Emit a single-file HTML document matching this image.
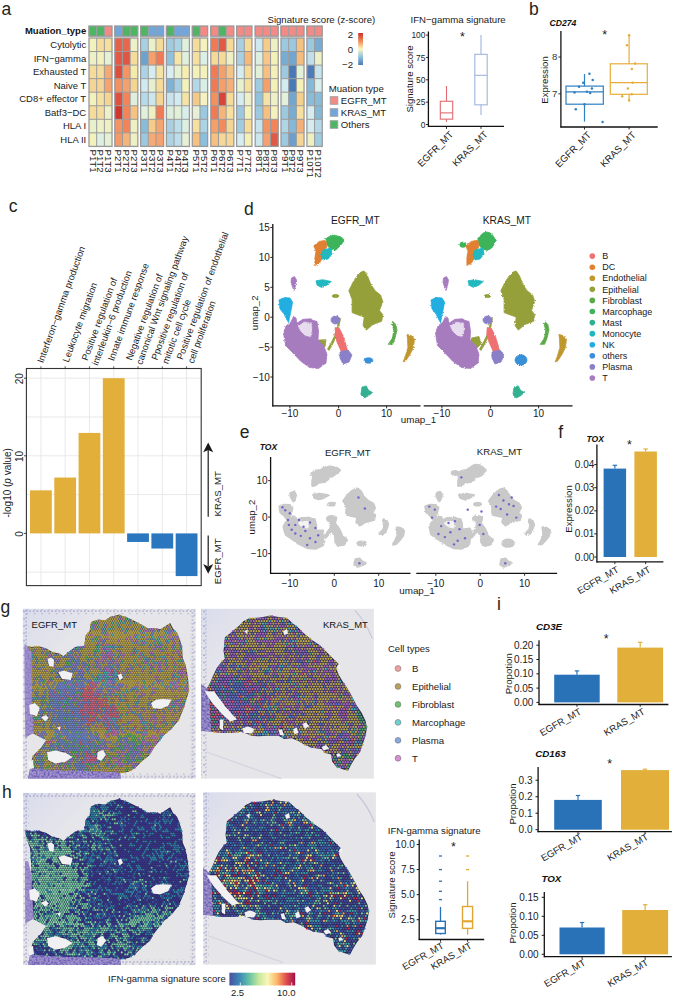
<!DOCTYPE html><html><head><meta charset="utf-8"><style>html,body{margin:0;padding:0;background:#fff;}svg{display:block;}</style></head><body>
<svg width="685" height="999" viewBox="0 0 685 999" font-family='"Liberation Sans", sans-serif'>
<rect width="685" height="999" fill="#fff"/>
<text x="1.50" y="14.50" font-size="17.5" text-anchor="start" fill="#231f20">a</text>
<rect x="89.00" y="26.00" width="7.68" height="10.20" fill="#4db564"/>
<rect x="96.68" y="26.00" width="7.68" height="10.20" fill="#4db564"/>
<rect x="104.36" y="26.00" width="7.68" height="10.20" fill="#f28a86"/>
<line x1="89.00" y1="26.00" x2="89.00" y2="36.20" stroke="#9a9a9a" stroke-width="1.0"/>
<line x1="96.68" y1="26.00" x2="96.68" y2="36.20" stroke="#9a9a9a" stroke-width="1.0"/>
<line x1="104.36" y1="26.00" x2="104.36" y2="36.20" stroke="#9a9a9a" stroke-width="1.0"/>
<rect x="89.00" y="26.00" width="23.04" height="10.20" fill="none" stroke="#9a9a9a" stroke-width="1.3"/>
<rect x="89.00" y="38.00" width="7.68" height="13.55" fill="#f3f2bd"/>
<rect x="96.68" y="38.00" width="7.68" height="13.55" fill="#f5dc9a"/>
<rect x="104.36" y="38.00" width="7.68" height="13.55" fill="#f5de9e"/>
<rect x="89.00" y="51.55" width="7.68" height="13.55" fill="#eef0c8"/>
<rect x="96.68" y="51.55" width="7.68" height="13.55" fill="#f3f2bd"/>
<rect x="104.36" y="51.55" width="7.68" height="13.55" fill="#e5f0d5"/>
<rect x="89.00" y="65.10" width="7.68" height="13.55" fill="#f5dc9a"/>
<rect x="96.68" y="65.10" width="7.68" height="13.55" fill="#f5dc9a"/>
<rect x="104.36" y="65.10" width="7.68" height="13.55" fill="#f5a872"/>
<rect x="89.00" y="78.65" width="7.68" height="13.55" fill="#f5d596"/>
<rect x="96.68" y="78.65" width="7.68" height="13.55" fill="#f5d596"/>
<rect x="104.36" y="78.65" width="7.68" height="13.55" fill="#f5a470"/>
<rect x="89.00" y="92.20" width="7.68" height="13.55" fill="#f3f2bd"/>
<rect x="96.68" y="92.20" width="7.68" height="13.55" fill="#f5e0a0"/>
<rect x="104.36" y="92.20" width="7.68" height="13.55" fill="#f5d592"/>
<rect x="89.00" y="105.75" width="7.68" height="13.55" fill="#f5dc9a"/>
<rect x="96.68" y="105.75" width="7.68" height="13.55" fill="#f5dc9a"/>
<rect x="104.36" y="105.75" width="7.68" height="13.55" fill="#eef0c8"/>
<rect x="89.00" y="119.30" width="7.68" height="13.55" fill="#e8f0cc"/>
<rect x="96.68" y="119.30" width="7.68" height="13.55" fill="#eef0c8"/>
<rect x="104.36" y="119.30" width="7.68" height="13.55" fill="#eef0c4"/>
<rect x="89.00" y="132.85" width="7.68" height="13.55" fill="#f3f2bd"/>
<rect x="96.68" y="132.85" width="7.68" height="13.55" fill="#dcefe0"/>
<rect x="104.36" y="132.85" width="7.68" height="13.55" fill="#e5f0d5"/>
<line x1="89.00" y1="51.55" x2="112.04" y2="51.55" stroke="#9a9a9a" stroke-width="1.0"/>
<line x1="89.00" y1="65.10" x2="112.04" y2="65.10" stroke="#9a9a9a" stroke-width="1.0"/>
<line x1="89.00" y1="78.65" x2="112.04" y2="78.65" stroke="#9a9a9a" stroke-width="1.0"/>
<line x1="89.00" y1="92.20" x2="112.04" y2="92.20" stroke="#9a9a9a" stroke-width="1.0"/>
<line x1="89.00" y1="105.75" x2="112.04" y2="105.75" stroke="#9a9a9a" stroke-width="1.0"/>
<line x1="89.00" y1="119.30" x2="112.04" y2="119.30" stroke="#9a9a9a" stroke-width="1.0"/>
<line x1="89.00" y1="132.85" x2="112.04" y2="132.85" stroke="#9a9a9a" stroke-width="1.0"/>
<line x1="96.68" y1="38.00" x2="96.68" y2="146.40" stroke="#9a9a9a" stroke-width="1.0"/>
<line x1="104.36" y1="38.00" x2="104.36" y2="146.40" stroke="#9a9a9a" stroke-width="1.0"/>
<rect x="89.00" y="38.00" width="23.04" height="108.40" fill="none" stroke="#9a9a9a" stroke-width="1.3"/>
<rect x="114.80" y="26.00" width="7.68" height="10.20" fill="#72a6db"/>
<rect x="122.48" y="26.00" width="7.68" height="10.20" fill="#4db564"/>
<rect x="130.16" y="26.00" width="7.68" height="10.20" fill="#4db564"/>
<line x1="114.80" y1="26.00" x2="114.80" y2="36.20" stroke="#9a9a9a" stroke-width="1.0"/>
<line x1="122.48" y1="26.00" x2="122.48" y2="36.20" stroke="#9a9a9a" stroke-width="1.0"/>
<line x1="130.16" y1="26.00" x2="130.16" y2="36.20" stroke="#9a9a9a" stroke-width="1.0"/>
<rect x="114.80" y="26.00" width="23.04" height="10.20" fill="none" stroke="#9a9a9a" stroke-width="1.3"/>
<rect x="114.80" y="38.00" width="7.68" height="13.55" fill="#e5624a"/>
<rect x="122.48" y="38.00" width="7.68" height="13.55" fill="#e8674c"/>
<rect x="130.16" y="38.00" width="7.68" height="13.55" fill="#eef0c8"/>
<rect x="114.80" y="51.55" width="7.68" height="13.55" fill="#e25a45"/>
<rect x="122.48" y="51.55" width="7.68" height="13.55" fill="#e05545"/>
<rect x="130.16" y="51.55" width="7.68" height="13.55" fill="#f5dc9a"/>
<rect x="114.80" y="65.10" width="7.68" height="13.55" fill="#dc4f3d"/>
<rect x="122.48" y="65.10" width="7.68" height="13.55" fill="#f59363"/>
<rect x="130.16" y="65.10" width="7.68" height="13.55" fill="#f5eba8"/>
<rect x="114.80" y="78.65" width="7.68" height="13.55" fill="#f59060"/>
<rect x="122.48" y="78.65" width="7.68" height="13.55" fill="#f5a070"/>
<rect x="130.16" y="78.65" width="7.68" height="13.55" fill="#f5d592"/>
<rect x="114.80" y="92.20" width="7.68" height="13.55" fill="#df5040"/>
<rect x="122.48" y="92.20" width="7.68" height="13.55" fill="#f3845a"/>
<rect x="130.16" y="92.20" width="7.68" height="13.55" fill="#deefdd"/>
<rect x="114.80" y="105.75" width="7.68" height="13.55" fill="#d0352e"/>
<rect x="122.48" y="105.75" width="7.68" height="13.55" fill="#f3845a"/>
<rect x="130.16" y="105.75" width="7.68" height="13.55" fill="#f5c282"/>
<rect x="114.80" y="119.30" width="7.68" height="13.55" fill="#f39464"/>
<rect x="122.48" y="119.30" width="7.68" height="13.55" fill="#f3845a"/>
<rect x="130.16" y="119.30" width="7.68" height="13.55" fill="#eef0c4"/>
<rect x="114.80" y="132.85" width="7.68" height="13.55" fill="#f39a68"/>
<rect x="122.48" y="132.85" width="7.68" height="13.55" fill="#f5b57a"/>
<rect x="130.16" y="132.85" width="7.68" height="13.55" fill="#eef0c4"/>
<line x1="114.80" y1="51.55" x2="137.84" y2="51.55" stroke="#9a9a9a" stroke-width="1.0"/>
<line x1="114.80" y1="65.10" x2="137.84" y2="65.10" stroke="#9a9a9a" stroke-width="1.0"/>
<line x1="114.80" y1="78.65" x2="137.84" y2="78.65" stroke="#9a9a9a" stroke-width="1.0"/>
<line x1="114.80" y1="92.20" x2="137.84" y2="92.20" stroke="#9a9a9a" stroke-width="1.0"/>
<line x1="114.80" y1="105.75" x2="137.84" y2="105.75" stroke="#9a9a9a" stroke-width="1.0"/>
<line x1="114.80" y1="119.30" x2="137.84" y2="119.30" stroke="#9a9a9a" stroke-width="1.0"/>
<line x1="114.80" y1="132.85" x2="137.84" y2="132.85" stroke="#9a9a9a" stroke-width="1.0"/>
<line x1="122.48" y1="38.00" x2="122.48" y2="146.40" stroke="#9a9a9a" stroke-width="1.0"/>
<line x1="130.16" y1="38.00" x2="130.16" y2="146.40" stroke="#9a9a9a" stroke-width="1.0"/>
<rect x="114.80" y="38.00" width="23.04" height="108.40" fill="none" stroke="#9a9a9a" stroke-width="1.3"/>
<rect x="140.60" y="26.00" width="7.68" height="10.20" fill="#4db564"/>
<rect x="148.28" y="26.00" width="7.68" height="10.20" fill="#72a6db"/>
<rect x="155.96" y="26.00" width="7.68" height="10.20" fill="#72a6db"/>
<line x1="140.60" y1="26.00" x2="140.60" y2="36.20" stroke="#9a9a9a" stroke-width="1.0"/>
<line x1="148.28" y1="26.00" x2="148.28" y2="36.20" stroke="#9a9a9a" stroke-width="1.0"/>
<line x1="155.96" y1="26.00" x2="155.96" y2="36.20" stroke="#9a9a9a" stroke-width="1.0"/>
<rect x="140.60" y="26.00" width="23.04" height="10.20" fill="none" stroke="#9a9a9a" stroke-width="1.3"/>
<rect x="140.60" y="38.00" width="7.68" height="13.55" fill="#a8d0e2"/>
<rect x="148.28" y="38.00" width="7.68" height="13.55" fill="#e8f0cc"/>
<rect x="155.96" y="38.00" width="7.68" height="13.55" fill="#f5da98"/>
<rect x="140.60" y="51.55" width="7.68" height="13.55" fill="#6ea2cc"/>
<rect x="148.28" y="51.55" width="7.68" height="13.55" fill="#f5a06a"/>
<rect x="155.96" y="51.55" width="7.68" height="13.55" fill="#f07a55"/>
<rect x="140.60" y="65.10" width="7.68" height="13.55" fill="#acd3e4"/>
<rect x="148.28" y="65.10" width="7.68" height="13.55" fill="#d5edf0"/>
<rect x="155.96" y="65.10" width="7.68" height="13.55" fill="#f5e3a5"/>
<rect x="140.60" y="78.65" width="7.68" height="13.55" fill="#d0eaf0"/>
<rect x="148.28" y="78.65" width="7.68" height="13.55" fill="#e6f0d0"/>
<rect x="155.96" y="78.65" width="7.68" height="13.55" fill="#f5dc9a"/>
<rect x="140.60" y="92.20" width="7.68" height="13.55" fill="#b5daea"/>
<rect x="148.28" y="92.20" width="7.68" height="13.55" fill="#cce6ee"/>
<rect x="155.96" y="92.20" width="7.68" height="13.55" fill="#f5d594"/>
<rect x="140.60" y="105.75" width="7.68" height="13.55" fill="#dff0dc"/>
<rect x="148.28" y="105.75" width="7.68" height="13.55" fill="#eef0c0"/>
<rect x="155.96" y="105.75" width="7.68" height="13.55" fill="#f07c55"/>
<rect x="140.60" y="119.30" width="7.68" height="13.55" fill="#88bcd9"/>
<rect x="148.28" y="119.30" width="7.68" height="13.55" fill="#f5cc8a"/>
<rect x="155.96" y="119.30" width="7.68" height="13.55" fill="#f5a570"/>
<rect x="140.60" y="132.85" width="7.68" height="13.55" fill="#9cc7de"/>
<rect x="148.28" y="132.85" width="7.68" height="13.55" fill="#f5aa75"/>
<rect x="155.96" y="132.85" width="7.68" height="13.55" fill="#f5a070"/>
<line x1="140.60" y1="51.55" x2="163.64" y2="51.55" stroke="#9a9a9a" stroke-width="1.0"/>
<line x1="140.60" y1="65.10" x2="163.64" y2="65.10" stroke="#9a9a9a" stroke-width="1.0"/>
<line x1="140.60" y1="78.65" x2="163.64" y2="78.65" stroke="#9a9a9a" stroke-width="1.0"/>
<line x1="140.60" y1="92.20" x2="163.64" y2="92.20" stroke="#9a9a9a" stroke-width="1.0"/>
<line x1="140.60" y1="105.75" x2="163.64" y2="105.75" stroke="#9a9a9a" stroke-width="1.0"/>
<line x1="140.60" y1="119.30" x2="163.64" y2="119.30" stroke="#9a9a9a" stroke-width="1.0"/>
<line x1="140.60" y1="132.85" x2="163.64" y2="132.85" stroke="#9a9a9a" stroke-width="1.0"/>
<line x1="148.28" y1="38.00" x2="148.28" y2="146.40" stroke="#9a9a9a" stroke-width="1.0"/>
<line x1="155.96" y1="38.00" x2="155.96" y2="146.40" stroke="#9a9a9a" stroke-width="1.0"/>
<rect x="140.60" y="38.00" width="23.04" height="108.40" fill="none" stroke="#9a9a9a" stroke-width="1.3"/>
<rect x="166.40" y="26.00" width="7.68" height="10.20" fill="#4db564"/>
<rect x="174.08" y="26.00" width="7.68" height="10.20" fill="#72a6db"/>
<rect x="181.76" y="26.00" width="7.68" height="10.20" fill="#72a6db"/>
<line x1="166.40" y1="26.00" x2="166.40" y2="36.20" stroke="#9a9a9a" stroke-width="1.0"/>
<line x1="174.08" y1="26.00" x2="174.08" y2="36.20" stroke="#9a9a9a" stroke-width="1.0"/>
<line x1="181.76" y1="26.00" x2="181.76" y2="36.20" stroke="#9a9a9a" stroke-width="1.0"/>
<rect x="166.40" y="26.00" width="23.04" height="10.20" fill="none" stroke="#9a9a9a" stroke-width="1.3"/>
<rect x="166.40" y="38.00" width="7.68" height="13.55" fill="#a0cce0"/>
<rect x="174.08" y="38.00" width="7.68" height="13.55" fill="#acd3e4"/>
<rect x="181.76" y="38.00" width="7.68" height="13.55" fill="#dff0dc"/>
<rect x="166.40" y="51.55" width="7.68" height="13.55" fill="#90c2dc"/>
<rect x="174.08" y="51.55" width="7.68" height="13.55" fill="#f5e6a8"/>
<rect x="181.76" y="51.55" width="7.68" height="13.55" fill="#e0f0dc"/>
<rect x="166.40" y="65.10" width="7.68" height="13.55" fill="#d8eef0"/>
<rect x="174.08" y="65.10" width="7.68" height="13.55" fill="#e6f0d2"/>
<rect x="181.76" y="65.10" width="7.68" height="13.55" fill="#f5eeb0"/>
<rect x="166.40" y="78.65" width="7.68" height="13.55" fill="#80b4d6"/>
<rect x="174.08" y="78.65" width="7.68" height="13.55" fill="#a8d0e2"/>
<rect x="181.76" y="78.65" width="7.68" height="13.55" fill="#f3f2bd"/>
<rect x="166.40" y="92.20" width="7.68" height="13.55" fill="#c6e3ee"/>
<rect x="174.08" y="92.20" width="7.68" height="13.55" fill="#d2ebf0"/>
<rect x="181.76" y="92.20" width="7.68" height="13.55" fill="#f5e3a5"/>
<rect x="166.40" y="105.75" width="7.68" height="13.55" fill="#dcefdc"/>
<rect x="174.08" y="105.75" width="7.68" height="13.55" fill="#e2f0d8"/>
<rect x="181.76" y="105.75" width="7.68" height="13.55" fill="#d8eeeb"/>
<rect x="166.40" y="119.30" width="7.68" height="13.55" fill="#a8d0e2"/>
<rect x="174.08" y="119.30" width="7.68" height="13.55" fill="#bcdde9"/>
<rect x="181.76" y="119.30" width="7.68" height="13.55" fill="#dcefe3"/>
<rect x="166.40" y="132.85" width="7.68" height="13.55" fill="#acd3e4"/>
<rect x="174.08" y="132.85" width="7.68" height="13.55" fill="#bcdde9"/>
<rect x="181.76" y="132.85" width="7.68" height="13.55" fill="#e6f0d6"/>
<line x1="166.40" y1="51.55" x2="189.44" y2="51.55" stroke="#9a9a9a" stroke-width="1.0"/>
<line x1="166.40" y1="65.10" x2="189.44" y2="65.10" stroke="#9a9a9a" stroke-width="1.0"/>
<line x1="166.40" y1="78.65" x2="189.44" y2="78.65" stroke="#9a9a9a" stroke-width="1.0"/>
<line x1="166.40" y1="92.20" x2="189.44" y2="92.20" stroke="#9a9a9a" stroke-width="1.0"/>
<line x1="166.40" y1="105.75" x2="189.44" y2="105.75" stroke="#9a9a9a" stroke-width="1.0"/>
<line x1="166.40" y1="119.30" x2="189.44" y2="119.30" stroke="#9a9a9a" stroke-width="1.0"/>
<line x1="166.40" y1="132.85" x2="189.44" y2="132.85" stroke="#9a9a9a" stroke-width="1.0"/>
<line x1="174.08" y1="38.00" x2="174.08" y2="146.40" stroke="#9a9a9a" stroke-width="1.0"/>
<line x1="181.76" y1="38.00" x2="181.76" y2="146.40" stroke="#9a9a9a" stroke-width="1.0"/>
<rect x="166.40" y="38.00" width="23.04" height="108.40" fill="none" stroke="#9a9a9a" stroke-width="1.3"/>
<rect x="192.30" y="26.00" width="7.68" height="10.20" fill="#4db564"/>
<rect x="199.98" y="26.00" width="7.68" height="10.20" fill="#f28a86"/>
<line x1="192.30" y1="26.00" x2="192.30" y2="36.20" stroke="#9a9a9a" stroke-width="1.0"/>
<line x1="199.98" y1="26.00" x2="199.98" y2="36.20" stroke="#9a9a9a" stroke-width="1.0"/>
<rect x="192.30" y="26.00" width="15.36" height="10.20" fill="none" stroke="#9a9a9a" stroke-width="1.3"/>
<rect x="192.30" y="38.00" width="7.68" height="13.55" fill="#f5dc9a"/>
<rect x="199.98" y="38.00" width="7.68" height="13.55" fill="#f3f2bd"/>
<rect x="192.30" y="51.55" width="7.68" height="13.55" fill="#f5e0a0"/>
<rect x="199.98" y="51.55" width="7.68" height="13.55" fill="#dcefe6"/>
<rect x="192.30" y="65.10" width="7.68" height="13.55" fill="#f3f0b8"/>
<rect x="199.98" y="65.10" width="7.68" height="13.55" fill="#f3f2bd"/>
<rect x="192.30" y="78.65" width="7.68" height="13.55" fill="#b5d8e8"/>
<rect x="199.98" y="78.65" width="7.68" height="13.55" fill="#d8eee6"/>
<rect x="192.30" y="92.20" width="7.68" height="13.55" fill="#f5ca88"/>
<rect x="199.98" y="92.20" width="7.68" height="13.55" fill="#f3f2c0"/>
<rect x="192.30" y="105.75" width="7.68" height="13.55" fill="#e6f0d6"/>
<rect x="199.98" y="105.75" width="7.68" height="13.55" fill="#9cc9df"/>
<rect x="192.30" y="119.30" width="7.68" height="13.55" fill="#f5e0a0"/>
<rect x="199.98" y="119.30" width="7.68" height="13.55" fill="#acd3e4"/>
<rect x="192.30" y="132.85" width="7.68" height="13.55" fill="#f5c080"/>
<rect x="199.98" y="132.85" width="7.68" height="13.55" fill="#8cbfdc"/>
<line x1="192.30" y1="51.55" x2="207.66" y2="51.55" stroke="#9a9a9a" stroke-width="1.0"/>
<line x1="192.30" y1="65.10" x2="207.66" y2="65.10" stroke="#9a9a9a" stroke-width="1.0"/>
<line x1="192.30" y1="78.65" x2="207.66" y2="78.65" stroke="#9a9a9a" stroke-width="1.0"/>
<line x1="192.30" y1="92.20" x2="207.66" y2="92.20" stroke="#9a9a9a" stroke-width="1.0"/>
<line x1="192.30" y1="105.75" x2="207.66" y2="105.75" stroke="#9a9a9a" stroke-width="1.0"/>
<line x1="192.30" y1="119.30" x2="207.66" y2="119.30" stroke="#9a9a9a" stroke-width="1.0"/>
<line x1="192.30" y1="132.85" x2="207.66" y2="132.85" stroke="#9a9a9a" stroke-width="1.0"/>
<line x1="199.98" y1="38.00" x2="199.98" y2="146.40" stroke="#9a9a9a" stroke-width="1.0"/>
<rect x="192.30" y="38.00" width="15.36" height="108.40" fill="none" stroke="#9a9a9a" stroke-width="1.3"/>
<rect x="210.80" y="26.00" width="7.68" height="10.20" fill="#f28a86"/>
<rect x="218.48" y="26.00" width="7.68" height="10.20" fill="#4db564"/>
<rect x="226.16" y="26.00" width="7.68" height="10.20" fill="#f28a86"/>
<line x1="210.80" y1="26.00" x2="210.80" y2="36.20" stroke="#9a9a9a" stroke-width="1.0"/>
<line x1="218.48" y1="26.00" x2="218.48" y2="36.20" stroke="#9a9a9a" stroke-width="1.0"/>
<line x1="226.16" y1="26.00" x2="226.16" y2="36.20" stroke="#9a9a9a" stroke-width="1.0"/>
<rect x="210.80" y="26.00" width="23.04" height="10.20" fill="none" stroke="#9a9a9a" stroke-width="1.3"/>
<rect x="210.80" y="38.00" width="7.68" height="13.55" fill="#f07a55"/>
<rect x="218.48" y="38.00" width="7.68" height="13.55" fill="#e05a45"/>
<rect x="226.16" y="38.00" width="7.68" height="13.55" fill="#f5da98"/>
<rect x="210.80" y="51.55" width="7.68" height="13.55" fill="#f5da98"/>
<rect x="218.48" y="51.55" width="7.68" height="13.55" fill="#f5da98"/>
<rect x="226.16" y="51.55" width="7.68" height="13.55" fill="#eef0c4"/>
<rect x="210.80" y="65.10" width="7.68" height="13.55" fill="#f07a55"/>
<rect x="218.48" y="65.10" width="7.68" height="13.55" fill="#f5a06a"/>
<rect x="226.16" y="65.10" width="7.68" height="13.55" fill="#f5c588"/>
<rect x="210.80" y="78.65" width="7.68" height="13.55" fill="#f07a55"/>
<rect x="218.48" y="78.65" width="7.68" height="13.55" fill="#f5a06a"/>
<rect x="226.16" y="78.65" width="7.68" height="13.55" fill="#f5b07a"/>
<rect x="210.80" y="92.20" width="7.68" height="13.55" fill="#f39060"/>
<rect x="218.48" y="92.20" width="7.68" height="13.55" fill="#d8443a"/>
<rect x="226.16" y="92.20" width="7.68" height="13.55" fill="#f5da98"/>
<rect x="210.80" y="105.75" width="7.68" height="13.55" fill="#f07a55"/>
<rect x="218.48" y="105.75" width="7.68" height="13.55" fill="#f5b57a"/>
<rect x="226.16" y="105.75" width="7.68" height="13.55" fill="#f5e0a0"/>
<rect x="210.80" y="119.30" width="7.68" height="13.55" fill="#f5a06a"/>
<rect x="218.48" y="119.30" width="7.68" height="13.55" fill="#f38a5c"/>
<rect x="226.16" y="119.30" width="7.68" height="13.55" fill="#f5d594"/>
<rect x="210.80" y="132.85" width="7.68" height="13.55" fill="#f5c080"/>
<rect x="218.48" y="132.85" width="7.68" height="13.55" fill="#f5d898"/>
<rect x="226.16" y="132.85" width="7.68" height="13.55" fill="#f5d898"/>
<line x1="210.80" y1="51.55" x2="233.84" y2="51.55" stroke="#9a9a9a" stroke-width="1.0"/>
<line x1="210.80" y1="65.10" x2="233.84" y2="65.10" stroke="#9a9a9a" stroke-width="1.0"/>
<line x1="210.80" y1="78.65" x2="233.84" y2="78.65" stroke="#9a9a9a" stroke-width="1.0"/>
<line x1="210.80" y1="92.20" x2="233.84" y2="92.20" stroke="#9a9a9a" stroke-width="1.0"/>
<line x1="210.80" y1="105.75" x2="233.84" y2="105.75" stroke="#9a9a9a" stroke-width="1.0"/>
<line x1="210.80" y1="119.30" x2="233.84" y2="119.30" stroke="#9a9a9a" stroke-width="1.0"/>
<line x1="210.80" y1="132.85" x2="233.84" y2="132.85" stroke="#9a9a9a" stroke-width="1.0"/>
<line x1="218.48" y1="38.00" x2="218.48" y2="146.40" stroke="#9a9a9a" stroke-width="1.0"/>
<line x1="226.16" y1="38.00" x2="226.16" y2="146.40" stroke="#9a9a9a" stroke-width="1.0"/>
<rect x="210.80" y="38.00" width="23.04" height="108.40" fill="none" stroke="#9a9a9a" stroke-width="1.3"/>
<rect x="236.60" y="26.00" width="7.68" height="10.20" fill="#f28a86"/>
<rect x="244.28" y="26.00" width="7.68" height="10.20" fill="#f28a86"/>
<line x1="236.60" y1="26.00" x2="236.60" y2="36.20" stroke="#9a9a9a" stroke-width="1.0"/>
<line x1="244.28" y1="26.00" x2="244.28" y2="36.20" stroke="#9a9a9a" stroke-width="1.0"/>
<rect x="236.60" y="26.00" width="15.36" height="10.20" fill="none" stroke="#9a9a9a" stroke-width="1.3"/>
<rect x="236.60" y="38.00" width="7.68" height="13.55" fill="#a8d0e2"/>
<rect x="244.28" y="38.00" width="7.68" height="13.55" fill="#f5da98"/>
<rect x="236.60" y="51.55" width="7.68" height="13.55" fill="#a8d0e2"/>
<rect x="244.28" y="51.55" width="7.68" height="13.55" fill="#f5ba7a"/>
<rect x="236.60" y="65.10" width="7.68" height="13.55" fill="#d5edf0"/>
<rect x="244.28" y="65.10" width="7.68" height="13.55" fill="#f5da98"/>
<rect x="236.60" y="78.65" width="7.68" height="13.55" fill="#e8f0cc"/>
<rect x="244.28" y="78.65" width="7.68" height="13.55" fill="#f5e0a0"/>
<rect x="236.60" y="92.20" width="7.68" height="13.55" fill="#d5edf0"/>
<rect x="244.28" y="92.20" width="7.68" height="13.55" fill="#eef0c8"/>
<rect x="236.60" y="105.75" width="7.68" height="13.55" fill="#9cc9df"/>
<rect x="244.28" y="105.75" width="7.68" height="13.55" fill="#f3f2bd"/>
<rect x="236.60" y="119.30" width="7.68" height="13.55" fill="#a0cce0"/>
<rect x="244.28" y="119.30" width="7.68" height="13.55" fill="#f5dc9a"/>
<rect x="236.60" y="132.85" width="7.68" height="13.55" fill="#d5edf0"/>
<rect x="244.28" y="132.85" width="7.68" height="13.55" fill="#f3f0b8"/>
<line x1="236.60" y1="51.55" x2="251.96" y2="51.55" stroke="#9a9a9a" stroke-width="1.0"/>
<line x1="236.60" y1="65.10" x2="251.96" y2="65.10" stroke="#9a9a9a" stroke-width="1.0"/>
<line x1="236.60" y1="78.65" x2="251.96" y2="78.65" stroke="#9a9a9a" stroke-width="1.0"/>
<line x1="236.60" y1="92.20" x2="251.96" y2="92.20" stroke="#9a9a9a" stroke-width="1.0"/>
<line x1="236.60" y1="105.75" x2="251.96" y2="105.75" stroke="#9a9a9a" stroke-width="1.0"/>
<line x1="236.60" y1="119.30" x2="251.96" y2="119.30" stroke="#9a9a9a" stroke-width="1.0"/>
<line x1="236.60" y1="132.85" x2="251.96" y2="132.85" stroke="#9a9a9a" stroke-width="1.0"/>
<line x1="244.28" y1="38.00" x2="244.28" y2="146.40" stroke="#9a9a9a" stroke-width="1.0"/>
<rect x="236.60" y="38.00" width="15.36" height="108.40" fill="none" stroke="#9a9a9a" stroke-width="1.3"/>
<rect x="255.20" y="26.00" width="7.68" height="10.20" fill="#f28a86"/>
<rect x="262.88" y="26.00" width="7.68" height="10.20" fill="#f28a86"/>
<rect x="270.56" y="26.00" width="7.68" height="10.20" fill="#f28a86"/>
<line x1="255.20" y1="26.00" x2="255.20" y2="36.20" stroke="#9a9a9a" stroke-width="1.0"/>
<line x1="262.88" y1="26.00" x2="262.88" y2="36.20" stroke="#9a9a9a" stroke-width="1.0"/>
<line x1="270.56" y1="26.00" x2="270.56" y2="36.20" stroke="#9a9a9a" stroke-width="1.0"/>
<rect x="255.20" y="26.00" width="23.04" height="10.20" fill="none" stroke="#9a9a9a" stroke-width="1.3"/>
<rect x="255.20" y="38.00" width="7.68" height="13.55" fill="#cde8ef"/>
<rect x="262.88" y="38.00" width="7.68" height="13.55" fill="#f5cc8a"/>
<rect x="270.56" y="38.00" width="7.68" height="13.55" fill="#eef0c4"/>
<rect x="255.20" y="51.55" width="7.68" height="13.55" fill="#dcefe3"/>
<rect x="262.88" y="51.55" width="7.68" height="13.55" fill="#f5c888"/>
<rect x="270.56" y="51.55" width="7.68" height="13.55" fill="#f3f0b8"/>
<rect x="255.20" y="65.10" width="7.68" height="13.55" fill="#e2f0d8"/>
<rect x="262.88" y="65.10" width="7.68" height="13.55" fill="#f5c080"/>
<rect x="270.56" y="65.10" width="7.68" height="13.55" fill="#f3f0b8"/>
<rect x="255.20" y="78.65" width="7.68" height="13.55" fill="#a0cce0"/>
<rect x="262.88" y="78.65" width="7.68" height="13.55" fill="#f5a06a"/>
<rect x="270.56" y="78.65" width="7.68" height="13.55" fill="#f3f0b8"/>
<rect x="255.20" y="92.20" width="7.68" height="13.55" fill="#90c2dc"/>
<rect x="262.88" y="92.20" width="7.68" height="13.55" fill="#f5e3a5"/>
<rect x="270.56" y="92.20" width="7.68" height="13.55" fill="#eef0c8"/>
<rect x="255.20" y="105.75" width="7.68" height="13.55" fill="#9cc9df"/>
<rect x="262.88" y="105.75" width="7.68" height="13.55" fill="#f5c080"/>
<rect x="270.56" y="105.75" width="7.68" height="13.55" fill="#f3f2bd"/>
<rect x="255.20" y="119.30" width="7.68" height="13.55" fill="#c6e3ee"/>
<rect x="262.88" y="119.30" width="7.68" height="13.55" fill="#f39464"/>
<rect x="270.56" y="119.30" width="7.68" height="13.55" fill="#f38358"/>
<rect x="255.20" y="132.85" width="7.68" height="13.55" fill="#cce6ee"/>
<rect x="262.88" y="132.85" width="7.68" height="13.55" fill="#f5a070"/>
<rect x="270.56" y="132.85" width="7.68" height="13.55" fill="#de5a45"/>
<line x1="255.20" y1="51.55" x2="278.24" y2="51.55" stroke="#9a9a9a" stroke-width="1.0"/>
<line x1="255.20" y1="65.10" x2="278.24" y2="65.10" stroke="#9a9a9a" stroke-width="1.0"/>
<line x1="255.20" y1="78.65" x2="278.24" y2="78.65" stroke="#9a9a9a" stroke-width="1.0"/>
<line x1="255.20" y1="92.20" x2="278.24" y2="92.20" stroke="#9a9a9a" stroke-width="1.0"/>
<line x1="255.20" y1="105.75" x2="278.24" y2="105.75" stroke="#9a9a9a" stroke-width="1.0"/>
<line x1="255.20" y1="119.30" x2="278.24" y2="119.30" stroke="#9a9a9a" stroke-width="1.0"/>
<line x1="255.20" y1="132.85" x2="278.24" y2="132.85" stroke="#9a9a9a" stroke-width="1.0"/>
<line x1="262.88" y1="38.00" x2="262.88" y2="146.40" stroke="#9a9a9a" stroke-width="1.0"/>
<line x1="270.56" y1="38.00" x2="270.56" y2="146.40" stroke="#9a9a9a" stroke-width="1.0"/>
<rect x="255.20" y="38.00" width="23.04" height="108.40" fill="none" stroke="#9a9a9a" stroke-width="1.3"/>
<rect x="281.00" y="26.00" width="7.68" height="10.20" fill="#f28a86"/>
<rect x="288.68" y="26.00" width="7.68" height="10.20" fill="#f28a86"/>
<rect x="296.36" y="26.00" width="7.68" height="10.20" fill="#f28a86"/>
<line x1="281.00" y1="26.00" x2="281.00" y2="36.20" stroke="#9a9a9a" stroke-width="1.0"/>
<line x1="288.68" y1="26.00" x2="288.68" y2="36.20" stroke="#9a9a9a" stroke-width="1.0"/>
<line x1="296.36" y1="26.00" x2="296.36" y2="36.20" stroke="#9a9a9a" stroke-width="1.0"/>
<rect x="281.00" y="26.00" width="23.04" height="10.20" fill="none" stroke="#9a9a9a" stroke-width="1.3"/>
<rect x="281.00" y="38.00" width="7.68" height="13.55" fill="#9cc9df"/>
<rect x="288.68" y="38.00" width="7.68" height="13.55" fill="#9cc9df"/>
<rect x="296.36" y="38.00" width="7.68" height="13.55" fill="#f5c282"/>
<rect x="281.00" y="51.55" width="7.68" height="13.55" fill="#78acd2"/>
<rect x="288.68" y="51.55" width="7.68" height="13.55" fill="#72a6cf"/>
<rect x="296.36" y="51.55" width="7.68" height="13.55" fill="#f5bc7c"/>
<rect x="281.00" y="65.10" width="7.68" height="13.55" fill="#9cc9df"/>
<rect x="288.68" y="65.10" width="7.68" height="13.55" fill="#4a7ab5"/>
<rect x="296.36" y="65.10" width="7.68" height="13.55" fill="#e2f0d8"/>
<rect x="281.00" y="78.65" width="7.68" height="13.55" fill="#d2ebf0"/>
<rect x="288.68" y="78.65" width="7.68" height="13.55" fill="#4a7ab5"/>
<rect x="296.36" y="78.65" width="7.68" height="13.55" fill="#f3f0b8"/>
<rect x="281.00" y="92.20" width="7.68" height="13.55" fill="#e2f0dc"/>
<rect x="288.68" y="92.20" width="7.68" height="13.55" fill="#72a6cf"/>
<rect x="296.36" y="92.20" width="7.68" height="13.55" fill="#f5d08c"/>
<rect x="281.00" y="105.75" width="7.68" height="13.55" fill="#9cc9df"/>
<rect x="288.68" y="105.75" width="7.68" height="13.55" fill="#78acd2"/>
<rect x="296.36" y="105.75" width="7.68" height="13.55" fill="#f5e0a0"/>
<rect x="281.00" y="119.30" width="7.68" height="13.55" fill="#b0d5e5"/>
<rect x="288.68" y="119.30" width="7.68" height="13.55" fill="#86b9d8"/>
<rect x="296.36" y="119.30" width="7.68" height="13.55" fill="#f5b07a"/>
<rect x="281.00" y="132.85" width="7.68" height="13.55" fill="#9cc9df"/>
<rect x="288.68" y="132.85" width="7.68" height="13.55" fill="#6e9fcc"/>
<rect x="296.36" y="132.85" width="7.68" height="13.55" fill="#f5d594"/>
<line x1="281.00" y1="51.55" x2="304.04" y2="51.55" stroke="#9a9a9a" stroke-width="1.0"/>
<line x1="281.00" y1="65.10" x2="304.04" y2="65.10" stroke="#9a9a9a" stroke-width="1.0"/>
<line x1="281.00" y1="78.65" x2="304.04" y2="78.65" stroke="#9a9a9a" stroke-width="1.0"/>
<line x1="281.00" y1="92.20" x2="304.04" y2="92.20" stroke="#9a9a9a" stroke-width="1.0"/>
<line x1="281.00" y1="105.75" x2="304.04" y2="105.75" stroke="#9a9a9a" stroke-width="1.0"/>
<line x1="281.00" y1="119.30" x2="304.04" y2="119.30" stroke="#9a9a9a" stroke-width="1.0"/>
<line x1="281.00" y1="132.85" x2="304.04" y2="132.85" stroke="#9a9a9a" stroke-width="1.0"/>
<line x1="288.68" y1="38.00" x2="288.68" y2="146.40" stroke="#9a9a9a" stroke-width="1.0"/>
<line x1="296.36" y1="38.00" x2="296.36" y2="146.40" stroke="#9a9a9a" stroke-width="1.0"/>
<rect x="281.00" y="38.00" width="23.04" height="108.40" fill="none" stroke="#9a9a9a" stroke-width="1.3"/>
<rect x="306.90" y="26.00" width="7.68" height="10.20" fill="#f28a86"/>
<rect x="314.58" y="26.00" width="7.68" height="10.20" fill="#f28a86"/>
<line x1="306.90" y1="26.00" x2="306.90" y2="36.20" stroke="#9a9a9a" stroke-width="1.0"/>
<line x1="314.58" y1="26.00" x2="314.58" y2="36.20" stroke="#9a9a9a" stroke-width="1.0"/>
<rect x="306.90" y="26.00" width="15.36" height="10.20" fill="none" stroke="#9a9a9a" stroke-width="1.3"/>
<rect x="306.90" y="38.00" width="7.68" height="13.55" fill="#9cc9df"/>
<rect x="314.58" y="38.00" width="7.68" height="13.55" fill="#78acd2"/>
<rect x="306.90" y="51.55" width="7.68" height="13.55" fill="#c0dfea"/>
<rect x="314.58" y="51.55" width="7.68" height="13.55" fill="#eef0c8"/>
<rect x="306.90" y="65.10" width="7.68" height="13.55" fill="#4d7db8"/>
<rect x="314.58" y="65.10" width="7.68" height="13.55" fill="#c6e3ee"/>
<rect x="306.90" y="78.65" width="7.68" height="13.55" fill="#86b9d8"/>
<rect x="314.58" y="78.65" width="7.68" height="13.55" fill="#d8eeeb"/>
<rect x="306.90" y="92.20" width="7.68" height="13.55" fill="#88bcd9"/>
<rect x="314.58" y="92.20" width="7.68" height="13.55" fill="#88bcd9"/>
<rect x="306.90" y="105.75" width="7.68" height="13.55" fill="#d5edf0"/>
<rect x="314.58" y="105.75" width="7.68" height="13.55" fill="#86b9d8"/>
<rect x="306.90" y="119.30" width="7.68" height="13.55" fill="#d5edf0"/>
<rect x="314.58" y="119.30" width="7.68" height="13.55" fill="#b5d8e8"/>
<rect x="306.90" y="132.85" width="7.68" height="13.55" fill="#eef0c4"/>
<rect x="314.58" y="132.85" width="7.68" height="13.55" fill="#a0cce0"/>
<line x1="306.90" y1="51.55" x2="322.26" y2="51.55" stroke="#9a9a9a" stroke-width="1.0"/>
<line x1="306.90" y1="65.10" x2="322.26" y2="65.10" stroke="#9a9a9a" stroke-width="1.0"/>
<line x1="306.90" y1="78.65" x2="322.26" y2="78.65" stroke="#9a9a9a" stroke-width="1.0"/>
<line x1="306.90" y1="92.20" x2="322.26" y2="92.20" stroke="#9a9a9a" stroke-width="1.0"/>
<line x1="306.90" y1="105.75" x2="322.26" y2="105.75" stroke="#9a9a9a" stroke-width="1.0"/>
<line x1="306.90" y1="119.30" x2="322.26" y2="119.30" stroke="#9a9a9a" stroke-width="1.0"/>
<line x1="306.90" y1="132.85" x2="322.26" y2="132.85" stroke="#9a9a9a" stroke-width="1.0"/>
<line x1="314.58" y1="38.00" x2="314.58" y2="146.40" stroke="#9a9a9a" stroke-width="1.0"/>
<rect x="306.90" y="38.00" width="15.36" height="108.40" fill="none" stroke="#9a9a9a" stroke-width="1.3"/>
<text x="86.20" y="34.20" font-size="9.5" text-anchor="end" font-weight="bold" fill="#111">Muation_type</text>
<text x="86.20" y="48.17" font-size="9.5" text-anchor="end" fill="#1a1a1a">Cytolytic</text>
<text x="86.20" y="61.72" font-size="9.5" text-anchor="end" fill="#1a1a1a">IFN−gamma</text>
<text x="86.20" y="75.28" font-size="9.5" text-anchor="end" fill="#1a1a1a">Exhausted T</text>
<text x="86.20" y="88.83" font-size="9.5" text-anchor="end" fill="#1a1a1a">Naive T</text>
<text x="86.20" y="102.38" font-size="9.5" text-anchor="end" fill="#1a1a1a">CD8+ effector T</text>
<text x="86.20" y="115.93" font-size="9.5" text-anchor="end" fill="#1a1a1a">Batf3−DC</text>
<text x="86.20" y="129.48" font-size="9.5" text-anchor="end" fill="#1a1a1a">HLA I</text>
<text x="86.20" y="143.03" font-size="9.5" text-anchor="end" fill="#1a1a1a">HLA II</text>
<text transform="translate(89.54,149.6) rotate(90)" font-size="9.6" fill="#1a1a1a">P1T1</text>
<text transform="translate(97.22,149.6) rotate(90)" font-size="9.6" fill="#1a1a1a">P1T2</text>
<text transform="translate(104.90,149.6) rotate(90)" font-size="9.6" fill="#1a1a1a">P1T3</text>
<text transform="translate(115.34,149.6) rotate(90)" font-size="9.6" fill="#1a1a1a">P2T1</text>
<text transform="translate(123.02,149.6) rotate(90)" font-size="9.6" fill="#1a1a1a">P2T2</text>
<text transform="translate(130.70,149.6) rotate(90)" font-size="9.6" fill="#1a1a1a">P2T3</text>
<text transform="translate(141.14,149.6) rotate(90)" font-size="9.6" fill="#1a1a1a">P3T1</text>
<text transform="translate(148.82,149.6) rotate(90)" font-size="9.6" fill="#1a1a1a">P3T2</text>
<text transform="translate(156.50,149.6) rotate(90)" font-size="9.6" fill="#1a1a1a">P3T3</text>
<text transform="translate(166.94,149.6) rotate(90)" font-size="9.6" fill="#1a1a1a">P4T1</text>
<text transform="translate(174.62,149.6) rotate(90)" font-size="9.6" fill="#1a1a1a">P4T2</text>
<text transform="translate(182.30,149.6) rotate(90)" font-size="9.6" fill="#1a1a1a">P4T3</text>
<text transform="translate(192.84,149.6) rotate(90)" font-size="9.6" fill="#1a1a1a">P5T1</text>
<text transform="translate(200.52,149.6) rotate(90)" font-size="9.6" fill="#1a1a1a">P5T2</text>
<text transform="translate(211.34,149.6) rotate(90)" font-size="9.6" fill="#1a1a1a">P6T1</text>
<text transform="translate(219.02,149.6) rotate(90)" font-size="9.6" fill="#1a1a1a">P6T2</text>
<text transform="translate(226.70,149.6) rotate(90)" font-size="9.6" fill="#1a1a1a">P6T3</text>
<text transform="translate(237.14,149.6) rotate(90)" font-size="9.6" fill="#1a1a1a">P7T1</text>
<text transform="translate(244.82,149.6) rotate(90)" font-size="9.6" fill="#1a1a1a">P7T2</text>
<text transform="translate(255.74,149.6) rotate(90)" font-size="9.6" fill="#1a1a1a">P8T1</text>
<text transform="translate(263.42,149.6) rotate(90)" font-size="9.6" fill="#1a1a1a">P8T2</text>
<text transform="translate(271.10,149.6) rotate(90)" font-size="9.6" fill="#1a1a1a">P8T3</text>
<text transform="translate(281.54,149.6) rotate(90)" font-size="9.6" fill="#1a1a1a">P9T1</text>
<text transform="translate(289.22,149.6) rotate(90)" font-size="9.6" fill="#1a1a1a">P9T2</text>
<text transform="translate(296.90,149.6) rotate(90)" font-size="9.6" fill="#1a1a1a">P9T3</text>
<text transform="translate(307.44,149.6) rotate(90)" font-size="9.6" fill="#1a1a1a">P10T1</text>
<text transform="translate(315.12,149.6) rotate(90)" font-size="9.6" fill="#1a1a1a">P10T2</text>
<text x="267.50" y="22.50" font-size="9.6" text-anchor="start" fill="#1a1a1a">Signature score (z-score)</text>
<defs><linearGradient id="zs" x1="0" y1="0" x2="0" y2="1"><stop offset="0" stop-color="#c9322c"/><stop offset="0.25" stop-color="#f08a52"/><stop offset="0.5" stop-color="#fbf7c4"/><stop offset="0.75" stop-color="#8ec0dd"/><stop offset="1" stop-color="#4b78b4"/></linearGradient></defs>
<rect x="358.20" y="33.00" width="4.80" height="32.00" fill="url(#zs)"/>
<text x="353.00" y="38.40" font-size="9.6" text-anchor="end" fill="#1a1a1a">2</text>
<text x="353.00" y="53.40" font-size="9.6" text-anchor="end" fill="#1a1a1a">0</text>
<text x="353.00" y="68.20" font-size="9.6" text-anchor="end" fill="#1a1a1a">−2</text>
<text x="328.80" y="92.20" font-size="9.6" text-anchor="start" fill="#1a1a1a">Muation type</text>
<rect x="330.20" y="96.70" width="7.60" height="7.60" fill="#f28a86" stroke="#a0a0a0" stroke-width="0.9"/>
<text x="340.80" y="103.90" font-size="9.6" text-anchor="start" fill="#1a1a1a">EGFR_MT</text>
<rect x="330.20" y="108.70" width="7.60" height="7.60" fill="#72a6db" stroke="#a0a0a0" stroke-width="0.9"/>
<text x="340.80" y="115.90" font-size="9.6" text-anchor="start" fill="#1a1a1a">KRAS_MT</text>
<rect x="330.20" y="120.70" width="7.60" height="7.60" fill="#4db564" stroke="#a0a0a0" stroke-width="0.9"/>
<text x="340.80" y="127.90" font-size="9.6" text-anchor="start" fill="#1a1a1a">Others</text>
<text x="410.50" y="23.00" font-size="9.6" text-anchor="start" fill="#1a1a1a">IFN−gamma signature</text>
<line x1="428.40" y1="31.50" x2="428.40" y2="126.90" stroke="#111" stroke-width="1.3"/>
<line x1="427.90" y1="126.40" x2="504.00" y2="126.40" stroke="#111" stroke-width="1.3"/>
<line x1="425.90" y1="124.50" x2="428.40" y2="124.50" stroke="#1a1a1a" stroke-width="0.9"/>
<text x="425.40" y="127.60" font-size="8.4" text-anchor="end" fill="#222">0</text>
<line x1="425.90" y1="102.15" x2="428.40" y2="102.15" stroke="#1a1a1a" stroke-width="0.9"/>
<text x="425.40" y="105.25" font-size="8.4" text-anchor="end" fill="#222">25</text>
<line x1="425.90" y1="79.80" x2="428.40" y2="79.80" stroke="#1a1a1a" stroke-width="0.9"/>
<text x="425.40" y="82.90" font-size="8.4" text-anchor="end" fill="#222">50</text>
<line x1="425.90" y1="57.45" x2="428.40" y2="57.45" stroke="#1a1a1a" stroke-width="0.9"/>
<text x="425.40" y="60.55" font-size="8.4" text-anchor="end" fill="#222">75</text>
<line x1="425.90" y1="35.10" x2="428.40" y2="35.10" stroke="#1a1a1a" stroke-width="0.9"/>
<text x="425.40" y="38.20" font-size="8.4" text-anchor="end" fill="#222">100</text>
<text transform="translate(413.2,79) rotate(-90)" font-size="9.6" text-anchor="middle" fill="#1a1a1a">Signature score</text>
<line x1="446.50" y1="86.06" x2="446.50" y2="101.26" stroke="#e06a70" stroke-width="1.1"/>
<line x1="446.50" y1="119.14" x2="446.50" y2="121.82" stroke="#e06a70" stroke-width="1.1"/>
<rect x="440.30" y="101.26" width="12.40" height="17.88" fill="none" stroke="#e06a70" stroke-width="1.1"/>
<line x1="440.30" y1="112.88" x2="452.70" y2="112.88" stroke="#e06a70" stroke-width="1.1"/>
<line x1="481.00" y1="35.10" x2="481.00" y2="54.32" stroke="#9fb4dd" stroke-width="1.1"/>
<line x1="481.00" y1="104.83" x2="481.00" y2="115.11" stroke="#9fb4dd" stroke-width="1.1"/>
<rect x="474.80" y="54.32" width="12.40" height="50.51" fill="none" stroke="#9fb4dd" stroke-width="1.1"/>
<line x1="474.80" y1="75.33" x2="487.20" y2="75.33" stroke="#9fb4dd" stroke-width="1.1"/>
<line x1="446.50" y1="126.40" x2="446.50" y2="128.90" stroke="#1a1a1a" stroke-width="0.9"/>
<line x1="481.00" y1="126.40" x2="481.00" y2="128.90" stroke="#1a1a1a" stroke-width="0.9"/>
<text x="462.50" y="40.70" font-size="12.5" text-anchor="middle" fill="#1a1a1a">*</text>
<text transform="translate(453.90,135.00) rotate(-45)" font-size="9.6" text-anchor="end" fill="#1a1a1a">EGFR_MT</text>
<text transform="translate(488.40,135.00) rotate(-45)" font-size="9.6" text-anchor="end" fill="#1a1a1a">KRAS_MT</text>
<text x="529.00" y="15.00" font-size="17.5" text-anchor="start" fill="#231f20">b</text>
<text x="549.60" y="26.30" font-size="8.6" text-anchor="start" font-weight="bold" font-style="italic" fill="#111">CD274</text>
<line x1="560.90" y1="31.00" x2="560.90" y2="127.50" stroke="#111" stroke-width="1.3"/>
<line x1="560.40" y1="127.00" x2="657.70" y2="127.00" stroke="#111" stroke-width="1.3"/>
<line x1="558.40" y1="93.80" x2="560.90" y2="93.80" stroke="#1a1a1a" stroke-width="0.9"/>
<text x="557.40" y="97.10" font-size="9.6" text-anchor="end" fill="#333">7</text>
<line x1="558.40" y1="57.00" x2="560.90" y2="57.00" stroke="#1a1a1a" stroke-width="0.9"/>
<text x="557.40" y="60.30" font-size="9.6" text-anchor="end" fill="#333">8</text>
<text transform="translate(547.6,80) rotate(-90)" font-size="9.6" text-anchor="middle" fill="#1a1a1a">Expression</text>
<line x1="584.50" y1="74.00" x2="584.50" y2="86.10" stroke="#2f7fc1" stroke-width="1.2"/>
<line x1="584.50" y1="104.20" x2="584.50" y2="121.60" stroke="#2f7fc1" stroke-width="1.2"/>
<rect x="566.00" y="86.10" width="37.30" height="18.10" fill="none" stroke="#2f7fc1" stroke-width="1.2"/>
<line x1="566.00" y1="91.80" x2="603.30" y2="91.80" stroke="#2f7fc1" stroke-width="1.2"/>
<line x1="629.10" y1="35.20" x2="629.10" y2="63.80" stroke="#e6ad3a" stroke-width="1.2"/>
<line x1="629.10" y1="94.30" x2="629.10" y2="100.50" stroke="#e6ad3a" stroke-width="1.2"/>
<rect x="610.30" y="63.80" width="37.00" height="30.50" fill="none" stroke="#e6ad3a" stroke-width="1.2"/>
<line x1="610.30" y1="82.60" x2="647.30" y2="82.60" stroke="#e6ad3a" stroke-width="1.2"/>
<circle cx="589.44" cy="73.70" r="1.25" fill="#2f7fc1"/>
<circle cx="592.67" cy="79.90" r="1.25" fill="#2f7fc1"/>
<circle cx="583.24" cy="82.63" r="1.25" fill="#2f7fc1"/>
<circle cx="579.02" cy="86.85" r="1.25" fill="#2f7fc1"/>
<circle cx="591.92" cy="88.59" r="1.25" fill="#2f7fc1"/>
<circle cx="574.55" cy="92.56" r="1.25" fill="#2f7fc1"/>
<circle cx="586.96" cy="91.81" r="1.25" fill="#2f7fc1"/>
<circle cx="590.19" cy="93.05" r="1.25" fill="#2f7fc1"/>
<circle cx="584.48" cy="104.22" r="1.25" fill="#2f7fc1"/>
<circle cx="575.79" cy="109.18" r="1.25" fill="#2f7fc1"/>
<circle cx="602.59" cy="122.08" r="1.25" fill="#2f7fc1"/>
<circle cx="629.14" cy="35.24" r="1.25" fill="#e6ad3a"/>
<circle cx="626.91" cy="45.16" r="1.25" fill="#e6ad3a"/>
<circle cx="635.10" cy="63.52" r="1.25" fill="#e6ad3a"/>
<circle cx="631.87" cy="68.98" r="1.25" fill="#e6ad3a"/>
<circle cx="632.62" cy="82.63" r="1.25" fill="#e6ad3a"/>
<circle cx="627.90" cy="88.59" r="1.25" fill="#e6ad3a"/>
<circle cx="631.63" cy="94.29" r="1.25" fill="#e6ad3a"/>
<circle cx="622.20" cy="96.28" r="1.25" fill="#e6ad3a"/>
<circle cx="629.14" cy="100.50" r="1.25" fill="#e6ad3a"/>
<line x1="584.50" y1="127.00" x2="584.50" y2="129.50" stroke="#1a1a1a" stroke-width="0.9"/>
<line x1="629.10" y1="127.00" x2="629.10" y2="129.50" stroke="#1a1a1a" stroke-width="0.9"/>
<text x="604.80" y="39.20" font-size="12.5" text-anchor="middle" fill="#1a1a1a">*</text>
<text transform="translate(591.70,135.60) rotate(-45)" font-size="9.6" text-anchor="end" fill="#1a1a1a">EGFR_MT</text>
<text transform="translate(636.30,135.60) rotate(-45)" font-size="9.6" text-anchor="end" fill="#1a1a1a">KRAS_MT</text>
<text x="8.80" y="211.90" font-size="17.5" text-anchor="start" fill="#231f20">c</text>
<line x1="26.40" y1="572.20" x2="201.20" y2="572.20" stroke="#e6e6e6" stroke-width="0.9"/>
<line x1="26.40" y1="494.60" x2="201.20" y2="494.60" stroke="#e6e6e6" stroke-width="0.9"/>
<line x1="26.40" y1="455.80" x2="201.20" y2="455.80" stroke="#e6e6e6" stroke-width="0.9"/>
<line x1="26.40" y1="417.00" x2="201.20" y2="417.00" stroke="#e6e6e6" stroke-width="0.9"/>
<line x1="26.40" y1="378.20" x2="201.20" y2="378.20" stroke="#e6e6e6" stroke-width="0.9"/>
<line x1="40.90" y1="368.50" x2="40.90" y2="585.60" stroke="#e6e6e6" stroke-width="0.9"/>
<line x1="65.18" y1="368.50" x2="65.18" y2="585.60" stroke="#e6e6e6" stroke-width="0.9"/>
<line x1="89.46" y1="368.50" x2="89.46" y2="585.60" stroke="#e6e6e6" stroke-width="0.9"/>
<line x1="113.74" y1="368.50" x2="113.74" y2="585.60" stroke="#e6e6e6" stroke-width="0.9"/>
<line x1="138.02" y1="368.50" x2="138.02" y2="585.60" stroke="#e6e6e6" stroke-width="0.9"/>
<line x1="162.30" y1="368.50" x2="162.30" y2="585.60" stroke="#e6e6e6" stroke-width="0.9"/>
<line x1="186.58" y1="368.50" x2="186.58" y2="585.60" stroke="#e6e6e6" stroke-width="0.9"/>
<rect x="30.00" y="490.33" width="21.80" height="43.07" fill="#e2b03a"/>
<rect x="54.28" y="477.53" width="21.80" height="55.87" fill="#e2b03a"/>
<rect x="78.56" y="432.91" width="21.80" height="100.49" fill="#e2b03a"/>
<rect x="102.84" y="378.20" width="21.80" height="155.20" fill="#e2b03a"/>
<rect x="127.12" y="533.40" width="21.80" height="8.54" fill="#2a76bf"/>
<rect x="151.40" y="533.40" width="21.80" height="15.13" fill="#2a76bf"/>
<rect x="175.68" y="533.40" width="21.80" height="42.68" fill="#2a76bf"/>
<rect x="26.40" y="368.50" width="174.80" height="217.10" fill="none" stroke="#333" stroke-width="1.1"/>
<line x1="24.00" y1="533.40" x2="26.40" y2="533.40" stroke="#333" stroke-width="0.9"/>
<text transform="translate(23.1,534.00) rotate(-90)" font-size="10" text-anchor="middle" fill="#222">0</text>
<line x1="24.00" y1="455.80" x2="26.40" y2="455.80" stroke="#333" stroke-width="0.9"/>
<text transform="translate(23.1,456.40) rotate(-90)" font-size="10" text-anchor="middle" fill="#222">10</text>
<line x1="24.00" y1="378.20" x2="26.40" y2="378.20" stroke="#333" stroke-width="0.9"/>
<text transform="translate(23.1,378.80) rotate(-90)" font-size="10" text-anchor="middle" fill="#222">20</text>
<line x1="40.90" y1="366.30" x2="40.90" y2="368.50" stroke="#333" stroke-width="0.8"/>
<line x1="65.18" y1="366.30" x2="65.18" y2="368.50" stroke="#333" stroke-width="0.8"/>
<line x1="89.46" y1="366.30" x2="89.46" y2="368.50" stroke="#333" stroke-width="0.8"/>
<line x1="113.74" y1="366.30" x2="113.74" y2="368.50" stroke="#333" stroke-width="0.8"/>
<line x1="138.02" y1="366.30" x2="138.02" y2="368.50" stroke="#333" stroke-width="0.8"/>
<line x1="162.30" y1="366.30" x2="162.30" y2="368.50" stroke="#333" stroke-width="0.8"/>
<line x1="186.58" y1="366.30" x2="186.58" y2="368.50" stroke="#333" stroke-width="0.8"/>
<text transform="translate(10.8,482.8) rotate(-90)" font-size="10" text-anchor="middle" fill="#1a1a1a">-log10 (<tspan font-style="italic">p</tspan> value)</text>
<text transform="translate(43.10,363.60) rotate(-70)" font-size="9.4" fill="#1a1a1a">Interferon−gamma production</text>
<text transform="translate(68.50,362.90) rotate(-70)" font-size="9.4" fill="#1a1a1a">Leukocyte migration</text>
<text transform="translate(87.60,361.20) rotate(-70)" font-size="9.4" fill="#1a1a1a">Positive regulation of</text>
<text transform="translate(97.80,366.00) rotate(-70)" font-size="9.4" fill="#1a1a1a">interleukin−6 production</text>
<text transform="translate(113.80,361.60) rotate(-70)" font-size="9.4" fill="#1a1a1a">Innate immune response</text>
<text transform="translate(131.80,361.00) rotate(-70)" font-size="9.4" fill="#1a1a1a">Negative regulation of</text>
<text transform="translate(141.90,365.20) rotate(-70)" font-size="9.4" fill="#1a1a1a">canonical Wnt signaling pathway</text>
<text transform="translate(157.20,360.70) rotate(-70)" font-size="9.4" fill="#1a1a1a">Ppositive regulation of</text>
<text transform="translate(167.90,364.40) rotate(-70)" font-size="9.4" fill="#1a1a1a">mitotic cell cycle</text>
<text transform="translate(182.60,360.30) rotate(-70)" font-size="9.4" fill="#1a1a1a">Positive regulation of endothelial</text>
<text transform="translate(193.40,364.00) rotate(-70)" font-size="9.4" fill="#1a1a1a">cell proliferation</text>
<path d="M208.2,516.7 L208.2,450" stroke="#1a1a1a" stroke-width="1.2"/>
<path d="M208.2,442.6 L203.2,452.3 L208.2,450 L213.2,452.3 Z" fill="#1a1a1a"/>
<path d="M208.2,535.4 L208.2,566" stroke="#1a1a1a" stroke-width="1.2"/>
<path d="M208.2,573.8 L203.2,564.1 L208.2,566.4 L213.2,564.1 Z" fill="#1a1a1a"/>
<text transform="translate(220.6,493.8) rotate(-90)" font-size="9.6" text-anchor="middle" fill="#1a1a1a">KRAS_MT</text>
<text transform="translate(220.6,561.3) rotate(-90)" font-size="9.6" text-anchor="middle" fill="#1a1a1a">EGFR_MT</text>
<text x="244.00" y="214.80" font-size="17.5" text-anchor="start" fill="#231f20">d</text>
<text x="355.40" y="223.70" font-size="10.2" text-anchor="middle" fill="#1a1a1a">EGFR_MT</text>
<text x="506.80" y="223.70" font-size="10.2" text-anchor="middle" fill="#1a1a1a">KRAS_MT</text>
<defs><filter id="rough" x="-10%" y="-10%" width="120%" height="120%"><feTurbulence type="fractalNoise" baseFrequency="0.9" numOctaves="1" seed="5" result="n"/><feDisplacementMap in="SourceGraphic" in2="n" scale="2.6" xChannelSelector="R" yChannelSelector="G"/></filter></defs>
<g filter="url(#rough)">
<path d="M297.5,326.0 L300.0,322.5 L312.0,322.0 L312.5,330.0 L311.0,337.5 L305.0,336.0 L300.0,331.0 Z" fill="#e6dcee" stroke="#e6dcee" stroke-width="0.8" stroke-linejoin="round"/>
<path d="M364.2,271.0 L367.4,275.4 L370.7,284.1 L375.1,290.7 L380.6,295.1 L382.8,301.6 L379.5,310.4 L382.8,314.8 L381.7,321.3 L372.9,324.6 L366.3,330.1 L363.1,325.7 L364.2,317.0 L357.6,314.8 L352.1,312.6 L352.1,299.4 L348.8,290.7 L353.2,281.9 L357.6,275.4 L360.9,272.1 Z" fill="#95a03a" stroke="#95a03a" stroke-width="0.8" stroke-linejoin="round"/>
<path d="M318.6,340.0 L326.0,339.7 L325.0,347.0 L320.5,345.0 Z" fill="#95a03a" stroke="#95a03a" stroke-width="0.8" stroke-linejoin="round"/>
<path d="M327.5,349.0 L331.0,343.0 L336.0,333.0 L339.2,318.0 L340.4,318.5 L337.6,334.0 L332.2,345.0 L329.0,350.5 Z" fill="#95a03a" stroke="#95a03a" stroke-width="0.8" stroke-linejoin="round"/>
<path d="M332.2,296 a3.3,1.6 0 1,0 6.6,0 a3.3,1.6 0 1,0 -6.6,0 Z" fill="#95a03a" stroke="#95a03a" stroke-width="0.8" stroke-linejoin="round"/>
<path d="M283.5,333.0 L286.0,326.0 L291.0,322.0 L293.5,316.5 L296.0,318.0 L297.5,326.0 L300.0,331.0 L305.0,336.0 L311.0,337.5 L312.5,330.0 L312.0,322.0 L313.5,320.5 L317.0,321.5 L318.5,331.0 L318.0,340.0 L323.5,345.5 L327.0,354.0 L326.0,363.0 L318.5,368.5 L309.5,367.5 L300.5,361.0 L292.0,352.0 L285.5,345.5 Z" fill="#a77bbf" stroke="#a77bbf" stroke-width="0.8" stroke-linejoin="round"/>
<path d="M296.5,323.5 L303.0,319.3 L311.0,318.8 L313.5,321.0 L311.0,322.3 L304.0,321.6 L299.0,325.0 Z" fill="#a77bbf" stroke="#a77bbf" stroke-width="0.8" stroke-linejoin="round"/>
<path d="M291.5,278.0 L294.5,276.5 L296.5,280.0 L295.5,286.0 L294.0,290.5 L292.5,287.0 L291.0,282.0 Z" fill="#a77bbf" stroke="#a77bbf" stroke-width="0.8" stroke-linejoin="round"/>
<path d="M279.0,300.0 L284.0,297.5 L290.0,298.0 L292.5,302.0 L291.5,308.0 L290.0,315.0 L288.6,322.5 L287.0,320.0 L284.0,314.0 L280.0,309.0 Z" fill="#20aee0" stroke="#20aee0" stroke-width="0.8" stroke-linejoin="round"/>
<path d="M335.2,327.5 L339.5,328.5 L343.3,336.2 L346.0,344.8 L348.0,353.5 L345.0,357.0 L341.0,351.0 L337.0,342.0 L334.8,334.5 Z" fill="#ee7070" stroke="#ee7070" stroke-width="0.8" stroke-linejoin="round"/>
<path d="M331,320 a4.5,4 0 1,0 9,0 a4.5,4 0 1,0 -9,0 Z" fill="#8a80c8" stroke="#8a80c8" stroke-width="0.8" stroke-linejoin="round"/>
<path d="M340.0,352.0 L348.0,350.0 L352.0,355.0 L349.0,362.0 L343.0,364.0 L340.0,358.0 Z" fill="#8a80c8" stroke="#8a80c8" stroke-width="0.8" stroke-linejoin="round"/>
<path d="M406.9,334.5 L411.2,335.6 L414.5,338.9 L413.4,347.6 L410.1,354.2 L405.8,360.8 L403.1,361.9 L405.3,356.4 L407.9,347.6 L407.5,338.9 Z" fill="#c0962e" stroke="#c0962e" stroke-width="0.8" stroke-linejoin="round"/>
<path d="M392.6,321.3 L395.9,324.6 L397.0,330.1 L394.8,338.9 L392.6,344.3 L388.2,344.3 L392.6,337.8 L393.7,330.1 L392.2,324.6 Z" fill="#5aaa48" stroke="#5aaa48" stroke-width="0.8" stroke-linejoin="round"/>
<path d="M362.0,387.0 L366.3,385.9 L368.5,390.3 L372.5,392.5 L368.5,395.8 L364.2,398.0 L360.9,394.7 L361.5,390.3 Z" fill="#30b090" stroke="#30b090" stroke-width="0.8" stroke-linejoin="round"/>
<path d="M364.2,360.5 a4.3,2.7 0 1,0 8.6,0 a4.3,2.7 0 1,0 -8.6,0 Z" fill="#3890d8" stroke="#3890d8" stroke-width="0.8" stroke-linejoin="round"/>
<path d="M325.8,238.1 L333.5,234.9 L341.2,237.0 L344.4,240.3 L341.2,244.7 L335.7,250.2 L330.2,249.1 L326.9,244.7 Z" fill="#3db35a" stroke="#3db35a" stroke-width="0.8" stroke-linejoin="round"/>
<path d="M313.8,245.8 L319.3,241.4 L325.8,240.3 L326.9,246.9 L323.6,251.3 L322.6,257.8 L319.3,263.3 L314.9,265.5 L314.9,257.8 L316.0,251.3 Z" fill="#e08030" stroke="#e08030" stroke-width="0.8" stroke-linejoin="round"/>
<path d="M323.0,250.0 L331.0,248.0 L332.0,254.0 L328.0,259.0 L323.0,260.0 L321.0,255.0 Z" fill="#20b8c0" stroke="#20b8c0" stroke-width="0.8" stroke-linejoin="round"/>
<path d="M316.0,280.8 L322.6,279.7 L331.3,281.5 L326.9,285.2 L321.5,287.4 L317.1,285.2 Z" fill="#20b8c0" stroke="#20b8c0" stroke-width="0.8" stroke-linejoin="round"/>
</g>
<g filter="url(#rough)"><g transform="translate(152,0)">
<path d="M297.5,326.0 L300.0,322.5 L312.0,322.0 L312.5,330.0 L311.0,337.5 L305.0,336.0 L300.0,331.0 Z" fill="#e6dcee" stroke="#e6dcee" stroke-width="0.8" stroke-linejoin="round"/>
<path d="M364.2,271.0 L367.4,275.4 L370.7,284.1 L375.1,290.7 L380.6,295.1 L382.8,301.6 L379.5,310.4 L382.8,314.8 L381.7,321.3 L372.9,324.6 L366.3,330.1 L363.1,325.7 L364.2,317.0 L357.6,314.8 L352.1,312.6 L352.1,299.4 L348.8,290.7 L353.2,281.9 L357.6,275.4 L360.9,272.1 Z" fill="#95a03a" stroke="#95a03a" stroke-width="0.8" stroke-linejoin="round"/>
<path d="M318.6,340.0 L326.0,339.7 L325.0,347.0 L320.5,345.0 Z" fill="#95a03a" stroke="#95a03a" stroke-width="0.8" stroke-linejoin="round"/>
<path d="M327.5,349.0 L331.0,343.0 L336.0,333.0 L339.2,318.0 L340.4,318.5 L337.6,334.0 L332.2,345.0 L329.0,350.5 Z" fill="#95a03a" stroke="#95a03a" stroke-width="0.8" stroke-linejoin="round"/>
<path d="M332.2,296 a3.3,1.6 0 1,0 6.6,0 a3.3,1.6 0 1,0 -6.6,0 Z" fill="#95a03a" stroke="#95a03a" stroke-width="0.8" stroke-linejoin="round"/>
<path d="M319.5,338.0 L327.0,336.5 L329.0,344.0 L324.0,349.0 L320.0,346.0 Z" fill="#95a03a" stroke="#95a03a" stroke-width="0.8" stroke-linejoin="round"/>
<path d="M283.5,333.0 L286.0,326.0 L291.0,322.0 L293.5,316.5 L296.0,318.0 L297.5,326.0 L300.0,331.0 L305.0,336.0 L311.0,337.5 L312.5,330.0 L312.0,322.0 L313.5,320.5 L317.0,321.5 L318.5,331.0 L318.0,340.0 L323.5,345.5 L327.0,354.0 L326.0,363.0 L318.5,368.5 L309.5,367.5 L300.5,361.0 L292.0,352.0 L285.5,345.5 Z" fill="#a77bbf" stroke="#a77bbf" stroke-width="0.8" stroke-linejoin="round"/>
<path d="M296.5,323.5 L303.0,319.3 L311.0,318.8 L313.5,321.0 L311.0,322.3 L304.0,321.6 L299.0,325.0 Z" fill="#a77bbf" stroke="#a77bbf" stroke-width="0.8" stroke-linejoin="round"/>
<path d="M291.5,278.0 L294.5,276.5 L296.5,280.0 L295.5,286.0 L294.0,290.5 L292.5,287.0 L291.0,282.0 Z" fill="#a77bbf" stroke="#a77bbf" stroke-width="0.8" stroke-linejoin="round"/>
<path d="M279.0,300.0 L284.0,297.5 L290.0,298.0 L292.5,302.0 L291.5,308.0 L290.0,315.0 L288.6,322.5 L287.0,320.0 L284.0,314.0 L280.0,309.0 Z" fill="#20aee0" stroke="#20aee0" stroke-width="0.8" stroke-linejoin="round"/>
<path d="M335.2,327.5 L339.5,328.5 L343.3,336.2 L346.0,344.8 L348.0,353.5 L345.0,357.0 L341.0,351.0 L337.0,342.0 L334.8,334.5 Z" fill="#ee7070" stroke="#ee7070" stroke-width="0.8" stroke-linejoin="round"/>
<path d="M331,320 a4.5,4 0 1,0 9,0 a4.5,4 0 1,0 -9,0 Z" fill="#8a80c8" stroke="#8a80c8" stroke-width="0.8" stroke-linejoin="round"/>
<path d="M340.0,352.0 L348.0,350.0 L352.0,355.0 L349.0,362.0 L343.0,364.0 L340.0,358.0 Z" fill="#8a80c8" stroke="#8a80c8" stroke-width="0.8" stroke-linejoin="round"/>
<path d="M406.9,334.5 L411.2,335.6 L414.5,338.9 L413.4,347.6 L410.1,354.2 L405.8,360.8 L403.1,361.9 L405.3,356.4 L407.9,347.6 L407.5,338.9 Z" fill="#c0962e" stroke="#c0962e" stroke-width="0.8" stroke-linejoin="round"/>
<path d="M392.6,321.3 L395.9,324.6 L397.0,330.1 L394.8,338.9 L392.6,344.3 L388.2,344.3 L392.6,337.8 L393.7,330.1 L392.2,324.6 Z" fill="#5aaa48" stroke="#5aaa48" stroke-width="0.8" stroke-linejoin="round"/>
<path d="M362.0,387.0 L366.3,385.9 L368.5,390.3 L372.5,392.5 L368.5,395.8 L364.2,398.0 L360.9,394.7 L361.5,390.3 Z" fill="#30b090" stroke="#30b090" stroke-width="0.8" stroke-linejoin="round"/>
<path d="M364.2,360.5 a4.3,2.7 0 1,0 8.6,0 a4.3,2.7 0 1,0 -8.6,0 Z" fill="#3890d8" stroke="#3890d8" stroke-width="0.8" stroke-linejoin="round"/>
<path d="M363.0,360.0 a6,5.2 0 1,0 12,0 a6,5.2 0 1,0 -12,0 Z" fill="#3890d8" stroke="#3890d8" stroke-width="0.8" stroke-linejoin="round"/>
<path d="M325.8,238.1 L333.5,234.9 L341.2,237.0 L344.4,240.3 L341.2,244.7 L335.7,250.2 L330.2,249.1 L326.9,244.7 Z" fill="#3db35a" stroke="#3db35a" stroke-width="0.8" stroke-linejoin="round"/>
<path d="M307.8,244.7 a3.2,2.6 0 1,0 6.4,0 a3.2,2.6 0 1,0 -6.4,0 Z" fill="#3db35a" stroke="#3db35a" stroke-width="0.8" stroke-linejoin="round"/>
<path d="M327.0,241.0 a7.8,9.0 0 1,0 15.6,0 a7.8,9.0 0 1,0 -15.6,0 Z" fill="#3db35a" stroke="#3db35a" stroke-width="0.8" stroke-linejoin="round"/>
<path d="M313.8,245.8 L319.3,241.4 L325.8,240.3 L326.9,246.9 L323.6,251.3 L322.6,257.8 L319.3,263.3 L314.9,265.5 L314.9,257.8 L316.0,251.3 Z" fill="#e08030" stroke="#e08030" stroke-width="0.8" stroke-linejoin="round"/>
<path d="M323.0,250.0 L331.0,248.0 L332.0,254.0 L328.0,259.0 L323.0,260.0 L321.0,255.0 Z" fill="#20b8c0" stroke="#20b8c0" stroke-width="0.8" stroke-linejoin="round"/>
<path d="M316.0,280.8 L322.6,279.7 L331.3,281.5 L326.9,285.2 L321.5,287.4 L317.1,285.2 Z" fill="#20b8c0" stroke="#20b8c0" stroke-width="0.8" stroke-linejoin="round"/>
</g></g>
<line x1="272.80" y1="224.00" x2="272.80" y2="406.40" stroke="#111" stroke-width="1.3"/>
<line x1="272.30" y1="405.90" x2="420.50" y2="405.90" stroke="#111" stroke-width="1.3"/>
<line x1="423.70" y1="405.90" x2="572.50" y2="405.90" stroke="#111" stroke-width="1.3"/>
<line x1="270.30" y1="227.50" x2="272.80" y2="227.50" stroke="#1a1a1a" stroke-width="0.9"/>
<text x="269.80" y="231.00" font-size="10.0" text-anchor="end" fill="#1a1a1a">15</text>
<line x1="270.30" y1="257.40" x2="272.80" y2="257.40" stroke="#1a1a1a" stroke-width="0.9"/>
<text x="269.80" y="260.90" font-size="10.0" text-anchor="end" fill="#1a1a1a">10</text>
<line x1="270.30" y1="287.30" x2="272.80" y2="287.30" stroke="#1a1a1a" stroke-width="0.9"/>
<text x="269.80" y="290.80" font-size="10.0" text-anchor="end" fill="#1a1a1a">5</text>
<line x1="270.30" y1="317.20" x2="272.80" y2="317.20" stroke="#1a1a1a" stroke-width="0.9"/>
<text x="269.80" y="320.70" font-size="10.0" text-anchor="end" fill="#1a1a1a">0</text>
<line x1="270.30" y1="347.10" x2="272.80" y2="347.10" stroke="#1a1a1a" stroke-width="0.9"/>
<text x="269.80" y="350.60" font-size="10.0" text-anchor="end" fill="#1a1a1a">−5</text>
<line x1="270.30" y1="377.00" x2="272.80" y2="377.00" stroke="#1a1a1a" stroke-width="0.9"/>
<text x="269.80" y="380.50" font-size="10.0" text-anchor="end" fill="#1a1a1a">−10</text>
<text transform="translate(258.0,312.8) rotate(-90)" font-size="9.6" text-anchor="middle" fill="#1a1a1a">umap_2</text>
<line x1="289.90" y1="405.90" x2="289.90" y2="408.40" stroke="#1a1a1a" stroke-width="0.9"/>
<text x="289.90" y="416.50" font-size="10.0" text-anchor="middle" fill="#1a1a1a">−10</text>
<line x1="338.60" y1="405.90" x2="338.60" y2="408.40" stroke="#1a1a1a" stroke-width="0.9"/>
<text x="338.60" y="416.50" font-size="10.0" text-anchor="middle" fill="#1a1a1a">0</text>
<line x1="386.60" y1="405.90" x2="386.60" y2="408.40" stroke="#1a1a1a" stroke-width="0.9"/>
<text x="386.60" y="416.50" font-size="10.0" text-anchor="middle" fill="#1a1a1a">10</text>
<line x1="441.90" y1="405.90" x2="441.90" y2="408.40" stroke="#1a1a1a" stroke-width="0.9"/>
<text x="441.90" y="416.50" font-size="10.0" text-anchor="middle" fill="#1a1a1a">−10</text>
<line x1="490.60" y1="405.90" x2="490.60" y2="408.40" stroke="#1a1a1a" stroke-width="0.9"/>
<text x="490.60" y="416.50" font-size="10.0" text-anchor="middle" fill="#1a1a1a">0</text>
<line x1="538.60" y1="405.90" x2="538.60" y2="408.40" stroke="#1a1a1a" stroke-width="0.9"/>
<text x="538.60" y="416.50" font-size="10.0" text-anchor="middle" fill="#1a1a1a">10</text>
<text x="418.50" y="422.80" font-size="9.8" text-anchor="middle" fill="#1a1a1a">umap_1</text>
<circle cx="592.3" cy="256.10" r="2.8" fill="#ee7070"/>
<text x="602.20" y="259.30" font-size="9.0" text-anchor="start" fill="#1a1a1a">B</text>
<circle cx="592.3" cy="267.18" r="2.8" fill="#e08030"/>
<text x="602.20" y="270.38" font-size="9.0" text-anchor="start" fill="#1a1a1a">DC</text>
<circle cx="592.3" cy="278.26" r="2.8" fill="#c0962e"/>
<text x="602.20" y="281.46" font-size="9.0" text-anchor="start" fill="#1a1a1a">Endothelial</text>
<circle cx="592.3" cy="289.34" r="2.8" fill="#95a03a"/>
<text x="602.20" y="292.54" font-size="9.0" text-anchor="start" fill="#1a1a1a">Epithelial</text>
<circle cx="592.3" cy="300.42" r="2.8" fill="#5aaa48"/>
<text x="602.20" y="303.62" font-size="9.0" text-anchor="start" fill="#1a1a1a">Fibroblast</text>
<circle cx="592.3" cy="311.50" r="2.8" fill="#3db35a"/>
<text x="602.20" y="314.70" font-size="9.0" text-anchor="start" fill="#1a1a1a">Marcophage</text>
<circle cx="592.3" cy="322.58" r="2.8" fill="#30b090"/>
<text x="602.20" y="325.78" font-size="9.0" text-anchor="start" fill="#1a1a1a">Mast</text>
<circle cx="592.3" cy="333.66" r="2.8" fill="#20b8c0"/>
<text x="602.20" y="336.86" font-size="9.0" text-anchor="start" fill="#1a1a1a">Monocyte</text>
<circle cx="592.3" cy="344.74" r="2.8" fill="#20aee0"/>
<text x="602.20" y="347.94" font-size="9.0" text-anchor="start" fill="#1a1a1a">NK</text>
<circle cx="592.3" cy="355.82" r="2.8" fill="#3890d8"/>
<text x="602.20" y="359.02" font-size="9.0" text-anchor="start" fill="#1a1a1a">others</text>
<circle cx="592.3" cy="366.90" r="2.8" fill="#8a80c8"/>
<text x="602.20" y="370.10" font-size="9.0" text-anchor="start" fill="#1a1a1a">Plasma</text>
<circle cx="592.3" cy="377.98" r="2.8" fill="#a77bbf"/>
<text x="602.20" y="381.18" font-size="9.0" text-anchor="start" fill="#1a1a1a">T</text>
<text x="239.80" y="437.70" font-size="17.5" text-anchor="start" fill="#231f20">e</text>
<text x="259.70" y="449.80" font-size="8.6" text-anchor="start" font-weight="bold" font-style="italic" fill="#111">TOX</text>
<text x="347.80" y="456.20" font-size="9.6" text-anchor="middle" fill="#1a1a1a">EGFR_MT</text>
<text x="499.50" y="454.60" font-size="9.6" text-anchor="middle" fill="#1a1a1a">KRAS_MT</text>
<g filter="url(#rough)"><g transform="matrix(0.9155 0 0 0.6095 24.32 323.76)">
<path d="M364.2,271.0 L367.4,275.4 L370.7,284.1 L375.1,290.7 L380.6,295.1 L382.8,301.6 L379.5,310.4 L382.8,314.8 L381.7,321.3 L372.9,324.6 L366.3,330.1 L363.1,325.7 L364.2,317.0 L357.6,314.8 L352.1,312.6 L352.1,299.4 L348.8,290.7 L353.2,281.9 L357.6,275.4 L360.9,272.1 Z" fill="#c9c9c9" stroke="#c9c9c9" stroke-width="2.8" stroke-linejoin="round" vector-effect="non-scaling-stroke"/>
<path d="M318.6,340.0 L326.0,339.7 L325.0,347.0 L320.5,345.0 Z" fill="#c9c9c9" stroke="#c9c9c9" stroke-width="2.8" stroke-linejoin="round" vector-effect="non-scaling-stroke"/>
<path d="M327.5,349.0 L331.0,343.0 L336.0,333.0 L339.2,318.0 L340.4,318.5 L337.6,334.0 L332.2,345.0 L329.0,350.5 Z" fill="#c9c9c9" stroke="#c9c9c9" stroke-width="2.8" stroke-linejoin="round" vector-effect="non-scaling-stroke"/>
<path d="M332.2,296 a3.3,1.6 0 1,0 6.6,0 a3.3,1.6 0 1,0 -6.6,0 Z" fill="#c9c9c9" stroke="#c9c9c9" stroke-width="2.8" stroke-linejoin="round" vector-effect="non-scaling-stroke"/>
<path d="M283.5,333.0 L286.0,326.0 L291.0,322.0 L293.5,316.5 L296.0,318.0 L297.5,326.0 L300.0,331.0 L305.0,336.0 L311.0,337.5 L312.5,330.0 L312.0,322.0 L313.5,320.5 L317.0,321.5 L318.5,331.0 L318.0,340.0 L323.5,345.5 L327.0,354.0 L326.0,363.0 L318.5,368.5 L309.5,367.5 L300.5,361.0 L292.0,352.0 L285.5,345.5 Z" fill="#c9c9c9" stroke="#c9c9c9" stroke-width="2.8" stroke-linejoin="round" vector-effect="non-scaling-stroke"/>
<path d="M296.5,323.5 L303.0,319.3 L311.0,318.8 L313.5,321.0 L311.0,322.3 L304.0,321.6 L299.0,325.0 Z" fill="#c9c9c9" stroke="#c9c9c9" stroke-width="2.8" stroke-linejoin="round" vector-effect="non-scaling-stroke"/>
<path d="M291.5,278.0 L294.5,276.5 L296.5,280.0 L295.5,286.0 L294.0,290.5 L292.5,287.0 L291.0,282.0 Z" fill="#c9c9c9" stroke="#c9c9c9" stroke-width="2.8" stroke-linejoin="round" vector-effect="non-scaling-stroke"/>
<path d="M279.0,300.0 L284.0,297.5 L290.0,298.0 L292.5,302.0 L291.5,308.0 L290.0,315.0 L288.6,322.5 L287.0,320.0 L284.0,314.0 L280.0,309.0 Z" fill="#c9c9c9" stroke="#c9c9c9" stroke-width="2.8" stroke-linejoin="round" vector-effect="non-scaling-stroke"/>
<path d="M335.2,327.5 L339.5,328.5 L343.3,336.2 L346.0,344.8 L348.0,353.5 L345.0,357.0 L341.0,351.0 L337.0,342.0 L334.8,334.5 Z" fill="#c9c9c9" stroke="#c9c9c9" stroke-width="2.8" stroke-linejoin="round" vector-effect="non-scaling-stroke"/>
<path d="M331,320 a4.5,4 0 1,0 9,0 a4.5,4 0 1,0 -9,0 Z" fill="#c9c9c9" stroke="#c9c9c9" stroke-width="2.8" stroke-linejoin="round" vector-effect="non-scaling-stroke"/>
<path d="M340.0,352.0 L348.0,350.0 L352.0,355.0 L349.0,362.0 L343.0,364.0 L340.0,358.0 Z" fill="#c9c9c9" stroke="#c9c9c9" stroke-width="2.8" stroke-linejoin="round" vector-effect="non-scaling-stroke"/>
<path d="M406.9,334.5 L411.2,335.6 L414.5,338.9 L413.4,347.6 L410.1,354.2 L405.8,360.8 L403.1,361.9 L405.3,356.4 L407.9,347.6 L407.5,338.9 Z" fill="#c9c9c9" stroke="#c9c9c9" stroke-width="2.8" stroke-linejoin="round" vector-effect="non-scaling-stroke"/>
<path d="M392.6,321.3 L395.9,324.6 L397.0,330.1 L394.8,338.9 L392.6,344.3 L388.2,344.3 L392.6,337.8 L393.7,330.1 L392.2,324.6 Z" fill="#c9c9c9" stroke="#c9c9c9" stroke-width="2.8" stroke-linejoin="round" vector-effect="non-scaling-stroke"/>
<path d="M362.0,387.0 L366.3,385.9 L368.5,390.3 L372.5,392.5 L368.5,395.8 L364.2,398.0 L360.9,394.7 L361.5,390.3 Z" fill="#c9c9c9" stroke="#c9c9c9" stroke-width="2.8" stroke-linejoin="round" vector-effect="non-scaling-stroke"/>
<path d="M364.2,360.5 a4.3,2.7 0 1,0 8.6,0 a4.3,2.7 0 1,0 -8.6,0 Z" fill="#c9c9c9" stroke="#c9c9c9" stroke-width="2.8" stroke-linejoin="round" vector-effect="non-scaling-stroke"/>
<path d="M325.8,238.1 L333.5,234.9 L341.2,237.0 L344.4,240.3 L341.2,244.7 L335.7,250.2 L330.2,249.1 L326.9,244.7 Z" fill="#c9c9c9" stroke="#c9c9c9" stroke-width="2.8" stroke-linejoin="round" vector-effect="non-scaling-stroke"/>
<path d="M313.8,245.8 L319.3,241.4 L325.8,240.3 L326.9,246.9 L323.6,251.3 L322.6,257.8 L319.3,263.3 L314.9,265.5 L314.9,257.8 L316.0,251.3 Z" fill="#c9c9c9" stroke="#c9c9c9" stroke-width="2.8" stroke-linejoin="round" vector-effect="non-scaling-stroke"/>
<path d="M323.0,250.0 L331.0,248.0 L332.0,254.0 L328.0,259.0 L323.0,260.0 L321.0,255.0 Z" fill="#c9c9c9" stroke="#c9c9c9" stroke-width="2.8" stroke-linejoin="round" vector-effect="non-scaling-stroke"/>
<path d="M316.0,280.8 L322.6,279.7 L331.3,281.5 L326.9,285.2 L321.5,287.4 L317.1,285.2 Z" fill="#c9c9c9" stroke="#c9c9c9" stroke-width="2.8" stroke-linejoin="round" vector-effect="non-scaling-stroke"/>
<path d="M297.5,326.0 L300.0,322.5 L312.0,322.0 L312.5,330.0 L311.0,337.5 L305.0,336.0 L300.0,331.0 Z" fill="#f4f4f4" transform="translate(305,330) scale(0.8) translate(-305,-330)"/>
</g></g>
<circle cx="282.48" cy="507.23" r="1.2" fill="#7066cc"/>
<circle cx="285.23" cy="510.27" r="1.2" fill="#7066cc"/>
<circle cx="289.81" cy="513.32" r="1.2" fill="#7066cc"/>
<circle cx="287.98" cy="520.03" r="1.2" fill="#7066cc"/>
<circle cx="295.30" cy="524.90" r="1.2" fill="#7066cc"/>
<circle cx="298.96" cy="520.03" r="1.2" fill="#7066cc"/>
<circle cx="303.54" cy="526.73" r="1.2" fill="#7066cc"/>
<circle cx="309.95" cy="522.46" r="1.2" fill="#7066cc"/>
<circle cx="305.37" cy="531.00" r="1.2" fill="#7066cc"/>
<circle cx="315.44" cy="527.95" r="1.2" fill="#7066cc"/>
<circle cx="300.79" cy="535.87" r="1.2" fill="#7066cc"/>
<circle cx="309.95" cy="538.31" r="1.2" fill="#7066cc"/>
<circle cx="315.44" cy="541.97" r="1.2" fill="#7066cc"/>
<circle cx="295.30" cy="533.44" r="1.2" fill="#7066cc"/>
<circle cx="291.64" cy="529.78" r="1.2" fill="#7066cc"/>
<circle cx="307.20" cy="545.02" r="1.2" fill="#7066cc"/>
<circle cx="318.19" cy="535.26" r="1.2" fill="#7066cc"/>
<circle cx="288.89" cy="524.90" r="1.2" fill="#7066cc"/>
<circle cx="358.47" cy="497.47" r="1.2" fill="#7066cc"/>
<circle cx="364.88" cy="508.44" r="1.2" fill="#7066cc"/>
<circle cx="359.38" cy="563.30" r="1.2" fill="#7066cc"/>
<g filter="url(#rough)"><g transform="matrix(0.9155 0 0 0.6095 170.22 323.76)">
<path d="M364.2,271.0 L367.4,275.4 L370.7,284.1 L375.1,290.7 L380.6,295.1 L382.8,301.6 L379.5,310.4 L382.8,314.8 L381.7,321.3 L372.9,324.6 L366.3,330.1 L363.1,325.7 L364.2,317.0 L357.6,314.8 L352.1,312.6 L352.1,299.4 L348.8,290.7 L353.2,281.9 L357.6,275.4 L360.9,272.1 Z" fill="#c9c9c9" stroke="#c9c9c9" stroke-width="2.8" stroke-linejoin="round" vector-effect="non-scaling-stroke"/>
<path d="M318.6,340.0 L326.0,339.7 L325.0,347.0 L320.5,345.0 Z" fill="#c9c9c9" stroke="#c9c9c9" stroke-width="2.8" stroke-linejoin="round" vector-effect="non-scaling-stroke"/>
<path d="M327.5,349.0 L331.0,343.0 L336.0,333.0 L339.2,318.0 L340.4,318.5 L337.6,334.0 L332.2,345.0 L329.0,350.5 Z" fill="#c9c9c9" stroke="#c9c9c9" stroke-width="2.8" stroke-linejoin="round" vector-effect="non-scaling-stroke"/>
<path d="M332.2,296 a3.3,1.6 0 1,0 6.6,0 a3.3,1.6 0 1,0 -6.6,0 Z" fill="#c9c9c9" stroke="#c9c9c9" stroke-width="2.8" stroke-linejoin="round" vector-effect="non-scaling-stroke"/>
<path d="M319.5,338.0 L327.0,336.5 L329.0,344.0 L324.0,349.0 L320.0,346.0 Z" fill="#c9c9c9" stroke="#c9c9c9" stroke-width="2.8" stroke-linejoin="round" vector-effect="non-scaling-stroke"/>
<path d="M283.5,333.0 L286.0,326.0 L291.0,322.0 L293.5,316.5 L296.0,318.0 L297.5,326.0 L300.0,331.0 L305.0,336.0 L311.0,337.5 L312.5,330.0 L312.0,322.0 L313.5,320.5 L317.0,321.5 L318.5,331.0 L318.0,340.0 L323.5,345.5 L327.0,354.0 L326.0,363.0 L318.5,368.5 L309.5,367.5 L300.5,361.0 L292.0,352.0 L285.5,345.5 Z" fill="#c9c9c9" stroke="#c9c9c9" stroke-width="2.8" stroke-linejoin="round" vector-effect="non-scaling-stroke"/>
<path d="M296.5,323.5 L303.0,319.3 L311.0,318.8 L313.5,321.0 L311.0,322.3 L304.0,321.6 L299.0,325.0 Z" fill="#c9c9c9" stroke="#c9c9c9" stroke-width="2.8" stroke-linejoin="round" vector-effect="non-scaling-stroke"/>
<path d="M291.5,278.0 L294.5,276.5 L296.5,280.0 L295.5,286.0 L294.0,290.5 L292.5,287.0 L291.0,282.0 Z" fill="#c9c9c9" stroke="#c9c9c9" stroke-width="2.8" stroke-linejoin="round" vector-effect="non-scaling-stroke"/>
<path d="M279.0,300.0 L284.0,297.5 L290.0,298.0 L292.5,302.0 L291.5,308.0 L290.0,315.0 L288.6,322.5 L287.0,320.0 L284.0,314.0 L280.0,309.0 Z" fill="#c9c9c9" stroke="#c9c9c9" stroke-width="2.8" stroke-linejoin="round" vector-effect="non-scaling-stroke"/>
<path d="M335.2,327.5 L339.5,328.5 L343.3,336.2 L346.0,344.8 L348.0,353.5 L345.0,357.0 L341.0,351.0 L337.0,342.0 L334.8,334.5 Z" fill="#c9c9c9" stroke="#c9c9c9" stroke-width="2.8" stroke-linejoin="round" vector-effect="non-scaling-stroke"/>
<path d="M331,320 a4.5,4 0 1,0 9,0 a4.5,4 0 1,0 -9,0 Z" fill="#c9c9c9" stroke="#c9c9c9" stroke-width="2.8" stroke-linejoin="round" vector-effect="non-scaling-stroke"/>
<path d="M340.0,352.0 L348.0,350.0 L352.0,355.0 L349.0,362.0 L343.0,364.0 L340.0,358.0 Z" fill="#c9c9c9" stroke="#c9c9c9" stroke-width="2.8" stroke-linejoin="round" vector-effect="non-scaling-stroke"/>
<path d="M406.9,334.5 L411.2,335.6 L414.5,338.9 L413.4,347.6 L410.1,354.2 L405.8,360.8 L403.1,361.9 L405.3,356.4 L407.9,347.6 L407.5,338.9 Z" fill="#c9c9c9" stroke="#c9c9c9" stroke-width="2.8" stroke-linejoin="round" vector-effect="non-scaling-stroke"/>
<path d="M392.6,321.3 L395.9,324.6 L397.0,330.1 L394.8,338.9 L392.6,344.3 L388.2,344.3 L392.6,337.8 L393.7,330.1 L392.2,324.6 Z" fill="#c9c9c9" stroke="#c9c9c9" stroke-width="2.8" stroke-linejoin="round" vector-effect="non-scaling-stroke"/>
<path d="M362.0,387.0 L366.3,385.9 L368.5,390.3 L372.5,392.5 L368.5,395.8 L364.2,398.0 L360.9,394.7 L361.5,390.3 Z" fill="#c9c9c9" stroke="#c9c9c9" stroke-width="2.8" stroke-linejoin="round" vector-effect="non-scaling-stroke"/>
<path d="M364.2,360.5 a4.3,2.7 0 1,0 8.6,0 a4.3,2.7 0 1,0 -8.6,0 Z" fill="#c9c9c9" stroke="#c9c9c9" stroke-width="2.8" stroke-linejoin="round" vector-effect="non-scaling-stroke"/>
<path d="M363.0,360.0 a6,5.2 0 1,0 12,0 a6,5.2 0 1,0 -12,0 Z" fill="#c9c9c9" stroke="#c9c9c9" stroke-width="2.8" stroke-linejoin="round" vector-effect="non-scaling-stroke"/>
<path d="M325.8,238.1 L333.5,234.9 L341.2,237.0 L344.4,240.3 L341.2,244.7 L335.7,250.2 L330.2,249.1 L326.9,244.7 Z" fill="#c9c9c9" stroke="#c9c9c9" stroke-width="2.8" stroke-linejoin="round" vector-effect="non-scaling-stroke"/>
<path d="M307.8,244.7 a3.2,2.6 0 1,0 6.4,0 a3.2,2.6 0 1,0 -6.4,0 Z" fill="#c9c9c9" stroke="#c9c9c9" stroke-width="2.8" stroke-linejoin="round" vector-effect="non-scaling-stroke"/>
<path d="M327.0,241.0 a7.8,9.0 0 1,0 15.6,0 a7.8,9.0 0 1,0 -15.6,0 Z" fill="#c9c9c9" stroke="#c9c9c9" stroke-width="2.8" stroke-linejoin="round" vector-effect="non-scaling-stroke"/>
<path d="M313.8,245.8 L319.3,241.4 L325.8,240.3 L326.9,246.9 L323.6,251.3 L322.6,257.8 L319.3,263.3 L314.9,265.5 L314.9,257.8 L316.0,251.3 Z" fill="#c9c9c9" stroke="#c9c9c9" stroke-width="2.8" stroke-linejoin="round" vector-effect="non-scaling-stroke"/>
<path d="M323.0,250.0 L331.0,248.0 L332.0,254.0 L328.0,259.0 L323.0,260.0 L321.0,255.0 Z" fill="#c9c9c9" stroke="#c9c9c9" stroke-width="2.8" stroke-linejoin="round" vector-effect="non-scaling-stroke"/>
<path d="M316.0,280.8 L322.6,279.7 L331.3,281.5 L326.9,285.2 L321.5,287.4 L317.1,285.2 Z" fill="#c9c9c9" stroke="#c9c9c9" stroke-width="2.8" stroke-linejoin="round" vector-effect="non-scaling-stroke"/>
<path d="M297.5,326.0 L300.0,322.5 L312.0,322.0 L312.5,330.0 L311.0,337.5 L305.0,336.0 L300.0,331.0 Z" fill="#f4f4f4" transform="translate(305,330) scale(0.8) translate(-305,-330)"/>
</g></g>
<circle cx="429.30" cy="506.62" r="1.2" fill="#7066cc"/>
<circle cx="434.79" cy="509.66" r="1.2" fill="#7066cc"/>
<circle cx="432.05" cy="517.59" r="1.2" fill="#7066cc"/>
<circle cx="441.20" cy="526.12" r="1.2" fill="#7066cc"/>
<circle cx="448.52" cy="523.07" r="1.2" fill="#7066cc"/>
<circle cx="454.93" cy="521.24" r="1.2" fill="#7066cc"/>
<circle cx="450.36" cy="532.22" r="1.2" fill="#7066cc"/>
<circle cx="459.51" cy="529.17" r="1.2" fill="#7066cc"/>
<circle cx="444.86" cy="537.09" r="1.2" fill="#7066cc"/>
<circle cx="457.68" cy="540.75" r="1.2" fill="#7066cc"/>
<circle cx="465.00" cy="538.31" r="1.2" fill="#7066cc"/>
<circle cx="438.45" cy="534.04" r="1.2" fill="#7066cc"/>
<circle cx="454.02" cy="544.41" r="1.2" fill="#7066cc"/>
<circle cx="467.75" cy="509.66" r="1.2" fill="#7066cc"/>
<circle cx="481.48" cy="511.49" r="1.2" fill="#7066cc"/>
<circle cx="498.88" cy="495.03" r="1.2" fill="#7066cc"/>
<circle cx="503.45" cy="500.52" r="1.2" fill="#7066cc"/>
<circle cx="508.95" cy="504.18" r="1.2" fill="#7066cc"/>
<circle cx="500.71" cy="509.05" r="1.2" fill="#7066cc"/>
<circle cx="513.52" cy="506.01" r="1.2" fill="#7066cc"/>
<circle cx="507.11" cy="514.54" r="1.2" fill="#7066cc"/>
<circle cx="516.27" cy="517.59" r="1.2" fill="#7066cc"/>
<circle cx="496.13" cy="506.62" r="1.2" fill="#7066cc"/>
<circle cx="511.69" cy="497.47" r="1.2" fill="#7066cc"/>
<circle cx="479.65" cy="524.90" r="1.2" fill="#7066cc"/>
<circle cx="483.31" cy="534.04" r="1.2" fill="#7066cc"/>
<circle cx="505.28" cy="563.30" r="1.2" fill="#7066cc"/>
<circle cx="461.34" cy="477.36" r="1.2" fill="#7066cc"/>
<line x1="270.60" y1="457.00" x2="270.60" y2="573.80" stroke="#111" stroke-width="1.3"/>
<line x1="270.10" y1="573.30" x2="410.50" y2="573.30" stroke="#111" stroke-width="1.3"/>
<line x1="416.30" y1="573.30" x2="557.10" y2="573.30" stroke="#111" stroke-width="1.3"/>
<line x1="268.10" y1="480.65" x2="270.60" y2="480.65" stroke="#1a1a1a" stroke-width="0.9"/>
<text x="267.60" y="484.15" font-size="10.0" text-anchor="end" fill="#1a1a1a">10</text>
<line x1="268.10" y1="517.10" x2="270.60" y2="517.10" stroke="#1a1a1a" stroke-width="0.9"/>
<text x="267.60" y="520.60" font-size="10.0" text-anchor="end" fill="#1a1a1a">0</text>
<line x1="268.10" y1="553.55" x2="270.60" y2="553.55" stroke="#1a1a1a" stroke-width="0.9"/>
<text x="267.60" y="557.05" font-size="10.0" text-anchor="end" fill="#1a1a1a">−10</text>
<text transform="translate(255.0,517.1) rotate(-90)" font-size="9.6" text-anchor="middle" fill="#1a1a1a">umap_2</text>
<line x1="289.90" y1="573.30" x2="289.90" y2="575.80" stroke="#1a1a1a" stroke-width="0.9"/>
<text x="289.90" y="586.50" font-size="10.0" text-anchor="middle" fill="#1a1a1a">−10</text>
<line x1="334.30" y1="573.30" x2="334.30" y2="575.80" stroke="#1a1a1a" stroke-width="0.9"/>
<text x="334.30" y="586.50" font-size="10.0" text-anchor="middle" fill="#1a1a1a">0</text>
<line x1="378.70" y1="573.30" x2="378.70" y2="575.80" stroke="#1a1a1a" stroke-width="0.9"/>
<text x="378.70" y="586.50" font-size="10.0" text-anchor="middle" fill="#1a1a1a">10</text>
<line x1="435.80" y1="573.30" x2="435.80" y2="575.80" stroke="#1a1a1a" stroke-width="0.9"/>
<text x="435.80" y="586.50" font-size="10.0" text-anchor="middle" fill="#1a1a1a">−10</text>
<line x1="480.20" y1="573.30" x2="480.20" y2="575.80" stroke="#1a1a1a" stroke-width="0.9"/>
<text x="480.20" y="586.50" font-size="10.0" text-anchor="middle" fill="#1a1a1a">0</text>
<line x1="524.60" y1="573.30" x2="524.60" y2="575.80" stroke="#1a1a1a" stroke-width="0.9"/>
<text x="524.60" y="586.50" font-size="10.0" text-anchor="middle" fill="#1a1a1a">10</text>
<text x="417.00" y="594.00" font-size="9.8" text-anchor="middle" fill="#1a1a1a">umap_1</text>
<text x="558.20" y="438.40" font-size="17.5" text-anchor="start" fill="#231f20">f</text>
<text x="586.40" y="441.60" font-size="8.6" text-anchor="start" font-weight="bold" font-style="italic" fill="#111">TOX</text>
<rect x="603.60" y="468.60" width="22.50" height="88.40" fill="#2a72b8"/>
<line x1="614.85" y1="465.30" x2="614.85" y2="468.60" stroke="#2a72b8" stroke-width="1.2"/>
<line x1="612.65" y1="465.30" x2="617.05" y2="465.30" stroke="#2a72b8" stroke-width="1.2"/>
<rect x="634.40" y="451.50" width="22.50" height="105.50" fill="#e2b03a"/>
<line x1="645.65" y1="449.00" x2="645.65" y2="451.50" stroke="#e2b03a" stroke-width="1.2"/>
<line x1="643.45" y1="449.00" x2="647.85" y2="449.00" stroke="#e2b03a" stroke-width="1.2"/>
<line x1="596.90" y1="444.60" x2="596.90" y2="562.40" stroke="#111" stroke-width="1.3"/>
<line x1="596.40" y1="561.90" x2="663.40" y2="561.90" stroke="#111" stroke-width="1.3"/>
<line x1="594.30" y1="557.00" x2="596.90" y2="557.00" stroke="#1a1a1a" stroke-width="1.0"/>
<text x="594.30" y="560.50" font-size="10.0" text-anchor="end" fill="#222">0.00</text>
<line x1="594.30" y1="533.90" x2="596.90" y2="533.90" stroke="#1a1a1a" stroke-width="1.0"/>
<text x="594.30" y="537.40" font-size="10.0" text-anchor="end" fill="#222">0.01</text>
<line x1="594.30" y1="510.80" x2="596.90" y2="510.80" stroke="#1a1a1a" stroke-width="1.0"/>
<text x="594.30" y="514.30" font-size="10.0" text-anchor="end" fill="#222">0.02</text>
<line x1="594.30" y1="487.70" x2="596.90" y2="487.70" stroke="#1a1a1a" stroke-width="1.0"/>
<text x="594.30" y="491.20" font-size="10.0" text-anchor="end" fill="#222">0.03</text>
<line x1="594.30" y1="464.60" x2="596.90" y2="464.60" stroke="#1a1a1a" stroke-width="1.0"/>
<text x="594.30" y="468.10" font-size="10.0" text-anchor="end" fill="#222">0.04</text>
<line x1="614.85" y1="561.90" x2="614.85" y2="564.20" stroke="#1a1a1a" stroke-width="0.9"/>
<line x1="645.65" y1="561.90" x2="645.65" y2="564.20" stroke="#1a1a1a" stroke-width="0.9"/>
<text x="629.50" y="448.50" font-size="12.5" text-anchor="middle" fill="#1a1a1a">*</text>
<text transform="translate(619.50,571.50) rotate(-30)" font-size="9.6" text-anchor="end" fill="#1a1a1a">EGFR_MT</text>
<text transform="translate(651.30,571.50) rotate(-30)" font-size="9.6" text-anchor="end" fill="#1a1a1a">KRAS_MT</text>
<text transform="translate(572.2,509) rotate(-90)" font-size="9.6" text-anchor="middle" fill="#1a1a1a">Expression</text>
<text x="497.00" y="610.20" font-size="17.5" text-anchor="start" fill="#231f20">i</text>
<text x="536.00" y="629.80" font-size="9.8" text-anchor="start" font-weight="bold" font-style="italic" fill="#111">CD3E</text>
<rect x="554.20" y="674.70" width="45.50" height="27.70" fill="#2a72b8"/>
<line x1="576.95" y1="670.90" x2="576.95" y2="674.70" stroke="#2a72b8" stroke-width="1.2"/>
<line x1="574.75" y1="670.90" x2="579.15" y2="670.90" stroke="#2a72b8" stroke-width="1.2"/>
<rect x="617.30" y="647.60" width="45.80" height="54.80" fill="#e2b03a"/>
<line x1="640.20" y1="642.30" x2="640.20" y2="647.60" stroke="#e2b03a" stroke-width="1.2"/>
<line x1="638.00" y1="642.30" x2="642.40" y2="642.30" stroke="#e2b03a" stroke-width="1.2"/>
<line x1="539.00" y1="640.30" x2="539.00" y2="705.00" stroke="#111" stroke-width="1.3"/>
<line x1="538.50" y1="704.50" x2="668.40" y2="704.50" stroke="#111" stroke-width="1.3"/>
<line x1="536.40" y1="702.40" x2="539.00" y2="702.40" stroke="#1a1a1a" stroke-width="1.0"/>
<text x="533.40" y="705.90" font-size="10.0" text-anchor="end" fill="#222">0.00</text>
<line x1="536.40" y1="688.10" x2="539.00" y2="688.10" stroke="#1a1a1a" stroke-width="1.0"/>
<text x="533.40" y="691.60" font-size="10.0" text-anchor="end" fill="#222">0.05</text>
<line x1="536.40" y1="673.80" x2="539.00" y2="673.80" stroke="#1a1a1a" stroke-width="1.0"/>
<text x="533.40" y="677.30" font-size="10.0" text-anchor="end" fill="#222">0.10</text>
<line x1="536.40" y1="659.50" x2="539.00" y2="659.50" stroke="#1a1a1a" stroke-width="1.0"/>
<text x="533.40" y="663.00" font-size="10.0" text-anchor="end" fill="#222">0.15</text>
<line x1="536.40" y1="645.20" x2="539.00" y2="645.20" stroke="#1a1a1a" stroke-width="1.0"/>
<text x="533.40" y="648.70" font-size="10.0" text-anchor="end" fill="#222">0.20</text>
<line x1="576.95" y1="704.50" x2="576.95" y2="706.80" stroke="#1a1a1a" stroke-width="0.9"/>
<line x1="640.20" y1="704.50" x2="640.20" y2="706.80" stroke="#1a1a1a" stroke-width="0.9"/>
<text x="606.20" y="642.80" font-size="12.5" text-anchor="middle" fill="#1a1a1a">*</text>
<text transform="translate(582.00,713.50) rotate(-30)" font-size="9.6" text-anchor="end" fill="#1a1a1a">EGFR_MT</text>
<text transform="translate(645.50,713.50) rotate(-30)" font-size="9.6" text-anchor="end" fill="#1a1a1a">KRAS_MT</text>
<text transform="translate(511.7,673.8) rotate(-90)" font-size="9.6" text-anchor="middle" fill="#1a1a1a">Propotion</text>
<text x="535.20" y="757.00" font-size="9.8" text-anchor="start" font-weight="bold" font-style="italic" fill="#111">CD163</text>
<rect x="554.20" y="799.90" width="47.60" height="29.80" fill="#2a72b8"/>
<line x1="578.00" y1="795.50" x2="578.00" y2="799.90" stroke="#2a72b8" stroke-width="1.2"/>
<line x1="575.80" y1="795.50" x2="580.20" y2="795.50" stroke="#2a72b8" stroke-width="1.2"/>
<rect x="621.00" y="770.10" width="48.00" height="59.60" fill="#e2b03a"/>
<line x1="645.00" y1="769.20" x2="645.00" y2="770.10" stroke="#e2b03a" stroke-width="1.2"/>
<line x1="642.80" y1="769.20" x2="647.20" y2="769.20" stroke="#e2b03a" stroke-width="1.2"/>
<line x1="538.10" y1="766.90" x2="538.10" y2="832.20" stroke="#111" stroke-width="1.3"/>
<line x1="537.60" y1="831.70" x2="671.90" y2="831.70" stroke="#111" stroke-width="1.3"/>
<line x1="535.50" y1="829.70" x2="538.10" y2="829.70" stroke="#1a1a1a" stroke-width="1.0"/>
<text x="532.50" y="833.20" font-size="10.0" text-anchor="end" fill="#222">0.0</text>
<line x1="535.50" y1="813.20" x2="538.10" y2="813.20" stroke="#1a1a1a" stroke-width="1.0"/>
<text x="532.50" y="816.70" font-size="10.0" text-anchor="end" fill="#222">0.1</text>
<line x1="535.50" y1="796.70" x2="538.10" y2="796.70" stroke="#1a1a1a" stroke-width="1.0"/>
<text x="532.50" y="800.20" font-size="10.0" text-anchor="end" fill="#222">0.2</text>
<line x1="535.50" y1="780.20" x2="538.10" y2="780.20" stroke="#1a1a1a" stroke-width="1.0"/>
<text x="532.50" y="783.70" font-size="10.0" text-anchor="end" fill="#222">0.3</text>
<line x1="578.00" y1="831.70" x2="578.00" y2="834.00" stroke="#1a1a1a" stroke-width="0.9"/>
<line x1="645.00" y1="831.70" x2="645.00" y2="834.00" stroke="#1a1a1a" stroke-width="0.9"/>
<text x="609.70" y="767.90" font-size="12.5" text-anchor="middle" fill="#1a1a1a">*</text>
<text transform="translate(583.20,838.80) rotate(-30)" font-size="9.6" text-anchor="end" fill="#1a1a1a">EGFR_MT</text>
<text transform="translate(649.00,838.80) rotate(-30)" font-size="9.6" text-anchor="end" fill="#1a1a1a">KRAS_MT</text>
<text transform="translate(516.0,804.0) rotate(-90)" font-size="9.6" text-anchor="middle" fill="#1a1a1a">Propotion</text>
<text x="541.40" y="882.00" font-size="9.8" text-anchor="start" font-weight="bold" font-style="italic" fill="#111">TOX</text>
<rect x="559.50" y="927.50" width="45.20" height="26.80" fill="#2a72b8"/>
<line x1="582.10" y1="922.50" x2="582.10" y2="927.50" stroke="#2a72b8" stroke-width="1.2"/>
<line x1="579.90" y1="922.50" x2="584.30" y2="922.50" stroke="#2a72b8" stroke-width="1.2"/>
<rect x="622.20" y="910.00" width="45.90" height="44.30" fill="#e2b03a"/>
<line x1="645.15" y1="904.70" x2="645.15" y2="910.00" stroke="#e2b03a" stroke-width="1.2"/>
<line x1="642.95" y1="904.70" x2="647.35" y2="904.70" stroke="#e2b03a" stroke-width="1.2"/>
<line x1="544.30" y1="891.90" x2="544.30" y2="957.20" stroke="#111" stroke-width="1.3"/>
<line x1="543.80" y1="956.70" x2="671.90" y2="956.70" stroke="#111" stroke-width="1.3"/>
<line x1="541.70" y1="954.30" x2="544.30" y2="954.30" stroke="#1a1a1a" stroke-width="1.0"/>
<text x="538.70" y="957.80" font-size="10.0" text-anchor="end" fill="#222">0.00</text>
<line x1="541.70" y1="935.30" x2="544.30" y2="935.30" stroke="#1a1a1a" stroke-width="1.0"/>
<text x="538.70" y="938.80" font-size="10.0" text-anchor="end" fill="#222">0.05</text>
<line x1="541.70" y1="916.30" x2="544.30" y2="916.30" stroke="#1a1a1a" stroke-width="1.0"/>
<text x="538.70" y="919.80" font-size="10.0" text-anchor="end" fill="#222">0.10</text>
<line x1="541.70" y1="897.30" x2="544.30" y2="897.30" stroke="#1a1a1a" stroke-width="1.0"/>
<text x="538.70" y="900.80" font-size="10.0" text-anchor="end" fill="#222">0.15</text>
<line x1="582.10" y1="956.70" x2="582.10" y2="959.00" stroke="#1a1a1a" stroke-width="0.9"/>
<line x1="645.15" y1="956.70" x2="645.15" y2="959.00" stroke="#1a1a1a" stroke-width="0.9"/>
<text transform="translate(586.30,964.50) rotate(-30)" font-size="9.6" text-anchor="end" fill="#1a1a1a">EGFR_MT</text>
<text transform="translate(649.20,964.50) rotate(-30)" font-size="9.6" text-anchor="end" fill="#1a1a1a">KRAS_MT</text>
<text transform="translate(516.0,923.0) rotate(-90)" font-size="9.6" text-anchor="middle" fill="#1a1a1a">Propotion</text>
<text x="387.80" y="833.60" font-size="9.6" text-anchor="start" fill="#1a1a1a">IFN-gamma signature</text>
<line x1="419.20" y1="839.40" x2="419.20" y2="940.00" stroke="#111" stroke-width="1.3"/>
<line x1="418.70" y1="939.50" x2="484.20" y2="939.50" stroke="#111" stroke-width="1.3"/>
<line x1="416.70" y1="919.72" x2="419.20" y2="919.72" stroke="#1a1a1a" stroke-width="1.0"/>
<text x="414.80" y="923.22" font-size="10.0" text-anchor="end" fill="#222">2.5</text>
<line x1="416.70" y1="894.65" x2="419.20" y2="894.65" stroke="#1a1a1a" stroke-width="1.0"/>
<text x="414.80" y="898.15" font-size="10.0" text-anchor="end" fill="#222">5.0</text>
<line x1="416.70" y1="869.57" x2="419.20" y2="869.57" stroke="#1a1a1a" stroke-width="1.0"/>
<text x="414.80" y="873.07" font-size="10.0" text-anchor="end" fill="#222">7.5</text>
<line x1="416.70" y1="844.50" x2="419.20" y2="844.50" stroke="#1a1a1a" stroke-width="1.0"/>
<text x="414.80" y="848.00" font-size="10.0" text-anchor="end" fill="#222">10.0</text>
<text transform="translate(395.2,884.9) rotate(-90)" font-size="9.6" text-anchor="middle" fill="#1a1a1a">Signature score</text>
<line x1="440.50" y1="906.90" x2="440.50" y2="921.30" stroke="#2a72b8" stroke-width="1.3"/>
<line x1="440.50" y1="933.50" x2="440.50" y2="934.60" stroke="#2a72b8" stroke-width="1.3"/>
<rect x="435.70" y="921.30" width="9.60" height="12.20" fill="none" stroke="#2a72b8" stroke-width="1.4"/>
<line x1="435.70" y1="928.20" x2="445.30" y2="928.20" stroke="#2a72b8" stroke-width="2.2"/>
<line x1="439.00" y1="856.00" x2="442.00" y2="856.00" stroke="#2a72b8" stroke-width="1.3"/>
<line x1="439.00" y1="869.60" x2="442.00" y2="869.60" stroke="#2a72b8" stroke-width="1.3"/>
<line x1="439.00" y1="881.20" x2="442.00" y2="881.20" stroke="#2a72b8" stroke-width="1.3"/>
<line x1="439.00" y1="891.30" x2="442.00" y2="891.30" stroke="#2a72b8" stroke-width="1.3"/>
<line x1="439.00" y1="899.60" x2="442.00" y2="899.60" stroke="#2a72b8" stroke-width="1.3"/>
<line x1="467.60" y1="881.20" x2="467.60" y2="906.50" stroke="#e0a832" stroke-width="1.3"/>
<line x1="467.60" y1="928.40" x2="467.60" y2="934.60" stroke="#e0a832" stroke-width="1.3"/>
<rect x="462.50" y="906.50" width="10.10" height="21.90" fill="none" stroke="#e0a832" stroke-width="1.4"/>
<line x1="462.50" y1="921.30" x2="472.60" y2="921.30" stroke="#e0a832" stroke-width="2.2"/>
<line x1="466.10" y1="856.00" x2="469.10" y2="856.00" stroke="#e0a832" stroke-width="1.3"/>
<line x1="466.10" y1="869.60" x2="469.10" y2="869.60" stroke="#e0a832" stroke-width="1.3"/>
<line x1="440.50" y1="939.50" x2="440.50" y2="941.80" stroke="#1a1a1a" stroke-width="0.9"/>
<line x1="467.60" y1="939.50" x2="467.60" y2="941.80" stroke="#1a1a1a" stroke-width="0.9"/>
<text x="453.40" y="850.50" font-size="12.5" text-anchor="middle" fill="#1a1a1a">*</text>
<text transform="translate(444.50,947.50) rotate(-30)" font-size="9.6" text-anchor="end" fill="#1a1a1a">EGFR_MT</text>
<text transform="translate(472.50,947.50) rotate(-30)" font-size="9.6" text-anchor="end" fill="#1a1a1a">KRAS_MT</text>
<defs>
<filter id="blr" x="-20%" y="-20%" width="140%" height="140%"><feGaussianBlur stdDeviation="4"/></filter>
<filter id="blr2" x="-20%" y="-20%" width="140%" height="140%"><feGaussianBlur stdDeviation="2"/></filter>
<filter id="sb" x="-5%" y="-5%" width="110%" height="110%"><feGaussianBlur stdDeviation="0.35"/></filter>
<pattern id="hexg" width="2.3" height="3.98" patternUnits="userSpaceOnUse"><circle cx="0" cy="0" r="0.95" fill="#fff" fill-opacity="0.16" stroke="#1e1a28" stroke-opacity="0.38" stroke-width="0.55"/><circle cx="2.3" cy="0" r="0.95" fill="#fff" fill-opacity="0.16" stroke="#1e1a28" stroke-opacity="0.38" stroke-width="0.55"/><circle cx="1.15" cy="1.99" r="0.95" fill="#fff" fill-opacity="0.16" stroke="#1e1a28" stroke-opacity="0.38" stroke-width="0.55"/><circle cx="0" cy="3.98" r="0.95" fill="#fff" fill-opacity="0.16" stroke="#1e1a28" stroke-opacity="0.38" stroke-width="0.55"/><circle cx="2.3" cy="3.98" r="0.95" fill="#fff" fill-opacity="0.16" stroke="#1e1a28" stroke-opacity="0.38" stroke-width="0.55"/></pattern>
<pattern id="fidh" width="7.3" height="5" patternUnits="userSpaceOnUse"><circle cx="0.9" cy="1.1" r="0.78" fill="#9494c2"/><circle cx="4.55" cy="1.1" r="0.78" fill="#9494c2"/><circle cx="5.6" cy="4.0" r="0.78" fill="#9494c2"/></pattern>
<pattern id="fidv" width="5" height="7.3" patternUnits="userSpaceOnUse"><circle cy="0.9" cx="1.1" r="0.78" fill="#9494c2"/><circle cy="4.55" cx="1.1" r="0.78" fill="#9494c2"/><circle cy="5.6" cx="4.0" r="0.78" fill="#9494c2"/></pattern>
<filter id="hne" x="0" y="0" width="100%" height="100%"><feTurbulence type="fractalNoise" baseFrequency="0.5" numOctaves="2" seed="3"/><feColorMatrix values="0 0 0 0 0.36  0 0 0 0 0.30  0 0 0 0 0.62  0 0 0 -3.2 2.2"/><feComposite in2="SourceGraphic" operator="in"/></filter>
<linearGradient id="bgL" x1="0" y1="0" x2="1" y2="1"><stop offset="0" stop-color="#d9dcec"/><stop offset="0.25" stop-color="#e6e6ea"/><stop offset="1" stop-color="#e6e6e9"/></linearGradient>
<clipPath id="cGL"><path d="M25.3,645.7 L30.5,647.0 L39.7,646.4 L46.3,648.4 L52.8,652.3 L59.4,653.6 L63.4,656.2 L69.9,651.0 L75.2,647.0 L84.4,645.7 L85.7,635.2 L89.6,631.3 L91.0,622.1 L98.8,619.5 L105.0,620.5 L110.5,616.8 L118.9,614.7 L127.2,617.5 L135.5,621.6 L141.1,624.4 L148.0,628.6 L153.5,627.9 L160.5,629.3 L166.0,625.8 L170.2,623.0 L173.0,628.6 L177.1,632.7 L179.9,639.7 L182.0,646.6 L182.7,657.7 L184.8,663.3 L186.8,670.2 L188.2,679.9 L188.9,691.0 L186.8,698.3 L182.7,710.8 L178.5,720.5 L171.6,728.8 L164.6,734.4 L159.1,741.3 L153.5,748.3 L149.4,755.2 L142.4,760.7 L135.5,767.7 L128.6,771.8 L118.9,773.2 L105.0,773.2 L80.0,773.0 L60.0,773.0 L46.0,772.0 L33.0,771.5 L30.5,763.6 L33.1,755.7 L41.0,747.8 L46.3,740.0 L33.1,733.4 L31.2,703.0 L31.8,690.0 L30.2,663.8 L26.0,652.0 Z"/></clipPath>
<clipPath id="cGR"><path d="M243.7,621.1 L249.0,618.4 L258.4,617.8 L270.5,615.7 L278.6,617.1 L285.3,617.8 L289.0,619.8 L293.1,623.8 L297.1,626.5 L303.8,633.2 L311.9,639.9 L319.9,645.3 L325.3,650.7 L332.0,657.4 L338.7,664.1 L336.0,668.1 L338.7,674.8 L342.7,681.6 L348.1,689.6 L352.2,696.7 L356.2,704.8 L361.6,712.8 L365.6,720.9 L366.9,727.6 L365.6,735.7 L362.9,743.7 L360.2,751.8 L354.8,758.5 L350.8,765.2 L348.1,770.6 L342.7,769.2 L336.0,766.6 L332.0,761.2 L331.3,754.5 L325.3,753.1 L321.3,749.1 L311.9,747.7 L305.1,745.1 L298.4,741.0 L291.7,738.3 L284.0,739.0 L278.6,735.7 L267.8,735.7 L258.4,736.3 L251.7,735.7 L241.0,731.6 L231.6,733.0 L220.8,733.0 L211.4,731.6 L203.0,730.5 L203.4,693.6 L206.1,689.6 L210.1,682.9 L212.8,676.2 L216.8,668.1 L220.8,662.7 L224.9,658.7 L223.5,650.7 L224.2,645.3 L224.9,637.2 L230.2,633.2 L238.3,626.5 Z"/></clipPath>
</defs>
<text x="0.40" y="613.40" font-size="17.5" text-anchor="start" fill="#231f20">g</text>
<text x="2.00" y="797.70" font-size="17.5" text-anchor="start" fill="#231f20">h</text>
<rect x="22.80" y="608.80" width="173.00" height="170.00" fill="url(#bgL)"/>
<rect x="23.20" y="609.20" width="172.20" height="5.00" fill="url(#fidh)"/>
<g transform="translate(218.60,1387.60) rotate(180)">
<rect x="23.20" y="609.20" width="172.20" height="5.00" fill="url(#fidh)"/>
</g>
<rect x="23.20" y="609.20" width="5.00" height="169.20" fill="url(#fidv)"/>
<g transform="translate(218.60,1387.60) rotate(180)">
<rect x="23.20" y="609.20" width="5.00" height="169.20" fill="url(#fidv)"/>
</g>
<path d="M25.3,645.7 L30.5,647.0 L39.7,646.4 L46.3,648.4 L52.8,652.3 L59.4,653.6 L63.4,656.2 L69.9,651.0 L75.2,647.0 L84.4,645.7 L85.7,635.2 L89.6,631.3 L91.0,622.1 L98.8,619.5 L105.0,620.5 L110.5,616.8 L118.9,614.7 L127.2,617.5 L135.5,621.6 L141.1,624.4 L148.0,628.6 L153.5,627.9 L160.5,629.3 L166.0,625.8 L170.2,623.0 L173.0,628.6 L177.1,632.7 L179.9,639.7 L182.0,646.6 L182.7,657.7 L184.8,663.3 L186.8,670.2 L188.2,679.9 L188.9,691.0 L186.8,698.3 L182.7,710.8 L178.5,720.5 L171.6,728.8 L164.6,734.4 L159.1,741.3 L153.5,748.3 L149.4,755.2 L142.4,760.7 L135.5,767.7 L128.6,771.8 L118.9,773.2 L105.0,773.2 L80.0,773.0 L60.0,773.0 L46.0,772.0 L33.0,771.5 L30.5,763.6 L33.1,755.7 L41.0,747.8 L46.3,740.0 L33.1,733.4 L31.2,703.0 L31.8,690.0 L30.2,663.8 L26.0,652.0 Z" fill="#46434c"/>
<g filter="url(#sb)"><g transform="translate(24.00,613.00) scale(1.1500,1.9900)"><path d="M83 1h0m-7 1h0m4 0h0m2 0h0m4 0h0m2 0h0m-15 1h0m2 0h0m2 0h0m2 0h0m2 0h0m6 0h0m-25 1h0m2 0h0m2 0h0m2 0h0m2 0h0m2 0h0m2 0h0m2 0h0m2 0h0m2 0h0m2 0h0m4 0h0m4 0h0m4 0h0m-35 1h0m8 0h0m2 0h0m2 0h0m2 0h0m2 0h0m4 0h0m4 0h0m6 0h0m2 0h0m4 0h0m4 0h0m-41 1h0m6 0h0m2 0h0m2 0h0m6 0h0m2 0h0m2 0h0m2 0h0m4 0h0m2 0h0m2 0h0m2 0h0m4 0h0m2 0h0m2 0h0m2 0h0m2 0h0m24 0h0m-63 1h0m4 0h0m2 0h0m4 0h0m2 0h0m4 0h0m2 0h0m4 0h0m2 0h0m2 0h0m2 0h0m2 0h0m2 0h0m2 0h0m2 0h0m2 0h0m4 0h0m18 0h0m4 0h0m-69 1h0m6 0h0m2 0h0m6 0h0m6 0h0m2 0h0m2 0h0m2 0h0m4 0h0m4 0h0m4 0h0m2 0h0m2 0h0m4 0h0m2 0h0m8 0h0m6 0h0m2 0h0m2 0h0m4 0h0m-69 1h0m2 0h0m2 0h0m2 0h0m2 0h0m6 0h0m2 0h0m2 0h0m2 0h0m2 0h0m2 0h0m4 0h0m4 0h0m2 0h0m2 0h0m2 0h0m2 0h0m4 0h0m12 0h0m4 0h0m2 0h0m-65 1h0m2 0h0m2 0h0m2 0h0m2 0h0m2 0h0m8 0h0m2 0h0m2 0h0m2 0h0m2 0h0m2 0h0m2 0h0m4 0h0m2 0h0m2 0h0m2 0h0m2 0h0m2 0h0m6 0h0m2 0h0m2 0h0m4 0h0m2 0h0m2 0h0m2 0h0m2 0h0m8 0h0m2 0h0m-77 1h0m6 0h0m2 0h0m2 0h0m2 0h0m2 0h0m6 0h0m4 0h0m2 0h0m2 0h0m2 0h0m2 0h0m2 0h0m2 0h0m2 0h0m2 0h0m6 0h0m2 0h0m2 0h0m4 0h0m4 0h0m2 0h0m2 0h0m2 0h0m2 0h0m2 0h0m2 0h0m4 0h0m2 0h0m2 0h0m-79 1h0m2 0h0m2 0h0m2 0h0m8 0h0m2 0h0m2 0h0m2 0h0m2 0h0m2 0h0m2 0h0m2 0h0m2 0h0m2 0h0m2 0h0m2 0h0m4 0h0m6 0h0m6 0h0m2 0h0m2 0h0m4 0h0m2 0h0m8 0h0m4 0h0m-73 1h0m2 0h0m8 0h0m4 0h0m6 0h0m2 0h0m2 0h0m2 0h0m2 0h0m2 0h0m2 0h0m4 0h0m4 0h0m2 0h0m4 0h0m2 0h0m2 0h0m10 0h0m4 0h0m2 0h0m2 0h0m2 0h0m6 0h0m4 0h0m-81 1h0m2 0h0m2 0h0m4 0h0m10 0h0m2 0h0m2 0h0m2 0h0m2 0h0m4 0h0m2 0h0m2 0h0m2 0h0m2 0h0m4 0h0m4 0h0m6 0h0m2 0h0m2 0h0m2 0h0m6 0h0m2 0h0m2 0h0m6 0h0m4 0h0m2 0h0m-81 1h0m2 0h0m2 0h0m2 0h0m2 0h0m2 0h0m4 0h0m4 0h0m2 0h0m2 0h0m2 0h0m2 0h0m2 0h0m2 0h0m2 0h0m2 0h0m2 0h0m2 0h0m2 0h0m8 0h0m8 0h0m2 0h0m4 0h0m6 0h0m2 0h0m4 0h0m2 0h0m4 0h0m-79 1h0m2 0h0m2 0h0m2 0h0m2 0h0m8 0h0m6 0h0m4 0h0m2 0h0m2 0h0m2 0h0m2 0h0m2 0h0m2 0h0m2 0h0m2 0h0m2 0h0m8 0h0m2 0h0m4 0h0m4 0h0m6 0h0m2 0h0m2 0h0m2 0h0m4 0h0m2 0h0m-131 1h0m2 0h0m4 0h0m2 0h0m2 0h0m42 0h0m2 0h0m2 0h0m2 0h0m6 0h0m20 0h0m2 0h0m2 0h0m2 0h0m2 0h0m2 0h0m2 0h0m2 0h0m2 0h0m2 0h0m2 0h0m4 0h0m2 0h0m8 0h0m4 0h0m2 0h0m6 0h0m2 0h0m-133 1h0m2 0h0m2 0h0m2 0h0m2 0h0m2 0h0m2 0h0m38 0h0m2 0h0m2 0h0m2 0h0m2 0h0m2 0h0m4 0h0m10 0h0m4 0h0m2 0h0m2 0h0m2 0h0m2 0h0m2 0h0m2 0h0m2 0h0m4 0h0m2 0h0m2 0h0m2 0h0m2 0h0m2 0h0m2 0h0m6 0h0m6 0h0m4 0h0m2 0h0m4 0h0m2 0h0m-131 1h0m2 0h0m6 0h0m2 0h0m2 0h0m2 0h0m2 0h0m2 0h0m22 0h0m6 0h0m2 0h0m2 0h0m2 0h0m2 0h0m2 0h0m8 0h0m2 0h0m8 0h0m2 0h0m6 0h0m2 0h0m2 0h0m2 0h0m2 0h0m8 0h0m2 0h0m2 0h0m2 0h0m2 0h0m2 0h0m2 0h0m2 0h0m2 0h0m6 0h0m2 0h0m2 0h0m2 0h0m2 0h0m6 0h0m-135 1h0m8 0h0m2 0h0m2 0h0m4 0h0m6 0h0m2 0h0m18 0h0m2 0h0m4 0h0m2 0h0m2 0h0m2 0h0m2 0h0m2 0h0m4 0h0m2 0h0m4 0h0m8 0h0m2 0h0m2 0h0m4 0h0m2 0h0m2 0h0m2 0h0m8 0h0m4 0h0m2 0h0m2 0h0m6 0h0m2 0h0m2 0h0m2 0h0m2 0h0m2 0h0m2 0h0m2 0h0m4 0h0m4 0h0m-133 1h0m6 0h0m2 0h0m2 0h0m2 0h0m2 0h0m8 0h0m6 0h0m6 0h0m6 0h0m4 0h0m4 0h0m2 0h0m2 0h0m4 0h0m4 0h0m2 0h0m16 0h0m8 0h0m2 0h0m6 0h0m2 0h0m6 0h0m2 0h0m2 0h0m6 0h0m2 0h0m2 0h0m2 0h0m2 0h0m4 0h0m2 0h0m2 0h0m2 0h0m4 0h0m-133 1h0m8 0h0m2 0h0m2 0h0m2 0h0m2 0h0m6 0h0m2 0h0m2 0h0m2 0h0m12 0h0m6 0h0m2 0h0m4 0h0m2 0h0m2 0h0m6 0h0m12 0h0m2 0h0m4 0h0m4 0h0m2 0h0m2 0h0m2 0h0m2 0h0m2 0h0m4 0h0m6 0h0m2 0h0m2 0h0m4 0h0m8 0h0m2 0h0m4 0h0m2 0h0m2 0h0m-125 1h0m4 0h0m4 0h0m4 0h0m8 0h0m4 0h0m2 0h0m2 0h0m2 0h0m6 0h0m4 0h0m2 0h0m2 0h0m8 0h0m2 0h0m4 0h0m6 0h0m6 0h0m4 0h0m2 0h0m2 0h0m2 0h0m2 0h0m2 0h0m2 0h0m2 0h0m2 0h0m4 0h0m8 0h0m4 0h0m2 0h0m2 0h0m6 0h0m2 0h0m4 0h0m2 0h0m2 0h0m2 0h0m-131 1h0m2 0h0m2 0h0m4 0h0m2 0h0m2 0h0m14 0h0m2 0h0m2 0h0m14 0h0m2 0h0m2 0h0m4 0h0m2 0h0m10 0h0m12 0h0m6 0h0m2 0h0m2 0h0m2 0h0m4 0h0m2 0h0m2 0h0m2 0h0m6 0h0m4 0h0m2 0h0m2 0h0m4 0h0m4 0h0m2 0h0m2 0h0m2 0h0m-125 1h0m2 0h0m4 0h0m4 0h0m2 0h0m8 0h0m4 0h0m2 0h0m2 0h0m8 0h0m6 0h0m6 0h0m2 0h0m2 0h0m2 0h0m6 0h0m4 0h0m8 0h0m4 0h0m4 0h0m2 0h0m2 0h0m2 0h0m2 0h0m2 0h0m2 0h0m2 0h0m8 0h0m2 0h0m10 0h0m4 0h0m2 0h0m2 0h0m4 0h0m2 0h0m2 0h0m2 0h0m-133 1h0m2 0h0m2 0h0m2 0h0m2 0h0m2 0h0m2 0h0m2 0h0m8 0h0m2 0h0m2 0h0m2 0h0m2 0h0m14 0h0m8 0h0m4 0h0m6 0h0m2 0h0m2 0h0m4 0h0m8 0h0m2 0h0m2 0h0m2 0h0m4 0h0m2 0h0m6 0h0m2 0h0m2 0h0m6 0h0m4 0h0m4 0h0m6 0h0m2 0h0m2 0h0m4 0h0m2 0h0m2 0h0m2 0h0m-129 1h0m2 0h0m2 0h0m4 0h0m2 0h0m2 0h0m2 0h0m4 0h0m2 0h0m2 0h0m14 0h0m2 0h0m6 0h0m4 0h0m10 0h0m10 0h0m6 0h0m2 0h0m2 0h0m2 0h0m6 0h0m2 0h0m4 0h0m4 0h0m2 0h0m6 0h0m6 0h0m2 0h0m4 0h0m2 0h0m4 0h0m4 0h0m2 0h0m-133 1h0m2 0h0m2 0h0m6 0h0m2 0h0m2 0h0m2 0h0m2 0h0m2 0h0m10 0h0m2 0h0m2 0h0m8 0h0m4 0h0m6 0h0m4 0h0m2 0h0m4 0h0m12 0h0m4 0h0m2 0h0m2 0h0m8 0h0m2 0h0m2 0h0m2 0h0m4 0h0m2 0h0m6 0h0m2 0h0m4 0h0m2 0h0m4 0h0m2 0h0m2 0h0m2 0h0m2 0h0m2 0h0m-129 1h0m2 0h0m2 0h0m2 0h0m2 0h0m2 0h0m4 0h0m2 0h0m6 0h0m6 0h0m2 0h0m16 0h0m4 0h0m2 0h0m2 0h0m2 0h0m2 0h0m18 0h0m2 0h0m2 0h0m4 0h0m2 0h0m2 0h0m2 0h0m2 0h0m2 0h0m4 0h0m2 0h0m2 0h0m2 0h0m4 0h0m8 0h0m2 0h0m2 0h0m2 0h0m4 0h0m6 0h0m2 0h0m-135 1h0m2 0h0m2 0h0m2 0h0m2 0h0m2 0h0m2 0h0m2 0h0m2 0h0m4 0h0m18 0h0m2 0h0m8 0h0m4 0h0m2 0h0m2 0h0m2 0h0m2 0h0m2 0h0m16 0h0m10 0h0m2 0h0m2 0h0m2 0h0m2 0h0m2 0h0m2 0h0m2 0h0m4 0h0m2 0h0m2 0h0m2 0h0m2 0h0m2 0h0m2 0h0m2 0h0m2 0h0m2 0h0m2 0h0m-125 1h0m2 0h0m2 0h0m2 0h0m2 0h0m2 0h0m2 0h0m2 0h0m2 0h0m2 0h0m2 0h0m2 0h0m14 0h0m10 0h0m2 0h0m2 0h0m4 0h0m2 0h0m22 0h0m4 0h0m2 0h0m2 0h0m2 0h0m2 0h0m4 0h0m2 0h0m2 0h0m2 0h0m2 0h0m2 0h0m2 0h0m2 0h0m2 0h0m2 0h0m2 0h0m2 0h0m2 0h0m2 0h0m6 0h0m2 0h0m4 0h0m-131 1h0m2 0h0m6 0h0m2 0h0m2 0h0m2 0h0m2 0h0m2 0h0m16 0h0m2 0h0m4 0h0m4 0h0m2 0h0m2 0h0m2 0h0m4 0h0m14 0h0m12 0h0m4 0h0m2 0h0m2 0h0m2 0h0m2 0h0m2 0h0m2 0h0m2 0h0m2 0h0m2 0h0m2 0h0m6 0h0m2 0h0m2 0h0m2 0h0m2 0h0m2 0h0m8 0h0m4 0h0m2 0h0m-135 1h0m6 0h0m4 0h0m2 0h0m2 0h0m6 0h0m2 0h0m2 0h0m24 0h0m2 0h0m2 0h0m22 0h0m6 0h0m2 0h0m2 0h0m2 0h0m2 0h0m2 0h0m2 0h0m2 0h0m2 0h0m2 0h0m2 0h0m2 0h0m2 0h0m2 0h0m4 0h0m2 0h0m2 0h0m2 0h0m4 0h0m4 0h0m2 0h0m4 0h0m2 0h0m2 0h0m-133 1h0m2 0h0m2 0h0m8 0h0m6 0h0m2 0h0m2 0h0m2 0h0m2 0h0m10 0h0m6 0h0m10 0h0m10 0h0m12 0h0m2 0h0m2 0h0m2 0h0m2 0h0m2 0h0m2 0h0m2 0h0m2 0h0m2 0h0m2 0h0m4 0h0m2 0h0m2 0h0m2 0h0m2 0h0m8 0h0m2 0h0m2 0h0m2 0h0m2 0h0m2 0h0m4 0h0m2 0h0m2 0h0m-133 1h0m4 0h0m4 0h0m4 0h0m4 0h0m2 0h0m4 0h0m24 0h0m14 0h0m14 0h0m2 0h0m2 0h0m2 0h0m2 0h0m2 0h0m2 0h0m2 0h0m2 0h0m4 0h0m2 0h0m4 0h0m2 0h0m2 0h0m4 0h0m4 0h0m4 0h0m2 0h0m12 0h0m4 0h0m-131 1h0m2 0h0m4 0h0m2 0h0m4 0h0m2 0h0m4 0h0m26 0h0m2 0h0m8 0h0m2 0h0m10 0h0m4 0h0m8 0h0m2 0h0m2 0h0m2 0h0m2 0h0m2 0h0m2 0h0m2 0h0m2 0h0m2 0h0m2 0h0m2 0h0m4 0h0m2 0h0m2 0h0m4 0h0m2 0h0m2 0h0m8 0h0m2 0h0m2 0h0m2 0h0m-133 1h0m2 0h0m2 0h0m2 0h0m2 0h0m4 0h0m4 0h0m4 0h0m38 0h0m4 0h0m18 0h0m4 0h0m2 0h0m2 0h0m6 0h0m6 0h0m4 0h0m2 0h0m2 0h0m2 0h0m2 0h0m2 0h0m8 0h0m10 0h0m4 0h0m-135 1h0m2 0h0m4 0h0m2 0h0m2 0h0m2 0h0m4 0h0m2 0h0m20 0h0m8 0h0m8 0h0m8 0h0m4 0h0m2 0h0m8 0h0m2 0h0m2 0h0m2 0h0m2 0h0m8 0h0m4 0h0m4 0h0m2 0h0m8 0h0m2 0h0m2 0h0m4 0h0m4 0h0m4 0h0m2 0h0m2 0h0m-129 1h0m2 0h0m2 0h0m2 0h0m2 0h0m4 0h0m40 0h0m8 0h0m2 0h0m8 0h0m6 0h0m2 0h0m4 0h0m6 0h0m4 0h0m2 0h0m2 0h0m2 0h0m2 0h0m2 0h0m2 0h0m2 0h0m2 0h0m2 0h0m2 0h0m2 0h0m2 0h0m2 0h0m4 0h0m2 0h0m4 0h0m6 0h0m-135 1h0m6 0h0m2 0h0m4 0h0m10 0h0m8 0h0m32 0h0m2 0h0m8 0h0m2 0h0m2 0h0m4 0h0m4 0h0m2 0h0m2 0h0m4 0h0m4 0h0m2 0h0m2 0h0m2 0h0m6 0h0m2 0h0m2 0h0m2 0h0m2 0h0m2 0h0m2 0h0m2 0h0m2 0h0m2 0h0m2 0h0m2 0h0m2 0h0m2 0h0m-135 1h0m2 0h0m4 0h0m2 0h0m2 0h0m4 0h0m46 0h0m10 0h0m8 0h0m4 0h0m2 0h0m2 0h0m2 0h0m2 0h0m2 0h0m2 0h0m6 0h0m2 0h0m4 0h0m2 0h0m2 0h0m2 0h0m2 0h0m2 0h0m2 0h0m2 0h0m2 0h0m2 0h0m2 0h0m2 0h0m2 0h0m2 0h0m2 0h0m-133 1h0m2 0h0m4 0h0m6 0h0m50 0h0m4 0h0m4 0h0m4 0h0m4 0h0m4 0h0m2 0h0m2 0h0m4 0h0m6 0h0m2 0h0m2 0h0m2 0h0m2 0h0m2 0h0m2 0h0m2 0h0m2 0h0m2 0h0m2 0h0m2 0h0m2 0h0m2 0h0m4 0h0m2 0h0m2 0h0m2 0h0m-119 1h0m20 0h0m24 0h0m2 0h0m8 0h0m2 0h0m2 0h0m2 0h0m4 0h0m2 0h0m2 0h0m2 0h0m2 0h0m2 0h0m2 0h0m4 0h0m2 0h0m2 0h0m2 0h0m4 0h0m2 0h0m2 0h0m2 0h0m2 0h0m2 0h0m2 0h0m2 0h0m2 0h0m2 0h0m2 0h0m2 0h0m2 0h0m4 0h0m2 0h0m-131 1h0m2 0h0m2 0h0m4 0h0m2 0h0m30 0h0m20 0h0m4 0h0m6 0h0m2 0h0m10 0h0m2 0h0m2 0h0m2 0h0m4 0h0m2 0h0m2 0h0m2 0h0m2 0h0m2 0h0m16 0h0m2 0h0m8 0h0m-131 1h0m2 0h0m2 0h0m2 0h0m8 0h0m52 0h0m2 0h0m2 0h0m2 0h0m2 0h0m2 0h0m2 0h0m2 0h0m2 0h0m2 0h0m2 0h0m2 0h0m6 0h0m2 0h0m2 0h0m2 0h0m20 0h0m8 0h0m2 0h0m-125 1h0m2 0h0m4 0h0m26 0h0m26 0h0m4 0h0m6 0h0m4 0h0m2 0h0m2 0h0m4 0h0m2 0h0m2 0h0m4 0h0m2 0h0m2 0h0m2 0h0m-93 1h0m4 0h0m2 0h0m4 0h0m58 0h0m2 0h0m2 0h0m2 0h0m2 0h0m4 0h0m8 0h0m2 0h0m2 0h0m2 0h0m2 0h0m2 0h0m16 0h0m6 0h0m-117 1h0m2 0h0m6 0h0m42 0h0m16 0h0m2 0h0m4 0h0m2 0h0m4 0h0m2 0h0m2 0h0m2 0h0m6 0h0m4 0h0m2 0h0m2 0h0m6 0h0m2 0h0m2 0h0m6 0h0m2 0h0m2 0h0m4 0h0m-125 1h0m16 0h0m6 0h0m4 0h0m30 0h0m14 0h0m2 0h0m2 0h0m2 0h0m2 0h0m4 0h0m2 0h0m4 0h0m2 0h0m4 0h0m2 0h0m8 0h0m2 0h0m4 0h0m2 0h0m4 0h0m4 0h0m4 0h0m-117 1h0m4 0h0m60 0h0m2 0h0m2 0h0m4 0h0m6 0h0m2 0h0m4 0h0m2 0h0m2 0h0m2 0h0m2 0h0m4 0h0m4 0h0m4 0h0m2 0h0m2 0h0m2 0h0m4 0h0m2 0h0m-123 1h0m4 0h0m2 0h0m4 0h0m42 0h0m4 0h0m14 0h0m4 0h0m4 0h0m2 0h0m2 0h0m8 0h0m2 0h0m4 0h0m6 0h0m2 0h0m2 0h0m2 0h0m2 0h0m2 0h0m2 0h0m4 0h0m2 0h0m2 0h0m-127 1h0m2 0h0m14 0h0m4 0h0m30 0h0m6 0h0m2 0h0m20 0h0m2 0h0m2 0h0m2 0h0m2 0h0m2 0h0m2 0h0m6 0h0m2 0h0m2 0h0m2 0h0m6 0h0m2 0h0m6 0h0m2 0h0m2 0h0m2 0h0m2 0h0m2 0h0m-111 1h0m22 0h0m22 0h0m18 0h0m2 0h0m2 0h0m2 0h0m2 0h0m2 0h0m2 0h0m2 0h0m6 0h0m4 0h0m8 0h0m2 0h0m4 0h0m2 0h0m2 0h0m2 0h0m2 0h0m4 0h0m-127 1h0m4 0h0m2 0h0m2 0h0m6 0h0m26 0h0m34 0h0m4 0h0m2 0h0m2 0h0m2 0h0m4 0h0m2 0h0m2 0h0m6 0h0m2 0h0m4 0h0m4 0h0m2 0h0m2 0h0m4 0h0m2 0h0m2 0h0m2 0h0m2 0h0m2 0h0m-125 1h0m2 0h0m2 0h0m2 0h0m4 0h0m2 0h0m2 0h0m40 0h0m4 0h0m4 0h0m12 0h0m2 0h0m2 0h0m2 0h0m6 0h0m2 0h0m2 0h0m10 0h0m2 0h0m6 0h0m8 0h0m2 0h0m-119 1h0m8 0h0m4 0h0m2 0h0m4 0h0m4 0h0m24 0h0m4 0h0m4 0h0m2 0h0m2 0h0m2 0h0m14 0h0m2 0h0m8 0h0m2 0h0m2 0h0m2 0h0m2 0h0m2 0h0m4 0h0m6 0h0m4 0h0m2 0h0m2 0h0m2 0h0m4 0h0m2 0h0m-119 1h0m2 0h0m2 0h0m2 0h0m4 0h0m2 0h0m4 0h0m2 0h0m4 0h0m4 0h0m16 0h0m8 0h0m2 0h0m4 0h0m4 0h0m8 0h0m8 0h0m2 0h0m2 0h0m2 0h0m2 0h0m2 0h0m4 0h0m2 0h0m2 0h0m6 0h0m6 0h0m2 0h0m2 0h0m4 0h0m2 0h0m2 0h0m2 0h0m-121 1h0m2 0h0m2 0h0m2 0h0m2 0h0m2 0h0m2 0h0m2 0h0m4 0h0m2 0h0m8 0h0m18 0h0m4 0h0m2 0h0m2 0h0m2 0h0m2 0h0m2 0h0m2 0h0m8 0h0m6 0h0m4 0h0m4 0h0m6 0h0m2 0h0m8 0h0m4 0h0m8 0h0m2 0h0m2 0h0m2 0h0m-117 1h0m2 0h0m2 0h0m2 0h0m2 0h0m2 0h0m2 0h0m2 0h0m2 0h0m34 0h0m2 0h0m2 0h0m2 0h0m2 0h0m2 0h0m2 0h0m12 0h0m4 0h0m2 0h0m2 0h0m6 0h0m2 0h0m2 0h0m2 0h0m6 0h0m2 0h0m4 0h0m4 0h0m2 0h0m2 0h0m2 0h0m-117 1h0m2 0h0m4 0h0m6 0h0m2 0h0m2 0h0m2 0h0m6 0h0m8 0h0m16 0h0m4 0h0m4 0h0m2 0h0m2 0h0m2 0h0m14 0h0m6 0h0m2 0h0m2 0h0m2 0h0m12 0h0m2 0h0m2 0h0m2 0h0m4 0h0m2 0h0m2 0h0m2 0h0m-113 1h0m10 0h0m2 0h0m2 0h0m4 0h0m32 0h0m6 0h0m2 0h0m6 0h0m8 0h0m2 0h0m2 0h0m2 0h0m6 0h0m2 0h0m2 0h0m2 0h0m8 0h0m2 0h0m2 0h0m2 0h0m2 0h0m-99 1h0m2 0h0m2 0h0m2 0h0m2 0h0m10 0h0m20 0h0m10 0h0m2 0h0m2 0h0m6 0h0m2 0h0m2 0h0m6 0h0m12 0h0m4 0h0m4 0h0m2 0h0m2 0h0m6 0h0m-97 1h0m2 0h0m2 0h0m10 0h0m2 0h0m22 0h0m10 0h0m2 0h0m2 0h0m2 0h0m2 0h0m2 0h0m2 0h0m2 0h0m10 0h0m2 0h0m8 0h0m4 0h0m12 0h0m-97 1h0m2 0h0m6 0h0m10 0h0m24 0h0m10 0h0m2 0h0m2 0h0m2 0h0m2 0h0m6 0h0m6 0h0m6 0h0m4 0h0m4 0h0m2 0h0m2 0h0m2 0h0m2 0h0m2 0h0m-91 1h0m2 0h0m14 0h0m22 0h0m14 0h0m2 0h0m32 0h0m-91 1h0m2 0h0m42 0h0m8 0h0m2 0h0m2 0h0m6 0h0m18 0h0m-81 1h0m2 0h0m12 0h0m22 0h0m14 0h0m4 0h0m2 0h0m2 0h0m2 0h0m14 0h0m12 0h0m4 0h0m2 0h0m2 0h0m-85 1h0m76 0h0m4 0h0m-95 1h0m2 0h0m2 0h0m2 0h0m2 0h0m38 0h0m10 0h0m2 0h0m2 0h0m8 0h0m2 0h0m6 0h0m16 0h0m2 0h0m-95 1h0m4 0h0m2 0h0m22 0h0m10 0h0m10 0h0m12 0h0m2 0h0m2 0h0m2 0h0m6 0h0m4 0h0m16 0h0m-89 1h0m2 0h0m2 0h0m24 0h0m6 0h0m26 0h0m2 0h0m2 0h0m2 0h0m24 0h0m2 0h0m2 0h0m-101 1h0m2 0h0m8 0h0m68 0h0m12 0h0m4 0h0m2 0h0m-95 1h0m8 0h0m28 0h0m4 0h0m2 0h0m20 0h0m2 0h0m10 0h0m14 0h0m8 0h0m-97 1h0m2 0h0m2 0h0m6 0h0m2 0h0m28 0h0m24 0h0m4 0h0m2 0h0m2 0h0m6 0h0m-67 1h0m2 0h0m2 0h0m12 0h0m8 0h0m2 0h0m22 0h0m2 0h0m2 0h0m6 0h0m8 0h0m4 0h0m6 0h0m2 0h0m2 0h0m2 0h0m-91 1h0m8 0h0m2 0h0m2 0h0m2 0h0m4 0h0m14 0h0m22 0h0m2 0h0m2 0h0m2 0h0m8 0h0m14 0h0m-81 1h0m2 0h0m4 0h0m2 0h0m4 0h0m4 0h0m2 0h0m4 0h0m4 0h0m6 0h0m14 0h0m4 0h0m2 0h0m4 0h0m2 0h0m6 0h0m6 0h0m6 0h0m2 0h0m2 0h0m2 0h0m-85 1h0m4 0h0m6 0h0m4 0h0m2 0h0m2 0h0m4 0h0m4 0h0m4 0h0m4 0h0m2 0h0m14 0h0m4 0h0m2 0h0m4 0h0m2 0h0m2 0h0m2 0h0m4 0h0m2 0h0m2 0h0m2 0h0m2 0h0m2 0h0m4 0h0m-79 1h0m2 0h0m2 0h0m2 0h0m4 0h0m2 0h0m2 0h0m4 0h0m2 0h0m2 0h0m2 0h0m2 0h0m2 0h0m4 0h0m14 0h0m2 0h0m2 0h0m2 0h0m2 0h0m2 0h0m2 0h0m2 0h0m2 0h0m2 0h0m2 0h0m4 0h0m2 0h0m2 0h0m4 0h0m2 0h0m-71 1h0m8 0h0m4 0h0m2 0h0m2 0h0m2 0h0m2 0h0m2 0h0m4 0h0m6 0h0m4 0h0m2 0h0m2 0h0m2 0h0m4 0h0m2 0h0m2 0h0m2 0h0m2 0h0m4 0h0m2 0h0m2 0h0m2 0h0m2 0h0" stroke="#b6a244" stroke-width="2.06" stroke-linecap="round" vector-effect="non-scaling-stroke" fill="none"/></g></g>
<g filter="url(#sb)"><g transform="translate(24.00,613.00) scale(1.1500,1.9900)"><path d="M84 2h0m4 2h0m4 0h0m-32 2h0m23 1h0m-15 1h0m22 0h0m4 0h0m14 0h0m18 0h0m-13 1h0m4 0h0m10 0h0m-59 1h0m20 0h0m24 0h0m14 0h0m-15 1h0m-45 1h0m68 0h0m-23 1h0m18 0h0m-61 1h0m2 0h0m54 0h0m-55 1h0m56 0h0m-61 1h0m50 0h0m4 0h0m2 0h0m16 0h0m-85 1h0m26 0h0m6 0h0m2 0h0m30 0h0m22 0h0m-119 1h0m26 0h0m4 0h0m22 0h0m26 0h0m18 0h0m-73 1h0m4 0h0m2 0h0m36 0h0m38 0h0m-115 1h0m10 0h0m4 0h0m18 0h0m4 0h0m20 0h0m10 0h0m-45 1h0m2 0h0m10 0h0m6 0h0m4 0h0m12 0h0m50 0h0m24 0h0m-129 1h0m2 0h0m16 0h0m10 0h0m2 0h0m2 0h0m2 0h0m2 0h0m30 0h0m10 0h0m32 0h0m-109 1h0m6 0h0m14 0h0m2 0h0m14 0h0m2 0h0m4 0h0m12 0h0m48 0h0m2 0h0m-89 1h0m10 0h0m8 0h0m2 0h0m4 0h0m2 0h0m2 0h0m8 0h0m6 0h0m16 0h0m28 0h0m2 0h0m30 0h0m-127 1h0m10 0h0m8 0h0m12 0h0m4 0h0m2 0h0m4 0h0m2 0h0m10 0h0m6 0h0m6 0h0m38 0h0m-87 1h0m16 0h0m4 0h0m2 0h0m4 0h0m2 0h0m20 0h0m8 0h0m10 0h0m26 0h0m-109 1h0m26 0h0m2 0h0m2 0h0m2 0h0m4 0h0m8 0h0m4 0h0m6 0h0m10 0h0m2 0h0m6 0h0m20 0h0m10 0h0m24 0h0m-123 1h0m2 0h0m14 0h0m2 0h0m2 0h0m2 0h0m8 0h0m2 0h0m2 0h0m10 0h0m10 0h0m4 0h0m6 0h0m14 0h0m4 0h0m-67 1h0m4 0h0m2 0h0m6 0h0m2 0h0m2 0h0m4 0h0m2 0h0m6 0h0m12 0h0m2 0h0m50 0h0m-95 1h0m4 0h0m14 0h0m6 0h0m4 0h0m26 0h0m32 0h0m24 0h0m-87 1h0m2 0h0m2 0h0m26 0h0m-63 1h0m14 0h0m2 0h0m16 0h0m4 0h0m10 0h0m4 0h0m6 0h0m8 0h0m2 0h0m6 0h0m44 0h0m-115 1h0m8 0h0m20 0h0m2 0h0m2 0h0m2 0h0m2 0h0m2 0h0m12 0h0m8 0h0m2 0h0m2 0h0m-63 1h0m2 0h0m8 0h0m12 0h0m4 0h0m2 0h0m4 0h0m6 0h0m2 0h0m2 0h0m2 0h0m20 0h0m38 0h0m2 0h0m16 0h0m-125 1h0m4 0h0m14 0h0m4 0h0m2 0h0m4 0h0m2 0h0m2 0h0m4 0h0m2 0h0m2 0h0m2 0h0m4 0h0m8 0h0m14 0h0m2 0h0m-71 1h0m6 0h0m6 0h0m6 0h0m4 0h0m2 0h0m2 0h0m2 0h0m6 0h0m2 0h0m4 0h0m2 0h0m2 0h0m6 0h0m10 0h0m14 0h0m4 0h0m26 0h0m-95 1h0m4 0h0m4 0h0m4 0h0m2 0h0m2 0h0m2 0h0m2 0h0m4 0h0m2 0h0m2 0h0m2 0h0m2 0h0m2 0h0m2 0h0m6 0h0m8 0h0m6 0h0m2 0h0m2 0h0m6 0h0m2 0h0m24 0h0m32 0h0m-119 1h0m6 0h0m2 0h0m2 0h0m2 0h0m2 0h0m2 0h0m2 0h0m2 0h0m2 0h0m22 0h0m2 0h0m12 0h0m14 0h0m2 0h0m32 0h0m4 0h0m-125 1h0m12 0h0m4 0h0m2 0h0m6 0h0m2 0h0m4 0h0m2 0h0m2 0h0m2 0h0m2 0h0m2 0h0m2 0h0m2 0h0m6 0h0m10 0h0m6 0h0m2 0h0m8 0h0m10 0h0m6 0h0m-89 1h0m2 0h0m6 0h0m4 0h0m2 0h0m4 0h0m6 0h0m2 0h0m4 0h0m2 0h0m2 0h0m6 0h0m14 0h0m2 0h0m46 0h0m-101 1h0m14 0h0m2 0h0m2 0h0m2 0h0m2 0h0m2 0h0m4 0h0m2 0h0m2 0h0m18 0h0m10 0h0m4 0h0m-63 1h0m4 0h0m2 0h0m4 0h0m4 0h0m2 0h0m4 0h0m2 0h0m2 0h0m4 0h0m4 0h0m2 0h0m18 0h0m24 0h0m12 0h0m2 0h0m-95 1h0m6 0h0m2 0h0m2 0h0m6 0h0m2 0h0m2 0h0m2 0h0m2 0h0m4 0h0m2 0h0m6 0h0m6 0h0m2 0h0m58 0h0m-101 1h0m18 0h0m2 0h0m2 0h0m2 0h0m2 0h0m4 0h0m2 0h0m2 0h0m4 0h0m10 0h0m20 0h0m8 0h0m4 0h0m44 0h0m2 0h0m-119 1h0m4 0h0m4 0h0m2 0h0m2 0h0m2 0h0m4 0h0m6 0h0m2 0h0m6 0h0m4 0h0m2 0h0m2 0h0m2 0h0m6 0h0m36 0h0m-83 1h0m4 0h0m2 0h0m4 0h0m2 0h0m2 0h0m2 0h0m4 0h0m4 0h0m2 0h0m4 0h0m2 0h0m2 0h0m6 0h0m52 0h0m2 0h0m-85 1h0m2 0h0m2 0h0m2 0h0m8 0h0m2 0h0m2 0h0m6 0h0m2 0h0m14 0h0m10 0h0m-61 1h0m6 0h0m2 0h0m6 0h0m2 0h0m4 0h0m2 0h0m2 0h0m2 0h0m2 0h0m2 0h0m2 0h0m2 0h0m2 0h0m18 0h0m34 0h0m2 0h0m4 0h0m-93 1h0m2 0h0m2 0h0m2 0h0m2 0h0m2 0h0m2 0h0m4 0h0m2 0h0m4 0h0m4 0h0m2 0h0m2 0h0m2 0h0m10 0h0m4 0h0m4 0h0m6 0h0m6 0h0m44 0h0m10 0h0m4 0h0m-121 1h0m2 0h0m6 0h0m4 0h0m2 0h0m2 0h0m2 0h0m2 0h0m2 0h0m4 0h0m4 0h0m2 0h0m6 0h0m12 0h0m4 0h0m2 0h0m4 0h0m20 0h0m28 0h0m-107 1h0m6 0h0m4 0h0m6 0h0m2 0h0m2 0h0m2 0h0m2 0h0m2 0h0m2 0h0m2 0h0m2 0h0m2 0h0m6 0h0m12 0h0m14 0h0m4 0h0m16 0h0m-87 1h0m12 0h0m4 0h0m2 0h0m2 0h0m2 0h0m2 0h0m2 0h0m2 0h0m2 0h0m2 0h0m2 0h0m2 0h0m2 0h0m2 0h0m2 0h0m4 0h0m54 0h0m-99 1h0m10 0h0m4 0h0m2 0h0m2 0h0m4 0h0m4 0h0m6 0h0m2 0h0m4 0h0m-29 1h0m2 0h0m2 0h0m2 0h0m2 0h0m2 0h0m2 0h0m4 0h0m2 0h0m4 0h0m4 0h0m2 0h0m2 0h0m10 0h0m2 0h0m6 0h0m8 0h0m-55 1h0m2 0h0m4 0h0m2 0h0m2 0h0m2 0h0m2 0h0m2 0h0m2 0h0m2 0h0m2 0h0m2 0h0m2 0h0m2 0h0m6 0h0m2 0h0m4 0h0m4 0h0m22 0h0m30 0h0m-107 1h0m10 0h0m4 0h0m4 0h0m2 0h0m2 0h0m2 0h0m2 0h0m2 0h0m2 0h0m4 0h0m2 0h0m10 0h0m10 0h0m2 0h0m6 0h0m8 0h0m28 0h0m10 0h0m-107 1h0m6 0h0m6 0h0m4 0h0m4 0h0m2 0h0m2 0h0m2 0h0m2 0h0m4 0h0m4 0h0m2 0h0m20 0h0m4 0h0m2 0h0m2 0h0m30 0h0m-89 1h0m10 0h0m4 0h0m2 0h0m2 0h0m2 0h0m2 0h0m2 0h0m2 0h0m2 0h0m24 0h0m4 0h0m2 0h0m8 0h0m20 0h0m4 0h0m14 0h0m-101 1h0m2 0h0m2 0h0m2 0h0m2 0h0m2 0h0m4 0h0m2 0h0m2 0h0m2 0h0m2 0h0m2 0h0m2 0h0m20 0h0m12 0h0m-73 1h0m4 0h0m2 0h0m10 0h0m2 0h0m4 0h0m2 0h0m2 0h0m4 0h0m2 0h0m4 0h0m6 0h0m4 0h0m4 0h0m12 0h0m8 0h0m6 0h0m10 0h0m2 0h0m2 0h0m-87 1h0m4 0h0m12 0h0m4 0h0m2 0h0m2 0h0m2 0h0m2 0h0m2 0h0m2 0h0m2 0h0m2 0h0m2 0h0m2 0h0m2 0h0m2 0h0m-45 1h0m2 0h0m12 0h0m2 0h0m8 0h0m2 0h0m2 0h0m2 0h0m2 0h0m4 0h0m2 0h0m2 0h0m4 0h0m2 0h0m2 0h0m12 0h0m8 0h0m10 0h0m-75 1h0m8 0h0m4 0h0m10 0h0m2 0h0m2 0h0m2 0h0m2 0h0m2 0h0m2 0h0m2 0h0m2 0h0m4 0h0m2 0h0m2 0h0m2 0h0m20 0h0m2 0h0m2 0h0m30 0h0m-89 1h0m2 0h0m2 0h0m6 0h0m2 0h0m4 0h0m2 0h0m2 0h0m2 0h0m2 0h0m2 0h0m2 0h0m6 0h0m20 0h0m4 0h0m2 0h0m10 0h0m4 0h0m-75 1h0m2 0h0m2 0h0m2 0h0m4 0h0m4 0h0m2 0h0m2 0h0m4 0h0m2 0h0m2 0h0m6 0h0m10 0h0m4 0h0m6 0h0m4 0h0m4 0h0m4 0h0m2 0h0m14 0h0m-91 1h0m6 0h0m2 0h0m6 0h0m2 0h0m2 0h0m2 0h0m2 0h0m2 0h0m2 0h0m4 0h0m4 0h0m2 0h0m2 0h0m2 0h0m2 0h0m2 0h0m4 0h0m2 0h0m2 0h0m10 0h0m12 0h0m2 0h0m2 0h0m6 0h0m4 0h0m2 0h0m-85 1h0m2 0h0m4 0h0m2 0h0m4 0h0m2 0h0m4 0h0m8 0h0m4 0h0m4 0h0m2 0h0m4 0h0m2 0h0m6 0h0m12 0h0m4 0h0m4 0h0m4 0h0m4 0h0m2 0h0m2 0h0m4 0h0m-91 1h0m2 0h0m2 0h0m2 0h0m4 0h0m4 0h0m2 0h0m6 0h0m2 0h0m2 0h0m2 0h0m2 0h0m2 0h0m4 0h0m2 0h0m4 0h0m2 0h0m2 0h0m2 0h0m2 0h0m2 0h0m4 0h0m12 0h0m4 0h0m4 0h0m2 0h0m4 0h0m4 0h0m-79 1h0m4 0h0m2 0h0m2 0h0m2 0h0m2 0h0m4 0h0m2 0h0m2 0h0m2 0h0m2 0h0m4 0h0m2 0h0m2 0h0m2 0h0m18 0h0m2 0h0m8 0h0m2 0h0m6 0h0m2 0h0m4 0h0m10 0h0m-95 1h0m6 0h0m18 0h0m10 0h0m4 0h0m4 0h0m2 0h0m12 0h0m24 0h0m4 0h0m2 0h0m8 0h0m-95 1h0m26 0h0m2 0h0m6 0h0m4 0h0m8 0h0m4 0h0m26 0h0m4 0h0m2 0h0m2 0h0m-83 1h0m2 0h0m32 0h0m2 0h0m2 0h0m30 0h0m12 0h0m2 0h0m4 0h0m-89 1h0m2 0h0m2 0h0m26 0h0m2 0h0m4 0h0m6 0h0m16 0h0m16 0h0m10 0h0m4 0h0m2 0h0m-87 1h0m26 0h0m6 0h0m4 0h0m2 0h0m12 0h0m6 0h0m4 0h0m10 0h0m6 0h0m4 0h0m2 0h0m-85 1h0m4 0h0m2 0h0m30 0h0m2 0h0m14 0h0m2 0h0m26 0h0m2 0h0m-81 1h0m2 0h0m2 0h0m10 0h0m6 0h0m4 0h0m2 0h0m2 0h0m4 0h0m2 0h0m2 0h0m2 0h0m2 0h0m6 0h0m4 0h0m10 0h0m2 0h0m16 0h0m8 0h0m-83 1h0m10 0h0m20 0h0m2 0h0m2 0h0m2 0h0m2 0h0m6 0h0m6 0h0m8 0h0m4 0h0m8 0h0m10 0h0m-85 1h0m4 0h0m2 0h0m16 0h0m4 0h0m4 0h0m6 0h0m2 0h0m2 0h0m2 0h0m14 0h0m-55 1h0m32 0h0m4 0h0m2 0h0m6 0h0m-31 1h0m8 0h0m18 0h0" stroke="#6a84c8" stroke-width="2.06" stroke-linecap="round" vector-effect="non-scaling-stroke" fill="none"/></g></g>
<g filter="url(#sb)"><g transform="translate(24.00,613.00) scale(1.1500,1.9900)"><path d="M78 2h0m5 1h0m2 0h0m-20 2h0m-3 1h0m10 0h0m20 0h0m-31 1h0m10 0h0m54 0h0m-63 1h0m40 0h0m8 0h0m2 0h0m4 0h0m-47 1h0m16 0h0m20 0h0m2 0h0m2 0h0m2 0h0m14 0h0m4 0h0m-57 1h0m30 0h0m26 0h0m-71 1h0m2 0h0m12 0h0m2 0h0m24 0h0m30 0h0m-65 1h0m30 0h0m4 0h0m8 0h0m14 0h0m2 0h0m6 0h0m4 0h0m2 0h0m-73 1h0m8 0h0m4 0h0m2 0h0m16 0h0m4 0h0m14 0h0m20 0h0m6 0h0m-51 1h0m12 0h0m4 0h0m16 0h0m16 0h0m-65 1h0m32 0h0m6 0h0m2 0h0m26 0h0m4 0h0m-63 1h0m2 0h0m4 0h0m22 0h0m30 0h0m-81 1h0m4 0h0m56 0h0m8 0h0m2 0h0m10 0h0m-113 1h0m52 0h0m4 0h0m2 0h0m38 0h0m12 0h0m-115 1h0m66 0h0m6 0h0m38 0h0m14 0h0m2 0h0m-127 1h0m40 0h0m20 0h0m6 0h0m2 0h0m8 0h0m10 0h0m8 0h0m8 0h0m2 0h0m18 0h0m4 0h0m-113 1h0m2 0h0m18 0h0m16 0h0m12 0h0m2 0h0m2 0h0m2 0h0m2 0h0m8 0h0m2 0h0m6 0h0m8 0h0m-79 1h0m24 0h0m2 0h0m20 0h0m2 0h0m6 0h0m10 0h0m18 0h0m24 0h0m-109 1h0m12 0h0m34 0h0m4 0h0m2 0h0m10 0h0m20 0h0m12 0h0m8 0h0m2 0h0m6 0h0m-101 1h0m36 0h0m2 0h0m2 0h0m4 0h0m4 0h0m4 0h0m4 0h0m-19 1h0m8 0h0m4 0h0m4 0h0m24 0h0m2 0h0m10 0h0m2 0h0m4 0h0m8 0h0m-87 1h0m16 0h0m4 0h0m16 0h0m30 0h0m4 0h0m8 0h0m10 0h0m-125 1h0m20 0h0m16 0h0m8 0h0m14 0h0m2 0h0m4 0h0m12 0h0m10 0h0m20 0h0m4 0h0m2 0h0m6 0h0m-75 1h0m10 0h0m12 0h0m2 0h0m4 0h0m14 0h0m18 0h0m8 0h0m6 0h0m16 0h0m-121 1h0m26 0h0m6 0h0m20 0h0m2 0h0m2 0h0m14 0h0m14 0h0m14 0h0m14 0h0m4 0h0m2 0h0m-87 1h0m36 0h0m2 0h0m4 0h0m44 0h0m2 0h0m2 0h0m-95 1h0m28 0h0m2 0h0m54 0h0m8 0h0m4 0h0m-73 1h0m22 0h0m24 0h0m2 0h0m22 0h0m-129 1h0m106 0h0m14 0h0m6 0h0m-113 1h0m16 0h0m36 0h0m2 0h0m44 0h0m-59 1h0m4 0h0m8 0h0m2 0h0m24 0h0m18 0h0m10 0h0m2 0h0m4 0h0m2 0h0m-97 1h0m2 0h0m32 0h0m12 0h0m46 0h0m2 0h0m10 0h0m-79 1h0m18 0h0m8 0h0m8 0h0m2 0h0m4 0h0m22 0h0m6 0h0m2 0h0m2 0h0m-87 1h0m24 0h0m6 0h0m4 0h0m20 0h0m10 0h0m2 0h0m10 0h0m16 0h0m2 0h0m-115 1h0m8 0h0m28 0h0m2 0h0m12 0h0m4 0h0m48 0h0m6 0h0m6 0h0m-79 1h0m6 0h0m8 0h0m2 0h0m20 0h0m4 0h0m12 0h0m-91 1h0m14 0h0m8 0h0m2 0h0m10 0h0m6 0h0m6 0h0m4 0h0m14 0h0m16 0h0m2 0h0m6 0h0m-87 1h0m6 0h0m12 0h0m6 0h0m12 0h0m16 0h0m56 0h0m-49 1h0m16 0h0m38 0h0m-93 1h0m16 0h0m76 0h0m-87 1h0m20 0h0m2 0h0m60 0h0m2 0h0m-99 1h0m44 0h0m50 0h0m2 0h0m2 0h0m2 0h0m2 0h0m-99 1h0m24 0h0m18 0h0m16 0h0m2 0h0m2 0h0m26 0h0m12 0h0m-111 1h0m6 0h0m24 0h0m18 0h0m18 0h0m36 0h0m8 0h0m-83 1h0m20 0h0m20 0h0m6 0h0m6 0h0m6 0h0m4 0h0m12 0h0m-79 1h0m6 0h0m24 0h0m12 0h0m12 0h0m30 0h0m-105 1h0m34 0h0m10 0h0m26 0h0m10 0h0m4 0h0m2 0h0m16 0h0m-107 1h0m48 0h0m2 0h0m2 0h0m26 0h0m12 0h0m8 0h0m2 0h0m-57 1h0m4 0h0m6 0h0m6 0h0m22 0h0m4 0h0m4 0h0m2 0h0m2 0h0m6 0h0m12 0h0m-123 1h0m34 0h0m24 0h0m2 0h0m4 0h0m2 0h0m18 0h0m8 0h0m2 0h0m6 0h0m4 0h0m8 0h0m-105 1h0m12 0h0m26 0h0m2 0h0m20 0h0m16 0h0m8 0h0m12 0h0m2 0h0m16 0h0m-121 1h0m42 0h0m24 0h0m12 0h0m20 0h0m-61 1h0m10 0h0m6 0h0m10 0h0m32 0h0m-31 1h0m22 0h0m6 0h0m16 0h0m-63 1h0m22 0h0m2 0h0m2 0h0m12 0h0m2 0h0m10 0h0m8 0h0m4 0h0m-65 1h0m28 0h0m6 0h0m-73 1h0m4 0h0m16 0h0m32 0h0m6 0h0m6 0h0m2 0h0m24 0h0m2 0h0m2 0h0m12 0h0m2 0h0m-57 1h0m8 0h0m40 0h0m2 0h0m-83 1h0m6 0h0m62 0h0m8 0h0m2 0h0m2 0h0m2 0h0m2 0h0m-91 1h0m2 0h0m34 0h0m6 0h0m4 0h0m-47 1h0m46 0h0m4 0h0m10 0h0m4 0h0m16 0h0m2 0h0m2 0h0m6 0h0m2 0h0m-29 1h0m4 0h0m14 0h0m6 0h0m4 0h0m-87 1h0m18 0h0m22 0h0m14 0h0m8 0h0m-55 1h0m36 0h0m4 0h0m16 0h0m10 0h0m6 0h0m4 0h0m2 0h0m-75 1h0m26 0h0m4 0h0m24 0h0m10 0h0m2 0h0m8 0h0m-75 1h0m44 0h0m2 0h0m4 0h0m4 0h0m6 0h0m10 0h0m4 0h0m-65 1h0m40 0h0m2 0h0m12 0h0m2 0h0m-45 1h0m4 0h0m2 0h0m14 0h0m8 0h0m8 0h0m-37 1h0m2 0h0m20 0h0m2 0h0m2 0h0m6 0h0m6 0h0m-55 1h0m4 0h0m14 0h0m26 0h0m-45 1h0m4 0h0m12 0h0m2 0h0m4 0h0m2 0h0m18 0h0m2 0h0m2 0h0m-53 1h0m46 0h0m6 0h0m2 0h0m2 0h0m2 0h0m6 0h0m2 0h0m-61 1h0m48 0h0m14 0h0m-69 1h0m28 0h0m40 0h0m-67 1h0m22 0h0m30 0h0m-55 1h0m2 0h0m28 0h0m10 0h0m12 0h0" stroke="#b272c0" stroke-width="2.06" stroke-linecap="round" vector-effect="non-scaling-stroke" fill="none"/></g></g>
<g filter="url(#sb)"><g transform="translate(24.00,613.00) scale(1.1500,1.9900)"><path d="M91 3h0m-7 1h0m-7 1h0m4 0h0m4 0h0m2 0h0m6 0h0m4 0h0m-27 1h0m12 0h0m-23 1h0m6 0h0m38 0h0m-43 1h0m10 0h0m4 0h0m2 0h0m10 0h0m3 1h0m12 0h0m22 0h0m8 0h0m-27 1h0m20 0h0m-47 1h0m22 0h0m8 0h0m-9 1h0m4 0h0m10 0h0m10 0h0m-23 1h0m10 0h0m4 0h0m4 0h0m-57 1h0m4 0h0m38 0h0m2 0h0m12 0h0m10 0h0m-31 1h0m4 0h0m8 0h0m6 0h0m6 0h0m-53 1h0m38 0h0m6 0h0m-63 1h0m18 0h0m4 0h0m2 0h0m2 0h0m2 0h0m4 0h0m2 0h0m50 0h0m-67 1h0m14 0h0m52 0h0m6 0h0m-71 1h0m6 0h0m2 0h0m24 0h0m2 0h0m-95 1h0m36 0h0m58 0h0m-93 1h0m2 0h0m60 0h0m12 0h0m4 0h0m20 0h0m-41 1h0m2 0h0m36 0h0m18 0h0m2 0h0m2 0h0m-115 1h0m50 0h0m20 0h0m28 0h0m-31 1h0m22 0h0m16 0h0m12 0h0m10 0h0m-119 1h0m70 0h0m30 0h0m-49 1h0m12 0h0m20 0h0m10 0h0m-91 1h0m60 0h0m28 0h0m26 0h0m-77 1h0m28 0h0m22 0h0m-25 1h0m34 0h0m8 0h0m-65 1h0m14 0h0m2 0h0m2 0h0m6 0h0m-21 1h0m6 0h0m2 0h0m2 0h0m2 0h0m8 0h0m2 0h0m6 0h0m12 0h0m32 0h0m-65 1h0m6 0h0m2 0h0m58 0h0m2 0h0m-73 1h0m6 0h0m2 0h0m2 0h0m8 0h0m-17 1h0m2 0h0m2 0h0m6 0h0m8 0h0m24 0h0m38 0h0m-73 1h0m2 0h0m42 0h0m8 0h0m10 0h0m8 0h0m-69 1h0m4 0h0m46 0h0m8 0h0m-57 1h0m8 0h0m26 0h0m18 0h0m4 0h0m10 0h0m-73 1h0m34 0h0m8 0h0m10 0h0m-27 1h0m50 0h0m-107 1h0m42 0h0m12 0h0m4 0h0m-11 1h0m2 0h0m2 0h0m-15 1h0m4 0h0m12 0h0m-75 1h0m64 0h0m-51 1h0m14 0h0m50 0h0m14 0h0m40 0h0m-105 1h0m62 0h0m12 0h0m20 0h0m-105 1h0m52 0h0m6 0h0m8 0h0m8 0h0m28 0h0m12 0h0m-123 1h0m6 0h0m70 0h0m38 0h0m2 0h0m4 0h0m-65 1h0m56 0h0m-45 1h0m32 0h0m-17 1h0m-67 1h0m60 0h0m10 0h0m-15 1h0m18 0h0m-93 1h0m4 0h0m14 0h0m36 0h0m10 0h0m4 0h0m2 0h0m4 0h0m18 0h0m-81 1h0m58 0h0m-3 1h0m4 0h0m24 0h0m2 0h0m2 0h0m16 0h0m6 0h0m-111 1h0m62 0h0m10 0h0m14 0h0m26 0h0m-59 1h0m36 0h0m-51 1h0m30 0h0m8 0h0m12 0h0m10 0h0m-41 1h0m29 1h0m2 0h0m-79 1h0m7 1h0m84 0h0m2 0h0m-17 1h0m-35 1h0m50 0h0m-90 2h0m50 0h0m-54 2h0m47 3h0m-59 1h0m68 4h0m-39 1h0m35 1h0m-67 1h0m37 1h0" stroke="#44b2b4" stroke-width="2.06" stroke-linecap="round" vector-effect="non-scaling-stroke" fill="none"/></g></g>
<g filter="url(#sb)"><g transform="translate(24.00,613.00) scale(1.1500,1.9900)"><path d="M66 14h0m2 2h0m28 4h0m29 1h0m-51 1h0m62 0h0m-61 1h0m25 3h0m38 2h0m-61 1h0m4 0h0m-5 1h0m6 0h0m-14 4h0m-47 1h0m36 0h0m2 0h0m-13 1h0m14 0h0m2 0h0m16 0h0m-23 1h0m2 0h0m4 0h0m-11 1h0m2 0h0m4 0h0m2 0h0m2 0h0m-7 1h0m2 0h0m4 0h0m-33 1h0m26 0h0m2 0h0m2 0h0m2 0h0m2 0h0m-9 1h0m2 0h0m2 0h0m4 0h0m6 0h0m-27 1h0m12 0h0m2 0h0m2 0h0m2 0h0m2 0h0m4 0h0m4 0h0m14 0h0m-47 1h0m12 0h0m8 0h0m2 0h0m2 0h0m2 0h0m2 0h0m2 0h0m6 0h0m2 0h0m-23 1h0m4 0h0m2 0h0m4 0h0m4 0h0m2 0h0m2 0h0m2 0h0m4 0h0m6 0h0m12 0h0m-31 1h0m2 0h0m4 0h0m2 0h0m-15 1h0m2 0h0m4 0h0m2 0h0m2 0h0m2 0h0m2 0h0m2 0h0m4 0h0m-25 1h0m6 0h0m2 0h0m2 0h0m2 0h0m4 0h0m4 0h0m2 0h0m2 0h0m2 0h0m4 0h0m62 0h0m-87 1h0m2 0h0m4 0h0m2 0h0m2 0h0m2 0h0m8 0h0m4 0h0m2 0h0m2 0h0m-31 1h0m2 0h0m4 0h0m4 0h0m4 0h0m4 0h0m8 0h0m4 0h0m-37 1h0m8 0h0m6 0h0m2 0h0m2 0h0m2 0h0m4 0h0m6 0h0m4 0h0m4 0h0m2 0h0m36 0h0m-67 1h0m2 0h0m4 0h0m2 0h0m4 0h0m10 0h0m2 0h0m2 0h0m2 0h0m-17 1h0m6 0h0m8 0h0m2 0h0m2 0h0m2 0h0m-31 1h0m4 0h0m2 0h0m2 0h0m2 0h0m10 0h0m-15 1h0m2 0h0m2 0h0m2 0h0m22 0h0m-11 1h0m8 0h0m38 0h0m-63 1h0m18 0h0m-7 1h0m30 0h0m-65 1h0m40 0h0m35 1h0m-31 1h0m2 0h0m38 0h0m-43 1h0m8 0h0m-62 4h0m2 0h0m28 0h0m8 0h0m-7 1h0m26 2h0m-22 2h0m8 0h0m-51 1h0m44 0h0m2 0h0m-11 1h0m8 0h0m4 0h0m14 0h0m-13 1h0m2 0h0m2 0h0m-9 1h0m4 0h0m2 0h0m2 0h0m-11 1h0m6 0h0m16 0h0m-18 2h0m-3 3h0" stroke="#d6606e" stroke-width="2.06" stroke-linecap="round" vector-effect="non-scaling-stroke" fill="none"/></g></g>
<g filter="url(#sb)"><g transform="translate(24.00,613.00) scale(1.1500,1.9900)"><path d="M89 3h0m-28 2h0m2 0h0m14 2h0m-6 2h0m-1 1h0m-6 2h0m-3 1h0m2 0h0m54 2h0m-15 1h0m-39 1h0m60 0h0m-77 1h0m4 0h0m68 0h0m2 0h0m-113 1h0m54 0h0m2 0h0m32 0h0m-73 1h0m-3 1h0m76 0h0m18 0h0m-103 1h0m44 0h0m52 0h0m-91 1h0m40 0h0m-43 1h0m30 0h0m44 0h0m34 0h0m16 0h0m-99 1h0m2 0h0m64 0h0m-65 1h0m2 0h0m16 0h0m68 0h0m-63 1h0m34 0h0m17 1h0m-87 1h0m65 1h0m-78 2h0m-1 1h0m14 0h0m38 0h0m62 0h0m-107 1h0m30 0h0m-31 1h0m18 0h0m8 0h0m62 0h0m-66 2h0m-27 1h0m17 1h0m66 0h0m-49 1h0m2 0h0m-29 1h0m30 0h0m47 1h0m-85 1h0m8 0h0m20 0h0m8 0h0m-31 1h0m8 0h0m-7 1h0m14 0h0m6 0h0m6 0h0m2 0h0m94 0h0m-101 1h0m-5 1h0m2 0h0m10 0h0m41 1h0m-68 2h0m20 0h0m76 0h0m-102 2h0m-1 1h0m24 0h0m4 0h0m4 0h0m-5 1h0m-26 2h0m34 0h0m64 0h0m1 1h0m10 0h0m-17 1h0m-65 1h0m18 0h0m-11 1h0m4 0h0m22 0h0m-9 1h0m28 0h0m2 0h0m-61 1h0m16 0h0m36 0h0m4 0h0m2 0h0m4 0h0m2 0h0m4 0h0m4 0h0m-77 1h0m56 0h0m12 0h0m2 0h0m-61 1h0m8 0h0m38 0h0m12 0h0m2 0h0m-59 1h0m22 0h0m6 0h0m2 0h0m24 0h0m6 0h0m2 0h0m2 0h0m-71 1h0m16 0h0m38 0h0m4 0h0m10 0h0m14 0h0m-95 1h0m22 0h0m4 0h0m4 0h0m4 0h0m10 0h0m24 0h0m12 0h0m-61 1h0m14 0h0m6 0h0m22 0h0m2 0h0m2 0h0m4 0h0m10 0h0m-71 1h0m24 0h0m12 0h0m4 0h0m14 0h0m18 0h0m-55 1h0m2 0h0m2 0h0m46 0h0m10 0h0m-49 1h0m8 0h0m12 0h0m10 0h0m8 0h0m12 0h0m-83 1h0m22 0h0m2 0h0m30 0h0m4 0h0m2 0h0m8 0h0m2 0h0m16 0h0m-87 1h0m56 0h0m14 0h0m2 0h0m12 0h0m-87 1h0m28 0h0m24 0h0m20 0h0m4 0h0m6 0h0m2 0h0m2 0h0m-93 1h0m4 0h0m26 0h0m36 0h0m12 0h0m-53 1h0m20 0h0m2 0h0m4 0h0m-51 1h0m12 0h0m10 0h0m8 0h0m32 0h0m8 0h0m-59 1h0m34 0h0m6 0h0m30 0h0m4 0h0m-73 1h0m32 0h0m4 0h0m32 0h0" stroke="#52b452" stroke-width="2.06" stroke-linecap="round" vector-effect="non-scaling-stroke" fill="none"/></g></g>
<path d="M24.5,644.0 L27.0,646.0 L31.5,652.0 L32.0,690.0 L31.5,703.0 L33.5,733.0 L28.0,736.0 L25.5,738.0 L24.8,700.0 Z" fill="#8878c0"/>
<path d="M24.5,644.0 L27.0,646.0 L31.5,652.0 L32.0,690.0 L31.5,703.0 L33.5,733.0 L28.0,736.0 L25.5,738.0 L24.8,700.0 Z" fill="#3e2e90" filter="url(#hne)"/>
<path d="M30.0,768.5 L60.0,770.5 L100.0,771.5 L120.0,772.5 L121.0,778.6 L28.0,778.6 Z" fill="#7060b4"/>
<path d="M30.0,768.5 L60.0,770.5 L100.0,771.5 L120.0,772.5 L121.0,778.6 L28.0,778.6 Z" fill="#3a2a8c" filter="url(#hne)"/>
<path d="M47.6,659.0 L51.0,657.6 L54.2,660.0 L53.5,666.8 L49.0,666.0 Z" fill="#f1f1f4"/>
<path d="M58.1,672.0 L64.0,670.7 L72.6,673.0 L71.0,679.9 L62.0,679.0 Z" fill="#f1f1f4"/>
<path d="M29.2,705.0 L35.0,703.0 L39.7,708.0 L37.0,716.3 L30.0,714.0 Z" fill="#f1f1f4"/>
<path d="M41.0,717.0 L46.0,715.0 L48.9,718.0 L45.0,721.5 Z" fill="#f1f1f4"/>
<path d="M56.8,727.5 L60.7,726.8 L59.5,730.7 Z" fill="#f1f1f4"/>
<path d="M151.0,703.0 L156.0,699.5 L163.0,699.0 L171.5,699.5 L168.0,706.0 L160.0,709.0 L153.0,708.0 Z" fill="#f1f1f4"/>
<path d="M117.6,675.0 L121.0,673.5 L123.0,678.0 L119.5,680.5 Z" fill="#f1f1f4"/>
<path d="M47.0,752.0 L56.0,750.4 L66.0,753.0 L72.6,757.0 L65.0,762.0 L55.0,763.6 L48.0,760.0 Z" fill="#f1f1f4"/>
<path d="M97.5,752.0 L103.0,750.0 L106.0,755.0 L101.0,761.0 L97.0,759.0 Z" fill="#f1f1f4"/>
<path d="M28.0,761.0 L33.0,760.0 L34.0,768.0 L29.0,769.0 Z" fill="#f1f1f4"/>
<rect x="201.00" y="608.80" width="172.90" height="169.80" fill="url(#bgL)"/>
<rect x="201.40" y="609.20" width="5.00" height="169.00" fill="url(#fidv)"/>
<path d="M354.8,610.4 Q366,622 372.3,638.6" stroke="#c4c6dc" stroke-width="1.2" fill="none"/>
<path d="M206,751.8 Q240,764 281.3,778.6" stroke="#d2d4e2" stroke-width="1.2" fill="none"/>
<path d="M243.7,621.1 L249.0,618.4 L258.4,617.8 L270.5,615.7 L278.6,617.1 L285.3,617.8 L289.0,619.8 L293.1,623.8 L297.1,626.5 L303.8,633.2 L311.9,639.9 L319.9,645.3 L325.3,650.7 L332.0,657.4 L338.7,664.1 L336.0,668.1 L338.7,674.8 L342.7,681.6 L348.1,689.6 L352.2,696.7 L356.2,704.8 L361.6,712.8 L365.6,720.9 L366.9,727.6 L365.6,735.7 L362.9,743.7 L360.2,751.8 L354.8,758.5 L350.8,765.2 L348.1,770.6 L342.7,769.2 L336.0,766.6 L332.0,761.2 L331.3,754.5 L325.3,753.1 L321.3,749.1 L311.9,747.7 L305.1,745.1 L298.4,741.0 L291.7,738.3 L284.0,739.0 L278.6,735.7 L267.8,735.7 L258.4,736.3 L251.7,735.7 L241.0,731.6 L231.6,733.0 L220.8,733.0 L211.4,731.6 L203.0,730.5 L203.4,693.6 L206.1,689.6 L210.1,682.9 L212.8,676.2 L216.8,668.1 L220.8,662.7 L224.9,658.7 L223.5,650.7 L224.2,645.3 L224.9,637.2 L230.2,633.2 L238.3,626.5 Z" fill="#2c2a50"/>
<g filter="url(#sb)"><g transform="translate(204.00,616.00) scale(1.3100,2.5200)"><path d="M50 0h0m-15 1h0m2 0h0m2 0h0m10 0h0m2 0h0m6 0h0m4 0h0m2 0h0m-31 1h0m8 0h0m2 0h0m2 0h0m2 0h0m2 0h0m4 0h0m2 0h0m4 0h0m4 0h0m-33 1h0m2 0h0m2 0h0m2 0h0m4 0h0m4 0h0m10 0h0m4 0h0m6 0h0m-35 1h0m2 0h0m2 0h0m2 0h0m4 0h0m2 0h0m2 0h0m6 0h0m2 0h0m2 0h0m4 0h0m8 0h0m2 0h0m2 0h0m-43 1h0m2 0h0m2 0h0m2 0h0m2 0h0m6 0h0m10 0h0m6 0h0m4 0h0m2 0h0m2 0h0m4 0h0m2 0h0m-45 1h0m4 0h0m2 0h0m4 0h0m2 0h0m2 0h0m2 0h0m2 0h0m8 0h0m2 0h0m4 0h0m4 0h0m4 0h0m-39 1h0m2 0h0m2 0h0m4 0h0m2 0h0m4 0h0m10 0h0m2 0h0m6 0h0m2 0h0m6 0h0m2 0h0m4 0h0m-53 1h0m4 0h0m4 0h0m2 0h0m2 0h0m2 0h0m4 0h0m2 0h0m10 0h0m2 0h0m2 0h0m4 0h0m4 0h0m4 0h0m2 0h0m2 0h0m2 0h0m4 0h0m2 0h0m2 0h0m-59 1h0m10 0h0m4 0h0m2 0h0m2 0h0m6 0h0m2 0h0m4 0h0m2 0h0m2 0h0m10 0h0m4 0h0m4 0h0m2 0h0m2 0h0m2 0h0m2 0h0m2 0h0m-57 1h0m10 0h0m2 0h0m2 0h0m20 0h0m4 0h0m10 0h0m2 0h0m2 0h0m2 0h0m2 0h0m-63 1h0m2 0h0m8 0h0m6 0h0m2 0h0m2 0h0m2 0h0m2 0h0m4 0h0m2 0h0m4 0h0m4 0h0m2 0h0m2 0h0m2 0h0m4 0h0m2 0h0m4 0h0m2 0h0m2 0h0m2 0h0m2 0h0m4 0h0m-63 1h0m2 0h0m2 0h0m2 0h0m4 0h0m2 0h0m2 0h0m2 0h0m2 0h0m2 0h0m4 0h0m2 0h0m8 0h0m2 0h0m2 0h0m2 0h0m2 0h0m10 0h0m4 0h0m8 0h0m2 0h0m-65 1h0m4 0h0m2 0h0m2 0h0m2 0h0m2 0h0m4 0h0m2 0h0m2 0h0m2 0h0m2 0h0m2 0h0m2 0h0m2 0h0m2 0h0m2 0h0m2 0h0m2 0h0m2 0h0m4 0h0m2 0h0m8 0h0m4 0h0m2 0h0m2 0h0m6 0h0m-71 1h0m10 0h0m6 0h0m6 0h0m8 0h0m2 0h0m4 0h0m2 0h0m2 0h0m2 0h0m8 0h0m12 0h0m2 0h0m2 0h0m2 0h0m6 0h0m-75 1h0m2 0h0m6 0h0m4 0h0m2 0h0m10 0h0m2 0h0m2 0h0m2 0h0m8 0h0m2 0h0m2 0h0m2 0h0m2 0h0m6 0h0m14 0h0m2 0h0m2 0h0m6 0h0m-75 1h0m8 0h0m2 0h0m2 0h0m20 0h0m2 0h0m8 0h0m6 0h0m2 0h0m4 0h0m4 0h0m4 0h0m2 0h0m2 0h0m6 0h0m2 0h0m2 0h0m2 0h0m-77 1h0m2 0h0m2 0h0m4 0h0m2 0h0m6 0h0m6 0h0m2 0h0m4 0h0m2 0h0m4 0h0m2 0h0m4 0h0m2 0h0m4 0h0m4 0h0m6 0h0m6 0h0m2 0h0m2 0h0m4 0h0m2 0h0m2 0h0m2 0h0m2 0h0m-83 1h0m6 0h0m2 0h0m2 0h0m2 0h0m2 0h0m4 0h0m6 0h0m2 0h0m2 0h0m2 0h0m2 0h0m2 0h0m4 0h0m4 0h0m2 0h0m2 0h0m4 0h0m4 0h0m10 0h0m4 0h0m8 0h0m2 0h0m2 0h0m6 0h0m-85 1h0m4 0h0m2 0h0m4 0h0m2 0h0m2 0h0m2 0h0m6 0h0m2 0h0m4 0h0m2 0h0m2 0h0m2 0h0m2 0h0m2 0h0m2 0h0m4 0h0m2 0h0m2 0h0m4 0h0m2 0h0m2 0h0m2 0h0m8 0h0m4 0h0m4 0h0m2 0h0m2 0h0m8 0h0m-83 1h0m12 0h0m6 0h0m4 0h0m2 0h0m2 0h0m2 0h0m2 0h0m18 0h0m14 0h0m2 0h0m2 0h0m2 0h0m2 0h0m2 0h0m6 0h0m4 0h0m-81 1h0m2 0h0m4 0h0m2 0h0m8 0h0m2 0h0m2 0h0m2 0h0m4 0h0m2 0h0m4 0h0m6 0h0m4 0h0m2 0h0m2 0h0m2 0h0m2 0h0m2 0h0m4 0h0m12 0h0m4 0h0m6 0h0m2 0h0m2 0h0m-83 1h0m2 0h0m2 0h0m2 0h0m6 0h0m6 0h0m6 0h0m2 0h0m8 0h0m4 0h0m4 0h0m2 0h0m2 0h0m6 0h0m2 0h0m2 0h0m6 0h0m6 0h0m4 0h0m10 0h0m-91 1h0m4 0h0m2 0h0m4 0h0m4 0h0m2 0h0m6 0h0m4 0h0m2 0h0m2 0h0m2 0h0m2 0h0m2 0h0m6 0h0m6 0h0m2 0h0m2 0h0m2 0h0m2 0h0m2 0h0m4 0h0m6 0h0m4 0h0m4 0h0m4 0h0m4 0h0m2 0h0m6 0h0m-93 1h0m2 0h0m18 0h0m10 0h0m2 0h0m2 0h0m2 0h0m2 0h0m2 0h0m2 0h0m8 0h0m4 0h0m2 0h0m4 0h0m2 0h0m2 0h0m2 0h0m2 0h0m2 0h0m6 0h0m2 0h0m2 0h0m4 0h0m4 0h0m6 0h0m-95 1h0m20 0h0m2 0h0m2 0h0m6 0h0m2 0h0m4 0h0m4 0h0m4 0h0m2 0h0m2 0h0m2 0h0m2 0h0m2 0h0m2 0h0m4 0h0m2 0h0m4 0h0m2 0h0m4 0h0m2 0h0m6 0h0m2 0h0m2 0h0m12 0h0m-95 1h0m30 0h0m2 0h0m6 0h0m6 0h0m2 0h0m8 0h0m6 0h0m2 0h0m2 0h0m4 0h0m2 0h0m4 0h0m4 0h0m4 0h0m8 0h0m4 0h0m-81 1h0m14 0h0m14 0h0m6 0h0m2 0h0m2 0h0m2 0h0m2 0h0m2 0h0m2 0h0m6 0h0m2 0h0m2 0h0m2 0h0m4 0h0m2 0h0m2 0h0m2 0h0m4 0h0m4 0h0m2 0h0m2 0h0m2 0h0m2 0h0m-101 1h0m46 0h0m6 0h0m4 0h0m2 0h0m2 0h0m6 0h0m4 0h0m2 0h0m4 0h0m2 0h0m2 0h0m2 0h0m2 0h0m2 0h0m4 0h0m2 0h0m2 0h0m4 0h0m4 0h0m2 0h0m-103 1h0m16 0h0m24 0h0m6 0h0m8 0h0m2 0h0m4 0h0m2 0h0m2 0h0m6 0h0m2 0h0m2 0h0m2 0h0m2 0h0m2 0h0m2 0h0m2 0h0m2 0h0m4 0h0m8 0h0m4 0h0m2 0h0m-85 1h0m20 0h0m4 0h0m2 0h0m2 0h0m4 0h0m4 0h0m2 0h0m6 0h0m4 0h0m2 0h0m2 0h0m2 0h0m2 0h0m4 0h0m2 0h0m2 0h0m2 0h0m4 0h0m8 0h0m4 0h0m4 0h0m-69 1h0m8 0h0m6 0h0m4 0h0m2 0h0m4 0h0m2 0h0m8 0h0m4 0h0m2 0h0m2 0h0m4 0h0m2 0h0m2 0h0m2 0h0m2 0h0m2 0h0m2 0h0m2 0h0m4 0h0m-105 1h0m30 0h0m12 0h0m10 0h0m4 0h0m2 0h0m2 0h0m2 0h0m2 0h0m10 0h0m4 0h0m2 0h0m2 0h0m6 0h0m2 0h0m2 0h0m2 0h0m2 0h0m2 0h0m2 0h0m2 0h0m4 0h0m2 0h0m4 0h0m-73 1h0m2 0h0m12 0h0m2 0h0m2 0h0m6 0h0m4 0h0m8 0h0m2 0h0m2 0h0m4 0h0m4 0h0m2 0h0m2 0h0m2 0h0m2 0h0m4 0h0m4 0h0m2 0h0m4 0h0m2 0h0m-111 1h0m36 0h0m2 0h0m10 0h0m4 0h0m2 0h0m2 0h0m4 0h0m2 0h0m2 0h0m2 0h0m2 0h0m2 0h0m4 0h0m4 0h0m2 0h0m2 0h0m6 0h0m2 0h0m4 0h0m12 0h0m2 0h0m4 0h0m2 0h0m-67 1h0m6 0h0m6 0h0m4 0h0m2 0h0m2 0h0m2 0h0m6 0h0m4 0h0m4 0h0m4 0h0m2 0h0m2 0h0m-45 1h0m2 0h0m4 0h0m4 0h0m4 0h0m8 0h0m6 0h0m2 0h0m8 0h0m2 0h0m2 0h0m2 0h0m2 0h0m2 0h0m2 0h0m2 0h0m4 0h0m2 0h0m2 0h0m6 0h0m-111 1h0m2 0h0m30 0h0m2 0h0m18 0h0m2 0h0m8 0h0m2 0h0m4 0h0m4 0h0m2 0h0m4 0h0m2 0h0m2 0h0m2 0h0m2 0h0m2 0h0m2 0h0m4 0h0m4 0h0m4 0h0m8 0h0m-111 1h0m2 0h0m40 0h0m2 0h0m2 0h0m4 0h0m4 0h0m6 0h0m6 0h0m10 0h0m2 0h0m2 0h0m2 0h0m2 0h0m2 0h0m2 0h0m4 0h0m2 0h0m4 0h0m2 0h0m2 0h0m8 0h0m2 0h0m4 0h0m-115 1h0m32 0h0m12 0h0m6 0h0m4 0h0m2 0h0m2 0h0m4 0h0m6 0h0m4 0h0m6 0h0m2 0h0m2 0h0m4 0h0m2 0h0m2 0h0m8 0h0m2 0h0m10 0h0m2 0h0m2 0h0m-91 1h0m18 0h0m14 0h0m2 0h0m2 0h0m2 0h0m10 0h0m2 0h0m2 0h0m2 0h0m2 0h0m2 0h0m2 0h0m2 0h0m2 0h0m2 0h0m2 0h0m2 0h0m4 0h0m2 0h0m2 0h0m8 0h0m2 0h0m2 0h0m2 0h0m-115 1h0m2 0h0m44 0h0m8 0h0m2 0h0m2 0h0m2 0h0m4 0h0m2 0h0m4 0h0m4 0h0m2 0h0m2 0h0m4 0h0m2 0h0m2 0h0m4 0h0m6 0h0m2 0h0m2 0h0m2 0h0m2 0h0m6 0h0m2 0h0m2 0h0m2 0h0m-101 1h0m4 0h0m2 0h0m6 0h0m6 0h0m2 0h0m10 0h0m4 0h0m2 0h0m2 0h0m2 0h0m2 0h0m4 0h0m8 0h0m2 0h0m2 0h0m2 0h0m2 0h0m4 0h0m2 0h0m2 0h0m2 0h0m2 0h0m2 0h0m2 0h0m2 0h0m2 0h0m2 0h0m2 0h0m2 0h0m4 0h0m2 0h0m2 0h0m2 0h0m2 0h0m2 0h0m-101 1h0m12 0h0m14 0h0m6 0h0m4 0h0m2 0h0m2 0h0m4 0h0m2 0h0m4 0h0m4 0h0m10 0h0m2 0h0m2 0h0m8 0h0m4 0h0m2 0h0m2 0h0m2 0h0m2 0h0m2 0h0m8 0h0m2 0h0m2 0h0m-117 1h0m10 0h0m4 0h0m2 0h0m4 0h0m4 0h0m2 0h0m14 0h0m8 0h0m12 0h0m2 0h0m2 0h0m2 0h0m6 0h0m2 0h0m4 0h0m4 0h0m2 0h0m2 0h0m4 0h0m4 0h0m4 0h0m4 0h0m2 0h0m2 0h0m2 0h0m4 0h0m2 0h0m6 0h0m-121 1h0m6 0h0m4 0h0m12 0h0m6 0h0m10 0h0m4 0h0m2 0h0m12 0h0m4 0h0m12 0h0m2 0h0m2 0h0m2 0h0m2 0h0m2 0h0m2 0h0m2 0h0m4 0h0m6 0h0m2 0h0m2 0h0m2 0h0m2 0h0m2 0h0m2 0h0m4 0h0m4 0h0m-109 1h0m4 0h0m6 0h0m2 0h0m4 0h0m2 0h0m12 0h0m2 0h0m2 0h0m2 0h0m18 0h0m2 0h0m2 0h0m2 0h0m8 0h0m2 0h0m4 0h0m4 0h0m12 0h0m4 0h0m2 0h0m6 0h0m2 0h0m4 0h0m6 0h0m-87 1h0m2 0h0m12 0h0m14 0h0m4 0h0m2 0h0m2 0h0m4 0h0m2 0h0m2 0h0m2 0h0m2 0h0m2 0h0m2 0h0m2 0h0m2 0h0m10 0h0m12 0h0m2 0h0m6 0h0m-57 1h0m4 0h0m2 0h0m12 0h0m2 0h0m8 0h0m4 0h0m2 0h0m2 0h0m12 0h0m6 0h0m-47 1h0m2 0h0m2 0h0m6 0h0m6 0h0m2 0h0m4 0h0m12 0h0m10 0h0m-41 1h0m2 0h0m2 0h0m2 0h0m2 0h0m2 0h0m2 0h0m4 0h0m2 0h0m12 0h0m2 0h0m-29 1h0m2 0h0m2 0h0m2 0h0m2 0h0m8 0h0m2 0h0m4 0h0m2 0h0m2 0h0m6 0h0m8 0h0m4 0h0m-37 1h0m14 0h0m2 0h0m2 0h0m4 0h0m4 0h0m2 0h0m2 0h0m2 0h0m2 0h0m2 0h0m-23 1h0m2 0h0m2 0h0m8 0h0m-17 1h0m2 0h0m2 0h0m4 0h0m2 0h0m2 0h0m8 0h0m-13 1h0m12 0h0m6 0h0m-11 1h0m-3 1h0m2 0h0m6 0h0m2 0h0m-8 2h0m4 0h0m0 2h0" stroke="#bca64c" stroke-width="2.24" stroke-linecap="round" vector-effect="non-scaling-stroke" fill="none"/></g></g>
<g filter="url(#sb)"><g transform="translate(204.00,616.00) scale(1.3100,2.5200)"><path d="M52 0h0m-11 1h0m2 0h0m2 0h0m2 0h0m6 0h0m2 0h0m4 0h0m-23 1h0m2 0h0m18 0h0m8 0h0m-27 1h0m4 0h0m8 0h0m2 0h0m4 0h0m4 0h0m-15 1h0m10 0h0m4 0h0m2 0h0m2 0h0m-27 1h0m2 0h0m4 0h0m2 0h0m-21 1h0m4 0h0m18 0h0m4 0h0m10 0h0m14 0h0m2 0h0m-53 1h0m10 0h0m10 0h0m2 0h0m2 0h0m2 0h0m8 0h0m14 0h0m6 0h0m-55 1h0m4 0h0m10 0h0m6 0h0m2 0h0m2 0h0m2 0h0m8 0h0m4 0h0m4 0h0m-41 1h0m2 0h0m2 0h0m6 0h0m8 0h0m16 0h0m2 0h0m2 0h0m2 0h0m4 0h0m4 0h0m-53 1h0m2 0h0m2 0h0m2 0h0m4 0h0m2 0h0m2 0h0m10 0h0m2 0h0m2 0h0m2 0h0m2 0h0m2 0h0m2 0h0m2 0h0m2 0h0m8 0h0m18 0h0m-59 1h0m2 0h0m6 0h0m18 0h0m4 0h0m16 0h0m-51 1h0m10 0h0m14 0h0m6 0h0m2 0h0m2 0h0m12 0h0m2 0h0m8 0h0m4 0h0m2 0h0m2 0h0m6 0h0m-71 1h0m2 0h0m4 0h0m12 0h0m34 0h0m2 0h0m2 0h0m4 0h0m8 0h0m2 0h0m4 0h0m-75 1h0m4 0h0m2 0h0m4 0h0m4 0h0m14 0h0m2 0h0m6 0h0m12 0h0m8 0h0m2 0h0m2 0h0m12 0h0m2 0h0m-69 1h0m2 0h0m4 0h0m8 0h0m4 0h0m10 0h0m2 0h0m2 0h0m12 0h0m2 0h0m6 0h0m4 0h0m2 0h0m10 0h0m2 0h0m-71 1h0m2 0h0m2 0h0m8 0h0m2 0h0m2 0h0m2 0h0m2 0h0m2 0h0m2 0h0m2 0h0m2 0h0m6 0h0m2 0h0m6 0h0m2 0h0m6 0h0m8 0h0m8 0h0m-69 1h0m8 0h0m8 0h0m4 0h0m2 0h0m12 0h0m6 0h0m6 0h0m4 0h0m4 0h0m2 0h0m4 0h0m2 0h0m-63 1h0m14 0h0m4 0h0m2 0h0m18 0h0m12 0h0m4 0h0m6 0h0m10 0h0m2 0h0m8 0h0m2 0h0m-81 1h0m16 0h0m2 0h0m6 0h0m16 0h0m20 0h0m2 0h0m4 0h0m4 0h0m8 0h0m4 0h0m-87 1h0m12 0h0m10 0h0m18 0h0m2 0h0m8 0h0m6 0h0m2 0h0m4 0h0m2 0h0m2 0h0m14 0h0m2 0h0m4 0h0m-87 1h0m2 0h0m2 0h0m2 0h0m12 0h0m24 0h0m20 0h0m4 0h0m2 0h0m2 0h0m2 0h0m2 0h0m4 0h0m6 0h0m-81 1h0m2 0h0m22 0h0m2 0h0m14 0h0m12 0h0m2 0h0m8 0h0m2 0h0m10 0h0m4 0h0m2 0h0m2 0h0m2 0h0m-77 1h0m6 0h0m2 0h0m4 0h0m16 0h0m4 0h0m2 0h0m18 0h0m6 0h0m4 0h0m4 0h0m4 0h0m6 0h0m2 0h0m-85 1h0m2 0h0m2 0h0m2 0h0m2 0h0m8 0h0m2 0h0m2 0h0m2 0h0m16 0h0m8 0h0m20 0h0m10 0h0m4 0h0m4 0h0m2 0h0m-87 1h0m4 0h0m2 0h0m2 0h0m4 0h0m8 0h0m12 0h0m4 0h0m22 0h0m12 0h0m2 0h0m8 0h0m2 0h0m2 0h0m2 0h0m2 0h0m-95 1h0m8 0h0m2 0h0m2 0h0m4 0h0m8 0h0m2 0h0m16 0h0m8 0h0m2 0h0m16 0h0m6 0h0m4 0h0m8 0h0m4 0h0m4 0h0m-93 1h0m2 0h0m2 0h0m2 0h0m2 0h0m2 0h0m16 0h0m4 0h0m2 0h0m12 0h0m2 0h0m18 0h0m10 0h0m10 0h0m4 0h0m12 0h0m-101 1h0m6 0h0m22 0h0m4 0h0m2 0h0m2 0h0m10 0h0m2 0h0m4 0h0m8 0h0m2 0h0m32 0h0m4 0h0m-97 1h0m12 0h0m10 0h0m4 0h0m2 0h0m4 0h0m2 0h0m8 0h0m4 0h0m18 0h0m2 0h0m20 0h0m6 0h0m2 0h0m4 0h0m-69 1h0m22 0h0m6 0h0m6 0h0m12 0h0m10 0h0m4 0h0m2 0h0m6 0h0m4 0h0m-107 1h0m16 0h0m2 0h0m8 0h0m6 0h0m24 0h0m6 0h0m6 0h0m8 0h0m8 0h0m18 0h0m6 0h0m2 0h0m-109 1h0m12 0h0m12 0h0m12 0h0m2 0h0m4 0h0m6 0h0m4 0h0m12 0h0m4 0h0m14 0h0m26 0h0m-93 1h0m2 0h0m26 0h0m4 0h0m12 0h0m8 0h0m2 0h0m2 0h0m8 0h0m4 0h0m16 0h0m6 0h0m-93 1h0m2 0h0m2 0h0m2 0h0m4 0h0m6 0h0m28 0h0m18 0h0m10 0h0m6 0h0m4 0h0m2 0h0m2 0h0m2 0h0m2 0h0m6 0h0m-93 1h0m2 0h0m2 0h0m4 0h0m8 0h0m2 0h0m4 0h0m22 0h0m10 0h0m2 0h0m20 0h0m2 0h0m4 0h0m6 0h0m2 0h0m2 0h0m2 0h0m4 0h0m-97 1h0m2 0h0m2 0h0m2 0h0m4 0h0m8 0h0m2 0h0m24 0h0m2 0h0m2 0h0m4 0h0m2 0h0m10 0h0m26 0h0m2 0h0m4 0h0m-105 1h0m10 0h0m2 0h0m6 0h0m4 0h0m8 0h0m2 0h0m4 0h0m2 0h0m12 0h0m8 0h0m10 0h0m16 0h0m4 0h0m4 0h0m4 0h0m4 0h0m-103 1h0m2 0h0m12 0h0m8 0h0m2 0h0m6 0h0m2 0h0m20 0h0m4 0h0m2 0h0m6 0h0m2 0h0m2 0h0m22 0h0m8 0h0m2 0h0m2 0h0m6 0h0m-111 1h0m10 0h0m10 0h0m6 0h0m18 0h0m6 0h0m8 0h0m4 0h0m2 0h0m10 0h0m8 0h0m8 0h0m2 0h0m2 0h0m6 0h0m2 0h0m4 0h0m-107 1h0m2 0h0m6 0h0m20 0h0m40 0h0m26 0h0m8 0h0m2 0h0m2 0h0m-97 1h0m6 0h0m12 0h0m4 0h0m6 0h0m6 0h0m18 0h0m6 0h0m12 0h0m14 0h0m12 0h0m2 0h0m-109 1h0m18 0h0m6 0h0m2 0h0m4 0h0m2 0h0m12 0h0m4 0h0m18 0h0m2 0h0m38 0h0m-105 1h0m2 0h0m2 0h0m2 0h0m4 0h0m8 0h0m4 0h0m2 0h0m2 0h0m6 0h0m8 0h0m6 0h0m4 0h0m14 0h0m4 0h0m6 0h0m12 0h0m8 0h0m16 0h0m10 0h0m-111 1h0m10 0h0m4 0h0m8 0h0m6 0h0m2 0h0m8 0h0m4 0h0m4 0h0m2 0h0m12 0h0m12 0h0m8 0h0m4 0h0m8 0h0m10 0h0m6 0h0m2 0h0m-115 1h0m4 0h0m6 0h0m2 0h0m2 0h0m22 0h0m6 0h0m2 0h0m2 0h0m2 0h0m2 0h0m8 0h0m30 0h0m2 0h0m-81 1h0m8 0h0m8 0h0m22 0h0m4 0h0m16 0h0m8 0h0m4 0h0m10 0h0m2 0h0m4 0h0m6 0h0m12 0h0m-79 1h0m16 0h0m2 0h0m16 0h0m20 0h0m4 0h0m2 0h0m8 0h0m2 0h0m2 0h0m-45 1h0m8 0h0m2 0h0m2 0h0m8 0h0m2 0h0m14 0h0m4 0h0m2 0h0m2 0h0m4 0h0m2 0h0m6 0h0m-45 1h0m2 0h0m4 0h0m2 0h0m10 0h0m2 0h0m2 0h0m2 0h0m2 0h0m8 0h0m6 0h0m4 0h0m-25 1h0m2 0h0m10 0h0m2 0h0m2 0h0m-25 1h0m2 0h0m8 0h0m8 0h0m2 0h0m4 0h0m-25 1h0m2 0h0m16 0h0m4 0h0m-17 1h0m4 0h0m8 0h0m4 0h0m6 0h0m2 0h0m4 0h0m-21 1h0m10 0h0m2 0h0m4 0h0m4 0h0m-3 1h0m-17 1h0m4 0h0m12 0h0m-7 1h0m2 0h0m-3 1h0m2 0h0m2 0h0m-7 1h0m4 0h0m-3 1h0m4 0h0" stroke="#a466bc" stroke-width="2.24" stroke-linecap="round" vector-effect="non-scaling-stroke" fill="none"/></g></g>
<g filter="url(#sb)"><g transform="translate(204.00,616.00) scale(1.3100,2.5200)"><path d="M61 3h0m-16 2h0m26 0h0m-3 1h0m-45 1h0m14 0h0m16 0h0m19 1h0m-12 2h0m6 0h0m-23 1h0m42 0h0m-15 1h0m-7 1h0m-39 1h0m8 0h0m4 0h0m6 0h0m20 0h0m4 0h0m12 0h0m-45 1h0m4 0h0m34 0h0m4 0h0m-17 1h0m16 0h0m14 0h0m-57 1h0m56 0h0m-69 1h0m32 0h0m22 0h0m2 0h0m-61 1h0m10 0h0m42 0h0m10 0h0m22 0h0m-83 1h0m2 0h0m4 0h0m2 0h0m6 0h0m22 0h0m6 0h0m-33 1h0m8 0h0m12 0h0m12 0h0m4 0h0m-49 1h0m16 0h0m8 0h0m14 0h0m34 0h0m-71 1h0m36 0h0m-21 1h0m30 0h0m10 0h0m16 0h0m-67 1h0m20 0h0m30 0h0m-53 1h0m30 0h0m2 0h0m16 0h0m4 0h0m24 0h0m6 0h0m-75 1h0m4 0h0m2 0h0m2 0h0m2 0h0m16 0h0m2 0h0m-39 1h0m12 0h0m2 0h0m2 0h0m2 0h0m2 0h0m2 0h0m6 0h0m8 0h0m2 0h0m32 0h0m14 0h0m-83 1h0m2 0h0m2 0h0m4 0h0m6 0h0m2 0h0m2 0h0m4 0h0m12 0h0m20 0h0m34 0h0m-87 1h0m2 0h0m4 0h0m4 0h0m6 0h0m2 0h0m4 0h0m6 0h0m4 0h0m4 0h0m8 0h0m12 0h0m-55 1h0m10 0h0m2 0h0m2 0h0m4 0h0m2 0h0m4 0h0m2 0h0m10 0h0m4 0h0m2 0h0m18 0h0m2 0h0m34 0h0m-95 1h0m6 0h0m2 0h0m2 0h0m2 0h0m8 0h0m2 0h0m2 0h0m10 0h0m22 0h0m18 0h0m-85 1h0m2 0h0m10 0h0m8 0h0m2 0h0m2 0h0m2 0h0m2 0h0m18 0h0m18 0h0m32 0h0m-95 1h0m24 0h0m6 0h0m2 0h0m6 0h0m4 0h0m2 0h0m4 0h0m-49 1h0m2 0h0m20 0h0m4 0h0m2 0h0m2 0h0m14 0h0m4 0h0m6 0h0m2 0h0m20 0h0m4 0h0m4 0h0m12 0h0m4 0h0m2 0h0m10 0h0m-113 1h0m6 0h0m20 0h0m14 0h0m2 0h0m36 0h0m2 0h0m36 0h0m-93 1h0m2 0h0m4 0h0m22 0h0m20 0h0m46 0h0m-95 1h0m18 0h0m8 0h0m8 0h0m12 0h0m-43 1h0m6 0h0m4 0h0m2 0h0m4 0h0m8 0h0m22 0h0m4 0h0m-75 1h0m12 0h0m4 0h0m16 0h0m4 0h0m4 0h0m4 0h0m2 0h0m4 0h0m4 0h0m12 0h0m2 0h0m-43 1h0m6 0h0m4 0h0m2 0h0m4 0h0m8 0h0m40 0h0m4 0h0m-91 1h0m2 0h0m6 0h0m28 0h0m42 0h0m-65 1h0m16 0h0m6 0h0m8 0h0m14 0h0m14 0h0m16 0h0m2 0h0m22 0h0m-109 1h0m2 0h0m24 0h0m6 0h0m10 0h0m26 0h0m26 0h0m-73 1h0m64 0h0m22 0h0m-95 1h0m34 0h0m40 0h0m-47 1h0m8 0h0m2 0h0m42 0h0m8 0h0m2 0h0m18 0h0m-61 1h0m10 0h0m18 0h0m14 0h0m-13 1h0m16 0h0m-19 1h0m12 0h0m18 0h0m-27 1h0m-9 1h0m14 0h0m9 1h0m1 1h0m10 0h0m-11 1h0m-4 2h0m11 1h0m-6 2h0" stroke="#5c76c6" stroke-width="2.24" stroke-linecap="round" vector-effect="non-scaling-stroke" fill="none"/></g></g>
<g filter="url(#sb)"><g transform="translate(204.00,616.00) scale(1.3100,2.5200)"><path d="M50 2h0m10 0h0m-15 1h0m2 0h0m18 0h0m2 0h0m-21 1h0m24 0h0m-23 1h0m4 0h0m2 0h0m4 0h0m8 0h0m-19 1h0m8 0h0m12 0h0m4 0h0m3 1h0m-56 2h0m10 0h0m14 0h0m6 0h0m-15 1h0m36 0h0m2 0h0m-49 1h0m8 0h0m34 0h0m18 0h0m-65 1h0m52 0h0m-30 2h0m7 3h0m17 1h0m18 0h0m-54 2h0m32 0h0m2 0h0m4 0h0m8 0h0m-23 1h0m44 0h0m-81 1h0m38 0h0m8 0h0m26 0h0m-67 1h0m52 0h0m-58 2h0m12 0h0m54 0h0m-67 1h0m10 0h0m4 0h0m4 0h0m22 0h0m16 0h0m38 0h0m-35 1h0m-55 1h0m58 0h0m-57 1h0m32 0h0m8 0h0m2 0h0m-27 1h0m-15 1h0m57 1h0m4 0h0m-17 1h0m54 0h0m-41 1h0m12 0h0m-34 2h0m4 0h0m-11 1h0m6 0h0m12 0h0m52 0h0m2 0h0m-63 1h0m38 0h0m27 1h0m-89 1h0m36 0h0m-59 1h0m8 0h0m2 0h0m28 0h0m-22 2h0m18 0h0m70 0h0m-65 1h0m10 0h0m-33 1h0m6 0h0m38 0h0m50 0h0m-69 1h0m2 0h0m6 0h0m20 0h0m14 0h0m20 0h0m-67 1h0m4 0h0m2 0h0m14 0h0m4 0h0m-5 1h0m34 0h0m15 1h0m-15 1h0m22 0h0m-1 1h0m4 0h0m-8 2h0m6 0h0m-16 6h0" stroke="#46b4bc" stroke-width="2.24" stroke-linecap="round" vector-effect="non-scaling-stroke" fill="none"/></g></g>
<g filter="url(#sb)"><g transform="translate(204.00,616.00) scale(1.3100,2.5200)"><path d="M36 4h0m48 14h0m-46 2h0m-5 1h0m-1 1h0m43 1h0m-63 1h0m-3 1h0m32 0h0m-7 1h0m2 0h0m-5 1h0m12 0h0m-27 1h0m2 0h0m14 0h0m16 0h0m-45 1h0m34 0h0m-29 1h0m6 0h0m20 0h0m6 0h0m60 0h0m-55 1h0m-17 1h0m20 0h0m-13 1h0m8 0h0m8 0h0m-29 1h0m6 0h0m14 0h0m-37 1h0m2 0h0m8 0h0m28 0h0m8 0h0m-49 1h0m2 0h0m4 0h0m22 0h0m2 0h0m2 0h0m10 0h0m14 0h0m42 0h0m-95 1h0m32 0h0m70 0h0m-103 1h0m6 0h0m14 0h0m2 0h0m6 0h0m2 0h0m-29 1h0m4 0h0m2 0h0m16 0h0m16 0h0m64 0h0m-101 1h0m2 0h0m6 0h0m12 0h0m8 0h0m14 0h0m4 0h0m-43 1h0m18 0h0m46 0h0m-67 1h0m34 0h0m2 0h0m18 0h0m4 0h0m-55 1h0m26 0h0m25 1h0m-57 1h0m7 1h0m70 2h0m33 1h0m-11 1h0m12 0h0m-1 1h0m-13 7h0" stroke="#d85c6c" stroke-width="2.24" stroke-linecap="round" vector-effect="non-scaling-stroke" fill="none"/></g></g>
<g filter="url(#sb)"><g transform="translate(204.00,616.00) scale(1.3100,2.5200)"><path d="M34 2h0m36 12h0m11 1h0m-65 1h0m16 4h0m-4 2h0m18 0h0m-22 2h0m30 0h0m-28 2h0m-21 1h0m36 0h0m-31 1h0m8 2h0m4 0h0m-9 1h0m26 0h0m4 0h0m-27 1h0m88 0h0m-89 1h0m16 0h0m2 0h0m4 0h0m-33 1h0m33 1h0m4 0h0m-34 2h0m50 0h0m-45 1h0m106 0h0m-111 1h0m32 0h0m80 0h0m-81 1h0m80 0h0m2 0h0m-113 1h0m44 0h0m2 0h0m66 0h0m2 0h0m-113 1h0m112 0h0m2 0h0m1 1h0m-123 1h0m8 0h0m116 0h0m-57 1h0m52 0h0m2 0h0m2 0h0m-31 1h0m22 0h0m6 0h0m-3 1h0m2 0h0m1 1h0m-1 1h0m1 1h0m-13 5h0m2 0h0m4 0h0m-13 1h0m4 0h0m4 0h0m2 0h0m2 0h0m-13 1h0m3 1h0m2 0h0m7 1h0m-9 1h0m8 0h0" stroke="#46a866" stroke-width="2.24" stroke-linecap="round" vector-effect="non-scaling-stroke" fill="none"/></g></g>
<path d="M201.2,684.0 L205.0,687.0 L209.0,692.0 L211.0,731.6 L201.2,731.0 Z" fill="#6a5cac"/>
<path d="M201.2,684.0 L205.0,687.0 L209.0,692.0 L211.0,731.6 L201.2,731.0 Z" fill="#2e2080" filter="url(#hne)"/>
<path d="M204.7,691.3 L214.1,691.3 L224.9,706.1 L236.9,719.5 L230.2,721.6 L222.2,714.2 L211.4,702.1 Z" fill="#f1f1f4"/>
<path d="M242.3,728.5 L248.0,726.3 L254.4,729.0 L252.0,733.5 L244.0,733.0 Z" fill="#f1f1f4"/>
<path d="M219.5,720.0 L223.5,719.5 L223.0,730.3 L220.0,729.0 Z" fill="#f1f1f4"/>
<path d="M278.6,730.0 L282.0,729.0 L284.0,735.7 L280.0,735.0 Z" fill="#f1f1f4"/>
<path d="M302.5,724.0 L306.0,722.2 L309.2,726.0 L305.0,728.9 Z" fill="#f1f1f4"/>
<path d="M293.0,729.0 L297.0,727.6 L298.4,733.0 L294.5,734.3 Z" fill="#f1f1f4"/>
<path d="M321.3,747.0 L326.0,745.0 L329.3,748.5 L324.0,750.4 Z" fill="#f1f1f4"/>
<path d="M336.0,754.5 L339.0,753.0 L341.4,756.0 L337.5,757.0 Z" fill="#f1f1f4"/>
<path d="M244.0,631.0 L248.0,629.5 L247.0,634.0 Z" fill="#f1f1f4"/>
<path d="M337.0,666.0 L340.0,664.0 L340.0,670.0 Z" fill="#f1f1f4"/>
<path d="M283.0,631.0 L287.0,629.0 L288.0,634.0 L284.0,635.0 Z" fill="#f1f1f4"/>
<text x="31.60" y="627.80" font-size="9.5" text-anchor="start" fill="#111">EGFR_MT</text>
<text x="323.00" y="627.60" font-size="9.5" text-anchor="start" fill="#111">KRAS_MT</text>
<rect x="23.10" y="792.90" width="172.50" height="172.20" fill="url(#bgL)"/>
<rect x="23.50" y="793.30" width="171.70" height="5.00" fill="url(#fidh)"/>
<g transform="translate(218.70,1758.00) rotate(180)">
<rect x="23.50" y="793.30" width="171.70" height="5.00" fill="url(#fidh)"/>
</g>
<rect x="23.50" y="793.30" width="5.00" height="171.40" fill="url(#fidv)"/>
<g transform="translate(218.70,1758.00) rotate(180)">
<rect x="23.50" y="793.30" width="5.00" height="171.40" fill="url(#fidv)"/>
</g>
<g transform="translate(0,792.9) scale(1,1.013) translate(0,-608.8)">
<path d="M25.3,645.7 L30.5,647.0 L39.7,646.4 L46.3,648.4 L52.8,652.3 L59.4,653.6 L63.4,656.2 L69.9,651.0 L75.2,647.0 L84.4,645.7 L85.7,635.2 L89.6,631.3 L91.0,622.1 L98.8,619.5 L105.0,620.5 L110.5,616.8 L118.9,614.7 L127.2,617.5 L135.5,621.6 L141.1,624.4 L148.0,628.6 L153.5,627.9 L160.5,629.3 L166.0,625.8 L170.2,623.0 L173.0,628.6 L177.1,632.7 L179.9,639.7 L182.0,646.6 L182.7,657.7 L184.8,663.3 L186.8,670.2 L188.2,679.9 L188.9,691.0 L186.8,698.3 L182.7,710.8 L178.5,720.5 L171.6,728.8 L164.6,734.4 L159.1,741.3 L153.5,748.3 L149.4,755.2 L142.4,760.7 L135.5,767.7 L128.6,771.8 L118.9,773.2 L105.0,773.2 L80.0,773.0 L60.0,773.0 L46.0,772.0 L33.0,771.5 L30.5,763.6 L33.1,755.7 L41.0,747.8 L46.3,740.0 L33.1,733.4 L31.2,703.0 L31.8,690.0 L30.2,663.8 L26.0,652.0 Z" fill="#23224a"/>
<g filter="url(#sb)"><g transform="translate(24.00,613.00) scale(1.1500,1.9900)"><path d="M83 1h0m-3 1h0m2 0h0m2 0h0m2 0h0m-9 1h0m4 0h0m2 0h0m2 0h0m4 0h0m-27 1h0m4 0h0m6 0h0m2 0h0m4 0h0m2 0h0m6 0h0m2 0h0m2 0h0m2 0h0m2 0h0m-31 1h0m2 0h0m10 0h0m2 0h0m2 0h0m8 0h0m2 0h0m2 0h0m6 0h0m2 0h0m-33 1h0m8 0h0m2 0h0m2 0h0m4 0h0m2 0h0m2 0h0m2 0h0m2 0h0m2 0h0m2 0h0m2 0h0m2 0h0m2 0h0m2 0h0m24 0h0m-59 1h0m6 0h0m6 0h0m2 0h0m4 0h0m2 0h0m2 0h0m2 0h0m2 0h0m6 0h0m2 0h0m2 0h0m24 0h0m-57 1h0m2 0h0m4 0h0m10 0h0m2 0h0m2 0h0m2 0h0m2 0h0m2 0h0m4 0h0m2 0h0m2 0h0m4 0h0m2 0h0m6 0h0m4 0h0m-53 1h0m16 0h0m2 0h0m2 0h0m2 0h0m4 0h0m2 0h0m2 0h0m2 0h0m2 0h0m4 0h0m2 0h0m2 0h0m2 0h0m2 0h0m2 0h0m2 0h0m2 0h0m10 0h0m2 0h0m-59 1h0m4 0h0m2 0h0m2 0h0m2 0h0m4 0h0m4 0h0m2 0h0m2 0h0m4 0h0m2 0h0m6 0h0m2 0h0m2 0h0m2 0h0m2 0h0m2 0h0m4 0h0m4 0h0m4 0h0m2 0h0m2 0h0m-77 1h0m2 0h0m8 0h0m4 0h0m6 0h0m6 0h0m2 0h0m6 0h0m4 0h0m2 0h0m2 0h0m2 0h0m2 0h0m2 0h0m2 0h0m4 0h0m2 0h0m2 0h0m4 0h0m2 0h0m8 0h0m4 0h0m2 0h0m-75 1h0m4 0h0m4 0h0m2 0h0m2 0h0m4 0h0m2 0h0m2 0h0m2 0h0m6 0h0m4 0h0m2 0h0m2 0h0m2 0h0m4 0h0m4 0h0m4 0h0m2 0h0m2 0h0m4 0h0m4 0h0m10 0h0m2 0h0m2 0h0m-75 1h0m2 0h0m4 0h0m2 0h0m2 0h0m2 0h0m2 0h0m4 0h0m10 0h0m2 0h0m4 0h0m2 0h0m4 0h0m2 0h0m2 0h0m2 0h0m2 0h0m12 0h0m2 0h0m4 0h0m4 0h0m2 0h0m2 0h0m-65 1h0m4 0h0m2 0h0m2 0h0m2 0h0m2 0h0m2 0h0m8 0h0m2 0h0m2 0h0m4 0h0m2 0h0m2 0h0m2 0h0m2 0h0m2 0h0m2 0h0m2 0h0m4 0h0m4 0h0m2 0h0m2 0h0m2 0h0m2 0h0m2 0h0m2 0h0m-79 1h0m2 0h0m10 0h0m4 0h0m2 0h0m6 0h0m2 0h0m2 0h0m2 0h0m4 0h0m2 0h0m2 0h0m2 0h0m2 0h0m2 0h0m4 0h0m4 0h0m2 0h0m2 0h0m6 0h0m2 0h0m4 0h0m2 0h0m2 0h0m2 0h0m2 0h0m2 0h0m2 0h0m-77 1h0m12 0h0m2 0h0m2 0h0m2 0h0m2 0h0m2 0h0m2 0h0m2 0h0m2 0h0m4 0h0m2 0h0m2 0h0m4 0h0m2 0h0m8 0h0m2 0h0m2 0h0m6 0h0m4 0h0m2 0h0m4 0h0m2 0h0m2 0h0m-127 1h0m2 0h0m6 0h0m2 0h0m34 0h0m22 0h0m10 0h0m2 0h0m6 0h0m2 0h0m2 0h0m4 0h0m2 0h0m2 0h0m2 0h0m2 0h0m2 0h0m4 0h0m2 0h0m2 0h0m4 0h0m2 0h0m8 0h0m2 0h0m2 0h0m2 0h0m2 0h0m-127 1h0m4 0h0m2 0h0m2 0h0m30 0h0m6 0h0m2 0h0m2 0h0m16 0h0m2 0h0m8 0h0m2 0h0m4 0h0m2 0h0m2 0h0m10 0h0m4 0h0m2 0h0m6 0h0m2 0h0m2 0h0m2 0h0m2 0h0m2 0h0m2 0h0m6 0h0m2 0h0m2 0h0m-121 1h0m6 0h0m20 0h0m4 0h0m10 0h0m2 0h0m4 0h0m10 0h0m4 0h0m2 0h0m2 0h0m2 0h0m2 0h0m2 0h0m2 0h0m4 0h0m2 0h0m4 0h0m2 0h0m2 0h0m2 0h0m4 0h0m4 0h0m2 0h0m2 0h0m2 0h0m4 0h0m2 0h0m2 0h0m2 0h0m6 0h0m2 0h0m2 0h0m-133 1h0m2 0h0m6 0h0m2 0h0m4 0h0m4 0h0m4 0h0m20 0h0m2 0h0m2 0h0m6 0h0m2 0h0m4 0h0m2 0h0m10 0h0m2 0h0m2 0h0m2 0h0m2 0h0m4 0h0m4 0h0m8 0h0m2 0h0m2 0h0m4 0h0m2 0h0m2 0h0m2 0h0m2 0h0m2 0h0m2 0h0m4 0h0m6 0h0m2 0h0m2 0h0m2 0h0m2 0h0m-131 1h0m16 0h0m8 0h0m8 0h0m2 0h0m2 0h0m2 0h0m6 0h0m4 0h0m2 0h0m2 0h0m2 0h0m4 0h0m2 0h0m2 0h0m12 0h0m2 0h0m4 0h0m2 0h0m2 0h0m4 0h0m2 0h0m2 0h0m4 0h0m2 0h0m2 0h0m2 0h0m2 0h0m2 0h0m2 0h0m2 0h0m2 0h0m2 0h0m2 0h0m2 0h0m2 0h0m2 0h0m2 0h0m2 0h0m2 0h0m-119 1h0m4 0h0m8 0h0m30 0h0m4 0h0m8 0h0m2 0h0m2 0h0m4 0h0m2 0h0m4 0h0m2 0h0m2 0h0m2 0h0m2 0h0m2 0h0m2 0h0m2 0h0m4 0h0m2 0h0m6 0h0m4 0h0m4 0h0m2 0h0m2 0h0m2 0h0m2 0h0m2 0h0m2 0h0m2 0h0m4 0h0m2 0h0m-117 1h0m6 0h0m6 0h0m8 0h0m2 0h0m4 0h0m6 0h0m6 0h0m2 0h0m4 0h0m14 0h0m2 0h0m2 0h0m2 0h0m2 0h0m2 0h0m2 0h0m2 0h0m4 0h0m2 0h0m2 0h0m2 0h0m2 0h0m2 0h0m2 0h0m4 0h0m2 0h0m2 0h0m2 0h0m2 0h0m4 0h0m6 0h0m4 0h0m2 0h0m2 0h0m-119 1h0m10 0h0m10 0h0m12 0h0m4 0h0m4 0h0m12 0h0m2 0h0m2 0h0m4 0h0m2 0h0m2 0h0m4 0h0m2 0h0m2 0h0m8 0h0m2 0h0m4 0h0m2 0h0m4 0h0m2 0h0m2 0h0m2 0h0m2 0h0m2 0h0m4 0h0m2 0h0m10 0h0m2 0h0m-127 1h0m2 0h0m18 0h0m10 0h0m6 0h0m10 0h0m6 0h0m12 0h0m6 0h0m2 0h0m2 0h0m2 0h0m2 0h0m2 0h0m2 0h0m2 0h0m2 0h0m2 0h0m4 0h0m2 0h0m4 0h0m2 0h0m2 0h0m2 0h0m2 0h0m6 0h0m2 0h0m2 0h0m2 0h0m10 0h0m-133 1h0m36 0h0m8 0h0m2 0h0m2 0h0m4 0h0m18 0h0m6 0h0m2 0h0m2 0h0m4 0h0m2 0h0m2 0h0m2 0h0m6 0h0m2 0h0m6 0h0m10 0h0m4 0h0m2 0h0m2 0h0m8 0h0m4 0h0m-127 1h0m32 0h0m2 0h0m10 0h0m4 0h0m4 0h0m4 0h0m2 0h0m6 0h0m4 0h0m2 0h0m2 0h0m2 0h0m2 0h0m4 0h0m2 0h0m2 0h0m2 0h0m2 0h0m2 0h0m4 0h0m2 0h0m2 0h0m2 0h0m4 0h0m12 0h0m2 0h0m6 0h0m2 0h0m-97 1h0m2 0h0m6 0h0m8 0h0m4 0h0m2 0h0m4 0h0m4 0h0m10 0h0m2 0h0m2 0h0m2 0h0m2 0h0m2 0h0m2 0h0m2 0h0m2 0h0m2 0h0m2 0h0m4 0h0m2 0h0m2 0h0m4 0h0m4 0h0m4 0h0m4 0h0m2 0h0m4 0h0m2 0h0m4 0h0m2 0h0m-133 1h0m6 0h0m26 0h0m6 0h0m6 0h0m4 0h0m2 0h0m10 0h0m2 0h0m2 0h0m6 0h0m6 0h0m2 0h0m2 0h0m2 0h0m2 0h0m4 0h0m2 0h0m2 0h0m2 0h0m4 0h0m6 0h0m4 0h0m8 0h0m2 0h0m2 0h0m4 0h0m2 0h0m2 0h0m2 0h0m2 0h0m2 0h0m-99 1h0m6 0h0m2 0h0m10 0h0m2 0h0m6 0h0m2 0h0m8 0h0m2 0h0m2 0h0m2 0h0m2 0h0m2 0h0m2 0h0m2 0h0m8 0h0m2 0h0m4 0h0m2 0h0m8 0h0m6 0h0m2 0h0m6 0h0m4 0h0m2 0h0m2 0h0m2 0h0m-119 1h0m2 0h0m20 0h0m2 0h0m2 0h0m8 0h0m8 0h0m2 0h0m4 0h0m12 0h0m10 0h0m2 0h0m2 0h0m2 0h0m4 0h0m2 0h0m2 0h0m2 0h0m2 0h0m8 0h0m2 0h0m4 0h0m4 0h0m2 0h0m2 0h0m8 0h0m2 0h0m-121 1h0m2 0h0m2 0h0m20 0h0m4 0h0m2 0h0m2 0h0m2 0h0m8 0h0m2 0h0m2 0h0m2 0h0m6 0h0m12 0h0m2 0h0m2 0h0m2 0h0m6 0h0m2 0h0m2 0h0m2 0h0m2 0h0m2 0h0m4 0h0m2 0h0m2 0h0m4 0h0m2 0h0m2 0h0m2 0h0m8 0h0m2 0h0m2 0h0m4 0h0m-119 1h0m4 0h0m22 0h0m4 0h0m6 0h0m2 0h0m2 0h0m2 0h0m8 0h0m8 0h0m8 0h0m4 0h0m2 0h0m2 0h0m2 0h0m2 0h0m2 0h0m2 0h0m2 0h0m4 0h0m2 0h0m2 0h0m2 0h0m2 0h0m2 0h0m4 0h0m4 0h0m2 0h0m2 0h0m4 0h0m2 0h0m-129 1h0m2 0h0m16 0h0m2 0h0m18 0h0m2 0h0m2 0h0m2 0h0m10 0h0m8 0h0m4 0h0m2 0h0m8 0h0m2 0h0m6 0h0m2 0h0m6 0h0m2 0h0m2 0h0m2 0h0m2 0h0m2 0h0m2 0h0m6 0h0m2 0h0m4 0h0m2 0h0m2 0h0m4 0h0m-105 1h0m14 0h0m4 0h0m4 0h0m6 0h0m4 0h0m2 0h0m2 0h0m2 0h0m2 0h0m2 0h0m8 0h0m2 0h0m6 0h0m2 0h0m2 0h0m4 0h0m2 0h0m6 0h0m2 0h0m2 0h0m2 0h0m4 0h0m2 0h0m2 0h0m2 0h0m2 0h0m2 0h0m4 0h0m2 0h0m4 0h0m2 0h0m6 0h0m-93 1h0m12 0h0m2 0h0m4 0h0m2 0h0m6 0h0m12 0h0m4 0h0m2 0h0m4 0h0m10 0h0m2 0h0m2 0h0m6 0h0m2 0h0m4 0h0m2 0h0m2 0h0m2 0h0m4 0h0m8 0h0m-133 1h0m40 0h0m2 0h0m4 0h0m4 0h0m4 0h0m8 0h0m6 0h0m2 0h0m6 0h0m4 0h0m2 0h0m6 0h0m4 0h0m2 0h0m2 0h0m2 0h0m2 0h0m6 0h0m4 0h0m4 0h0m4 0h0m2 0h0m2 0h0m2 0h0m4 0h0m2 0h0m2 0h0m2 0h0m2 0h0m-129 1h0m18 0h0m16 0h0m2 0h0m8 0h0m4 0h0m2 0h0m4 0h0m2 0h0m8 0h0m4 0h0m2 0h0m4 0h0m2 0h0m2 0h0m2 0h0m4 0h0m4 0h0m4 0h0m2 0h0m2 0h0m2 0h0m2 0h0m2 0h0m2 0h0m2 0h0m2 0h0m4 0h0m2 0h0m2 0h0m2 0h0m6 0h0m-89 1h0m2 0h0m6 0h0m4 0h0m2 0h0m2 0h0m2 0h0m4 0h0m2 0h0m4 0h0m4 0h0m2 0h0m2 0h0m2 0h0m2 0h0m4 0h0m4 0h0m2 0h0m4 0h0m2 0h0m2 0h0m4 0h0m2 0h0m2 0h0m2 0h0m2 0h0m2 0h0m2 0h0m2 0h0m2 0h0m2 0h0m2 0h0m4 0h0m8 0h0m-107 1h0m22 0h0m2 0h0m2 0h0m2 0h0m2 0h0m6 0h0m4 0h0m2 0h0m10 0h0m2 0h0m2 0h0m2 0h0m4 0h0m2 0h0m2 0h0m2 0h0m2 0h0m2 0h0m2 0h0m4 0h0m2 0h0m4 0h0m8 0h0m2 0h0m2 0h0m2 0h0m2 0h0m2 0h0m2 0h0m-105 1h0m12 0h0m10 0h0m2 0h0m2 0h0m2 0h0m4 0h0m2 0h0m8 0h0m2 0h0m4 0h0m12 0h0m2 0h0m2 0h0m6 0h0m2 0h0m2 0h0m2 0h0m4 0h0m2 0h0m2 0h0m6 0h0m2 0h0m2 0h0m2 0h0m2 0h0m2 0h0m2 0h0m-129 1h0m46 0h0m2 0h0m4 0h0m4 0h0m2 0h0m2 0h0m4 0h0m4 0h0m2 0h0m8 0h0m4 0h0m18 0h0m4 0h0m2 0h0m2 0h0m6 0h0m4 0h0m2 0h0m4 0h0m2 0h0m4 0h0m2 0h0m-133 1h0m6 0h0m40 0h0m6 0h0m4 0h0m2 0h0m2 0h0m2 0h0m2 0h0m4 0h0m6 0h0m6 0h0m2 0h0m2 0h0m10 0h0m4 0h0m2 0h0m2 0h0m4 0h0m4 0h0m12 0h0m2 0h0m2 0h0m2 0h0m2 0h0m2 0h0m2 0h0m-115 1h0m34 0h0m2 0h0m2 0h0m4 0h0m2 0h0m2 0h0m2 0h0m2 0h0m2 0h0m2 0h0m2 0h0m2 0h0m2 0h0m2 0h0m2 0h0m12 0h0m6 0h0m4 0h0m18 0h0m4 0h0m2 0h0m2 0h0m2 0h0m-133 1h0m44 0h0m4 0h0m2 0h0m2 0h0m2 0h0m2 0h0m6 0h0m4 0h0m2 0h0m2 0h0m2 0h0m4 0h0m4 0h0m2 0h0m12 0h0m6 0h0m2 0h0m20 0h0m2 0h0m2 0h0m2 0h0m-89 1h0m20 0h0m4 0h0m8 0h0m4 0h0m2 0h0m2 0h0m6 0h0m2 0h0m6 0h0m2 0h0m6 0h0m2 0h0m18 0h0m4 0h0m-101 1h0m14 0h0m4 0h0m6 0h0m2 0h0m4 0h0m4 0h0m2 0h0m2 0h0m2 0h0m2 0h0m4 0h0m2 0h0m2 0h0m2 0h0m2 0h0m2 0h0m10 0h0m6 0h0m2 0h0m4 0h0m16 0h0m2 0h0m2 0h0m10 0h0m-99 1h0m2 0h0m8 0h0m2 0h0m12 0h0m2 0h0m2 0h0m6 0h0m14 0h0m2 0h0m2 0h0m4 0h0m4 0h0m2 0h0m2 0h0m4 0h0m2 0h0m2 0h0m2 0h0m6 0h0m8 0h0m2 0h0m2 0h0m4 0h0m2 0h0m-123 1h0m20 0h0m12 0h0m4 0h0m2 0h0m2 0h0m4 0h0m2 0h0m2 0h0m4 0h0m2 0h0m2 0h0m4 0h0m2 0h0m2 0h0m2 0h0m10 0h0m4 0h0m8 0h0m8 0h0m2 0h0m2 0h0m2 0h0m6 0h0m4 0h0m6 0h0m-117 1h0m30 0h0m2 0h0m6 0h0m2 0h0m10 0h0m2 0h0m2 0h0m2 0h0m4 0h0m2 0h0m2 0h0m6 0h0m6 0h0m2 0h0m2 0h0m6 0h0m4 0h0m8 0h0m2 0h0m2 0h0m12 0h0m2 0h0m2 0h0m-91 1h0m8 0h0m2 0h0m6 0h0m10 0h0m2 0h0m4 0h0m2 0h0m2 0h0m2 0h0m4 0h0m2 0h0m2 0h0m4 0h0m2 0h0m2 0h0m6 0h0m2 0h0m4 0h0m2 0h0m2 0h0m4 0h0m2 0h0m2 0h0m2 0h0m4 0h0m2 0h0m2 0h0m2 0h0m2 0h0m-127 1h0m38 0h0m6 0h0m2 0h0m10 0h0m2 0h0m4 0h0m2 0h0m6 0h0m2 0h0m2 0h0m2 0h0m2 0h0m4 0h0m2 0h0m2 0h0m4 0h0m2 0h0m2 0h0m2 0h0m2 0h0m2 0h0m2 0h0m4 0h0m2 0h0m2 0h0m2 0h0m4 0h0m4 0h0m4 0h0m2 0h0m-125 1h0m32 0h0m4 0h0m14 0h0m4 0h0m6 0h0m4 0h0m4 0h0m2 0h0m2 0h0m4 0h0m2 0h0m2 0h0m6 0h0m2 0h0m2 0h0m4 0h0m2 0h0m2 0h0m4 0h0m2 0h0m4 0h0m2 0h0m10 0h0m4 0h0m-125 1h0m18 0h0m18 0h0m4 0h0m12 0h0m14 0h0m6 0h0m2 0h0m2 0h0m2 0h0m2 0h0m12 0h0m2 0h0m6 0h0m8 0h0m2 0h0m4 0h0m4 0h0m2 0h0m2 0h0m-117 1h0m34 0h0m2 0h0m10 0h0m4 0h0m4 0h0m2 0h0m10 0h0m2 0h0m2 0h0m2 0h0m6 0h0m4 0h0m6 0h0m8 0h0m6 0h0m4 0h0m2 0h0m10 0h0m-123 1h0m16 0h0m16 0h0m10 0h0m2 0h0m2 0h0m4 0h0m12 0h0m4 0h0m2 0h0m4 0h0m2 0h0m2 0h0m2 0h0m2 0h0m2 0h0m2 0h0m18 0h0m10 0h0m2 0h0m4 0h0m2 0h0m2 0h0m-115 1h0m6 0h0m8 0h0m12 0h0m2 0h0m14 0h0m2 0h0m2 0h0m2 0h0m2 0h0m2 0h0m6 0h0m2 0h0m10 0h0m6 0h0m2 0h0m14 0h0m12 0h0m10 0h0m-117 1h0m6 0h0m18 0h0m2 0h0m6 0h0m2 0h0m4 0h0m6 0h0m4 0h0m2 0h0m10 0h0m4 0h0m4 0h0m2 0h0m2 0h0m2 0h0m8 0h0m4 0h0m2 0h0m4 0h0m10 0h0m4 0h0m-105 1h0m36 0h0m2 0h0m4 0h0m4 0h0m8 0h0m6 0h0m8 0h0m4 0h0m4 0h0m2 0h0m24 0h0m-103 1h0m22 0h0m18 0h0m8 0h0m10 0h0m2 0h0m4 0h0m2 0h0m4 0h0m2 0h0m4 0h0m6 0h0m30 0h0m-103 1h0m10 0h0m6 0h0m14 0h0m4 0h0m2 0h0m4 0h0m2 0h0m2 0h0m2 0h0m2 0h0m8 0h0m2 0h0m4 0h0m4 0h0m4 0h0m28 0h0m-99 1h0m24 0h0m4 0h0m2 0h0m2 0h0m8 0h0m4 0h0m6 0h0m6 0h0m2 0h0m2 0h0m6 0h0m2 0h0m2 0h0m12 0h0m10 0h0m-85 1h0m26 0h0m2 0h0m2 0h0m6 0h0m4 0h0m2 0h0m2 0h0m6 0h0m2 0h0m2 0h0m18 0h0m4 0h0m16 0h0m-91 1h0m2 0h0m8 0h0m4 0h0m6 0h0m10 0h0m4 0h0m6 0h0m4 0h0m20 0h0m6 0h0m14 0h0m-89 1h0m22 0h0m4 0h0m2 0h0m28 0h0m8 0h0m6 0h0m2 0h0m2 0h0m16 0h0m-87 1h0m4 0h0m52 0h0m8 0h0m22 0h0m2 0h0m-87 1h0m10 0h0m8 0h0m28 0h0m4 0h0m14 0h0m2 0h0m6 0h0m6 0h0m8 0h0m-97 1h0m10 0h0m24 0h0m16 0h0m4 0h0m2 0h0m2 0h0m6 0h0m4 0h0m8 0h0m2 0h0m8 0h0m2 0h0m-91 1h0m20 0h0m4 0h0m10 0h0m16 0h0m2 0h0m6 0h0m2 0h0m10 0h0m2 0h0m8 0h0m4 0h0m2 0h0m2 0h0m2 0h0m2 0h0m2 0h0m2 0h0m2 0h0m-97 1h0m6 0h0m20 0h0m8 0h0m14 0h0m8 0h0m2 0h0m6 0h0m18 0h0m12 0h0m2 0h0m-65 1h0m4 0h0m2 0h0m4 0h0m20 0h0m2 0h0m2 0h0m6 0h0m8 0h0m2 0h0m2 0h0m2 0h0m2 0h0m-83 1h0m44 0h0m10 0h0m4 0h0m4 0h0m8 0h0m8 0h0m4 0h0m6 0h0m-91 1h0m38 0h0m2 0h0m18 0h0m2 0h0m18 0h0m6 0h0m2 0h0m2 0h0m2 0h0m-97 1h0m2 0h0m2 0h0m4 0h0m58 0h0m4 0h0m-69 1h0m4 0h0m4 0h0m2 0h0m2 0h0m22 0h0m4 0h0m4 0h0m6 0h0m6 0h0m10 0h0m2 0h0m4 0h0m6 0h0m8 0h0m4 0h0m-87 1h0m10 0h0m8 0h0m2 0h0m10 0h0m2 0h0m4 0h0m14 0h0m2 0h0m2 0h0m6 0h0m2 0h0m4 0h0m4 0h0m4 0h0m2 0h0m10 0h0m-85 1h0m2 0h0m2 0h0m4 0h0m2 0h0m2 0h0m6 0h0m6 0h0m6 0h0m6 0h0m6 0h0m10 0h0m8 0h0m10 0h0m2 0h0m4 0h0m2 0h0m6 0h0m-87 1h0m4 0h0m2 0h0m2 0h0m2 0h0m4 0h0m2 0h0m2 0h0m4 0h0m2 0h0m2 0h0m18 0h0m8 0h0m4 0h0m2 0h0m10 0h0m4 0h0m2 0h0m2 0h0m2 0h0m6 0h0m4 0h0m-85 1h0m4 0h0m2 0h0m6 0h0m2 0h0m2 0h0m8 0h0m2 0h0m2 0h0m2 0h0m4 0h0m4 0h0m6 0h0m6 0h0m2 0h0m12 0h0m2 0h0m6 0h0m2 0h0m2 0h0m2 0h0m2 0h0m-67 1h0m4 0h0m2 0h0m4 0h0m4 0h0m6 0h0m4 0h0m4 0h0m8 0h0m12 0h0m2 0h0m4 0h0m2 0h0m4 0h0m4 0h0" stroke="#3a368c" stroke-width="2.10" stroke-linecap="round" vector-effect="non-scaling-stroke" fill="none"/></g></g>
<g filter="url(#sb)"><g transform="translate(24.00,613.00) scale(1.1500,1.9900)"><path d="M76 2h0m2 0h0m10 0h0m-15 1h0m2 0h0m4 0h0m12 0h0m-27 1h0m4 0h0m2 0h0m6 0h0m-17 1h0m2 0h0m6 0h0m2 0h0m2 0h0m2 0h0m8 0h0m12 0h0m2 0h0m-37 1h0m2 0h0m2 0h0m2 0h0m4 0h0m2 0h0m2 0h0m8 0h0m-21 1h0m4 0h0m8 0h0m4 0h0m8 0h0m22 0h0m20 0h0m-67 1h0m2 0h0m2 0h0m2 0h0m16 0h0m2 0h0m2 0h0m14 0h0m14 0h0m10 0h0m6 0h0m-69 1h0m2 0h0m4 0h0m14 0h0m24 0h0m18 0h0m4 0h0m-69 1h0m2 0h0m2 0h0m2 0h0m2 0h0m2 0h0m2 0h0m6 0h0m14 0h0m8 0h0m6 0h0m2 0h0m18 0h0m-63 1h0m2 0h0m2 0h0m10 0h0m12 0h0m6 0h0m16 0h0m14 0h0m8 0h0m-75 1h0m2 0h0m8 0h0m8 0h0m12 0h0m4 0h0m10 0h0m4 0h0m4 0h0m8 0h0m4 0h0m4 0h0m2 0h0m4 0h0m-73 1h0m2 0h0m6 0h0m12 0h0m22 0h0m12 0h0m6 0h0m2 0h0m6 0h0m4 0h0m8 0h0m-81 1h0m2 0h0m2 0h0m2 0h0m6 0h0m4 0h0m14 0h0m4 0h0m8 0h0m22 0h0m-61 1h0m2 0h0m2 0h0m6 0h0m6 0h0m26 0h0m4 0h0m8 0h0m2 0h0m6 0h0m-65 1h0m8 0h0m4 0h0m20 0h0m8 0h0m6 0h0m2 0h0m2 0h0m8 0h0m2 0h0m4 0h0m6 0h0m8 0h0m2 0h0m2 0h0m-127 1h0m42 0h0m2 0h0m2 0h0m4 0h0m2 0h0m4 0h0m6 0h0m2 0h0m2 0h0m8 0h0m2 0h0m8 0h0m14 0h0m8 0h0m6 0h0m2 0h0m2 0h0m12 0h0m-135 1h0m42 0h0m4 0h0m2 0h0m8 0h0m6 0h0m4 0h0m10 0h0m2 0h0m14 0h0m2 0h0m4 0h0m4 0h0m6 0h0m2 0h0m16 0h0m2 0h0m-87 1h0m6 0h0m4 0h0m6 0h0m8 0h0m2 0h0m4 0h0m16 0h0m6 0h0m10 0h0m4 0h0m10 0h0m10 0h0m2 0h0m-123 1h0m16 0h0m14 0h0m28 0h0m4 0h0m2 0h0m12 0h0m8 0h0m2 0h0m10 0h0m16 0h0m4 0h0m2 0h0m-119 1h0m18 0h0m2 0h0m24 0h0m10 0h0m10 0h0m4 0h0m2 0h0m14 0h0m8 0h0m36 0h0m2 0h0m-129 1h0m38 0h0m16 0h0m2 0h0m2 0h0m8 0h0m24 0h0m6 0h0m2 0h0m4 0h0m4 0h0m18 0h0m-119 1h0m2 0h0m12 0h0m26 0h0m12 0h0m2 0h0m8 0h0m18 0h0m16 0h0m12 0h0m4 0h0m2 0h0m4 0h0m-89 1h0m10 0h0m12 0h0m28 0h0m2 0h0m2 0h0m6 0h0m6 0h0m14 0h0m6 0h0m2 0h0m2 0h0m2 0h0m-125 1h0m10 0h0m8 0h0m16 0h0m8 0h0m16 0h0m4 0h0m2 0h0m6 0h0m22 0h0m6 0h0m12 0h0m2 0h0m10 0h0m4 0h0m-123 1h0m6 0h0m2 0h0m12 0h0m12 0h0m2 0h0m2 0h0m8 0h0m10 0h0m22 0h0m10 0h0m2 0h0m6 0h0m2 0h0m4 0h0m2 0h0m2 0h0m2 0h0m4 0h0m8 0h0m2 0h0m2 0h0m4 0h0m-85 1h0m2 0h0m4 0h0m4 0h0m4 0h0m8 0h0m16 0h0m14 0h0m10 0h0m4 0h0m2 0h0m2 0h0m4 0h0m6 0h0m2 0h0m-127 1h0m18 0h0m26 0h0m8 0h0m16 0h0m4 0h0m24 0h0m8 0h0m4 0h0m4 0h0m4 0h0m6 0h0m-113 1h0m30 0h0m6 0h0m6 0h0m2 0h0m4 0h0m8 0h0m6 0h0m14 0h0m10 0h0m4 0h0m2 0h0m4 0h0m4 0h0m2 0h0m2 0h0m8 0h0m-123 1h0m4 0h0m6 0h0m2 0h0m6 0h0m28 0h0m2 0h0m4 0h0m8 0h0m6 0h0m4 0h0m18 0h0m4 0h0m6 0h0m6 0h0m2 0h0m2 0h0m4 0h0m2 0h0m6 0h0m2 0h0m-119 1h0m4 0h0m44 0h0m2 0h0m2 0h0m6 0h0m4 0h0m2 0h0m2 0h0m2 0h0m8 0h0m2 0h0m2 0h0m10 0h0m12 0h0m2 0h0m2 0h0m6 0h0m4 0h0m12 0h0m-127 1h0m32 0h0m16 0h0m2 0h0m12 0h0m4 0h0m18 0h0m2 0h0m14 0h0m8 0h0m22 0h0m-131 1h0m20 0h0m26 0h0m2 0h0m10 0h0m4 0h0m20 0h0m18 0h0m14 0h0m12 0h0m6 0h0m-103 1h0m4 0h0m2 0h0m16 0h0m2 0h0m4 0h0m2 0h0m22 0h0m2 0h0m6 0h0m2 0h0m18 0h0m14 0h0m4 0h0m2 0h0m2 0h0m2 0h0m-123 1h0m66 0h0m8 0h0m6 0h0m2 0h0m24 0h0m14 0h0m-127 1h0m10 0h0m2 0h0m30 0h0m2 0h0m20 0h0m4 0h0m2 0h0m6 0h0m6 0h0m6 0h0m2 0h0m2 0h0m10 0h0m16 0h0m4 0h0m2 0h0m2 0h0m4 0h0m-133 1h0m46 0h0m4 0h0m12 0h0m10 0h0m4 0h0m8 0h0m16 0h0m6 0h0m4 0h0m4 0h0m10 0h0m-115 1h0m10 0h0m28 0h0m16 0h0m4 0h0m20 0h0m8 0h0m32 0h0m6 0h0m-129 1h0m10 0h0m30 0h0m6 0h0m42 0h0m32 0h0m4 0h0m4 0h0m-107 1h0m40 0h0m8 0h0m2 0h0m12 0h0m16 0h0m6 0h0m6 0h0m-113 1h0m16 0h0m22 0h0m16 0h0m8 0h0m2 0h0m10 0h0m28 0h0m10 0h0m18 0h0m-129 1h0m18 0h0m28 0h0m4 0h0m18 0h0m4 0h0m16 0h0m2 0h0m8 0h0m10 0h0m4 0h0m-103 1h0m40 0h0m18 0h0m4 0h0m10 0h0m30 0h0m2 0h0m-103 1h0m12 0h0m24 0h0m8 0h0m26 0h0m4 0h0m8 0h0m6 0h0m-57 1h0m12 0h0m6 0h0m10 0h0m10 0h0m2 0h0m2 0h0m8 0h0m2 0h0m22 0h0m10 0h0m-117 1h0m36 0h0m2 0h0m2 0h0m2 0h0m2 0h0m4 0h0m4 0h0m2 0h0m16 0h0m6 0h0m2 0h0m6 0h0m2 0h0m20 0h0m4 0h0m4 0h0m2 0h0m2 0h0m-117 1h0m2 0h0m24 0h0m4 0h0m2 0h0m10 0h0m12 0h0m14 0h0m2 0h0m2 0h0m2 0h0m6 0h0m6 0h0m4 0h0m20 0h0m2 0h0m4 0h0m-89 1h0m30 0h0m2 0h0m2 0h0m2 0h0m2 0h0m8 0h0m30 0h0m2 0h0m8 0h0m-117 1h0m24 0h0m24 0h0m18 0h0m2 0h0m2 0h0m2 0h0m4 0h0m4 0h0m8 0h0m4 0h0m10 0h0m10 0h0m2 0h0m4 0h0m2 0h0m-119 1h0m14 0h0m28 0h0m22 0h0m6 0h0m2 0h0m14 0h0m18 0h0m2 0h0m2 0h0m2 0h0m-81 1h0m14 0h0m4 0h0m2 0h0m16 0h0m16 0h0m-87 1h0m10 0h0m18 0h0m16 0h0m12 0h0m8 0h0m20 0h0m26 0h0m8 0h0m-101 1h0m18 0h0m10 0h0m10 0h0m16 0h0m18 0h0m8 0h0m12 0h0m10 0h0m-91 1h0m2 0h0m8 0h0m6 0h0m12 0h0m8 0h0m2 0h0m14 0h0m4 0h0m18 0h0m18 0h0m-115 1h0m4 0h0m8 0h0m28 0h0m8 0h0m8 0h0m2 0h0m2 0h0m10 0h0m2 0h0m4 0h0m12 0h0m12 0h0m-107 1h0m2 0h0m32 0h0m2 0h0m10 0h0m4 0h0m34 0h0m8 0h0m2 0h0m2 0h0m10 0h0m-99 1h0m6 0h0m32 0h0m14 0h0m20 0h0m6 0h0m4 0h0m2 0h0m8 0h0m8 0h0m8 0h0m-117 1h0m12 0h0m2 0h0m2 0h0m42 0h0m30 0h0m6 0h0m10 0h0m8 0h0m6 0h0m-109 1h0m12 0h0m24 0h0m10 0h0m2 0h0m4 0h0m2 0h0m8 0h0m14 0h0m2 0h0m6 0h0m4 0h0m20 0h0m-107 1h0m4 0h0m14 0h0m20 0h0m2 0h0m6 0h0m2 0h0m8 0h0m16 0h0m8 0h0m14 0h0m10 0h0m-69 1h0m18 0h0m4 0h0m40 0h0m6 0h0m-83 1h0m16 0h0m12 0h0m40 0h0m4 0h0m4 0h0m4 0h0m-99 1h0m16 0h0m26 0h0m4 0h0m22 0h0m14 0h0m8 0h0m2 0h0m4 0h0m-91 1h0m12 0h0m4 0h0m14 0h0m2 0h0m8 0h0m26 0h0m10 0h0m8 0h0m2 0h0m-85 1h0m2 0h0m6 0h0m28 0h0m2 0h0m2 0h0m10 0h0m2 0h0m4 0h0m20 0h0m14 0h0m-91 1h0m4 0h0m4 0h0m6 0h0m6 0h0m4 0h0m2 0h0m8 0h0m2 0h0m2 0h0m12 0h0m4 0h0m6 0h0m12 0h0m2 0h0m4 0h0m4 0h0m2 0h0m2 0h0m-93 1h0m4 0h0m4 0h0m4 0h0m14 0h0m14 0h0m4 0h0m10 0h0m4 0h0m4 0h0m6 0h0m2 0h0m2 0h0m14 0h0m6 0h0m-87 1h0m2 0h0m4 0h0m2 0h0m2 0h0m8 0h0m14 0h0m4 0h0m6 0h0m42 0h0m4 0h0m-87 1h0m2 0h0m6 0h0m4 0h0m4 0h0m14 0h0m2 0h0m2 0h0m2 0h0m10 0h0m6 0h0m20 0h0m-79 1h0m22 0h0m4 0h0m2 0h0m12 0h0m4 0h0m14 0h0m2 0h0m6 0h0m4 0h0m4 0h0m4 0h0m8 0h0m4 0h0m-67 1h0m4 0h0m16 0h0m2 0h0m22 0h0m24 0h0m-97 1h0m2 0h0m2 0h0m2 0h0m34 0h0m2 0h0m2 0h0m24 0h0m8 0h0m8 0h0m8 0h0m-89 1h0m6 0h0m26 0h0m4 0h0m14 0h0m6 0h0m26 0h0m-81 1h0m6 0h0m24 0h0m2 0h0m2 0h0m6 0h0m2 0h0m2 0h0m4 0h0m2 0h0m4 0h0m2 0h0m2 0h0m8 0h0m8 0h0m6 0h0m2 0h0m4 0h0m2 0h0m-91 1h0m12 0h0m22 0h0m4 0h0m4 0h0m2 0h0m4 0h0m8 0h0m2 0h0m12 0h0m2 0h0m8 0h0m10 0h0m-77 1h0m24 0h0m4 0h0m6 0h0m8 0h0m26 0h0m2 0h0m-67 1h0m4 0h0m14 0h0m4 0h0m2 0h0m6 0h0m8 0h0m4 0h0m8 0h0m20 0h0m-87 1h0m26 0h0m10 0h0m8 0h0m4 0h0m10 0h0m4 0h0m22 0h0m-81 1h0m8 0h0m8 0h0m14 0h0m8 0h0m6 0h0m22 0h0m2 0h0m12 0h0m-71 1h0m10 0h0m4 0h0m4 0h0m6 0h0m10 0h0m2 0h0m28 0h0" stroke="#2e84a2" stroke-width="2.10" stroke-linecap="round" vector-effect="non-scaling-stroke" fill="none"/></g></g>
<g filter="url(#sb)"><g transform="translate(24.00,613.00) scale(1.1500,1.9900)"><path d="M87 3h0m-3 1h0m-1 1h0m-6 2h0m46 0h0m-17 1h0m8 0h0m10 0h0m2 0h0m-45 1h0m42 0h0m-39 1h0m34 0h0m8 0h0m-39 1h0m28 0h0m8 0h0m2 0h0m-43 1h0m44 0h0m-43 1h0m8 0h0m20 0h0m2 0h0m-27 1h0m48 0h0m-49 1h0m50 0h0m-131 3h0m14 0h0m68 0h0m-83 1h0m2 0h0m12 0h0m2 0h0m28 0h0m-3 1h0m1 1h0m-7 1h0m6 0h0m4 0h0m2 0h0m30 0h0m-43 1h0m10 0h0m2 0h0m6 0h0m14 0h0m4 0h0m-29 1h0m24 0h0m-19 1h0m4 0h0m2 0h0m14 0h0m64 0h0m4 0h0m-73 1h0m6 0h0m8 0h0m2 0h0m-73 1h0m44 0h0m22 0h0m-7 1h0m8 0h0m4 0h0m58 0h0m-99 1h0m26 0h0m12 0h0m-19 1h0m18 0h0m22 0h0m36 0h0m-125 1h0m46 0h0m26 0h0m54 0h0m2 0h0m-89 1h0m10 0h0m22 0h0m2 0h0m50 0h0m-61 1h0m6 0h0m2 0h0m10 0h0m40 0h0m-57 1h0m4 0h0m6 0h0m2 0h0m2 0h0m32 0h0m-57 1h0m14 0h0m2 0h0m2 0h0m6 0h0m48 0h0m6 0h0m-79 1h0m6 0h0m6 0h0m2 0h0m12 0h0m14 0h0m14 0h0m8 0h0m-57 1h0m2 0h0m2 0h0m24 0h0m6 0h0m-37 1h0m14 0h0m6 0h0m6 0h0m38 0h0m10 0h0m6 0h0m-71 1h0m6 0h0m4 0h0m12 0h0m4 0h0m44 0h0m-91 1h0m8 0h0m12 0h0m2 0h0m10 0h0m6 0h0m40 0h0m16 0h0m-99 1h0m28 0h0m10 0h0m8 0h0m2 0h0m2 0h0m28 0h0m-73 1h0m22 0h0m4 0h0m8 0h0m10 0h0m2 0h0m10 0h0m14 0h0m12 0h0m-57 1h0m4 0h0m8 0h0m12 0h0m2 0h0m12 0h0m4 0h0m4 0h0m8 0h0m-33 1h0m4 0h0m2 0h0m32 0h0m-65 1h0m18 0h0m14 0h0m40 0h0m-85 1h0m22 0h0m4 0h0m8 0h0m11 1h0m36 0h0m-81 1h0m4 0h0m2 0h0m12 0h0m4 0h0m22 0h0m24 0h0m-49 1h0m26 0h0m2 0h0m6 0h0m14 0h0m4 0h0m-67 1h0m6 0h0m10 0h0m24 0h0m2 0h0m8 0h0m2 0h0m10 0h0m16 0h0m-73 1h0m28 0h0m16 0h0m8 0h0m-65 1h0m8 0h0m2 0h0m2 0h0m12 0h0m14 0h0m24 0h0m14 0h0m-65 1h0m10 0h0m4 0h0m16 0h0m2 0h0m22 0h0m8 0h0m2 0h0m10 0h0m-73 1h0m2 0h0m2 0h0m4 0h0m2 0h0m22 0h0m12 0h0m6 0h0m22 0h0m-63 1h0m26 0h0m2 0h0m8 0h0m-65 1h0m24 0h0m32 0h0m-71 1h0m22 0h0m4 0h0m18 0h0m8 0h0m2 0h0m6 0h0m-47 1h0m14 0h0m14 0h0m6 0h0m4 0h0m10 0h0m2 0h0m-55 1h0m12 0h0m10 0h0m4 0h0m14 0h0m2 0h0m46 0h0m-73 1h0m12 0h0m6 0h0m12 0h0m6 0h0m-41 1h0m14 0h0m9 1h0m6 0h0m10 0h0m-8 2h0m2 0h0m4 0h0m6 0h0m-5 1h0m-17 1h0m41 1h0m4 0h0m-29 1h0m14 0h0m12 0h0m-72 2h0m56 0h0m6 0h0m2 0h0m-9 1h0m14 0h0m4 0h0m-18 2h0m6 0h0m1 1h0m-83 1h0m-3 1h0m2 0h0m2 0h0m62 0h0m12 0h0m-81 1h0m8 0h0m8 0h0m14 0h0m22 0h0m-11 1h0m12 0h0m-29 1h0m14 0h0m22 0h0m2 0h0m2 0h0m-11 1h0m6 0h0m2 0h0" stroke="#3a5ca8" stroke-width="2.10" stroke-linecap="round" vector-effect="non-scaling-stroke" fill="none"/></g></g>
<g filter="url(#sb)"><g transform="translate(24.00,613.00) scale(1.1500,1.9900)"><path d="M82 4h0m3 1h0m-24 2h0m4 0h0m4 0h0m26 0h0m2 0h0m-31 1h0m2 0h0m6 0h0m4 0h0m-15 1h0m6 0h0m2 0h0m2 0h0m2 0h0m2 0h0m14 0h0m36 0h0m-57 1h0m-3 1h0m4 0h0m6 0h0m2 0h0m-19 1h0m19 1h0m2 0h0m4 0h0m-23 1h0m2 0h0m50 0h0m-51 1h0m12 0h0m-17 1h0m2 0h0m4 0h0m-15 1h0m8 0h0m6 0h0m4 0h0m10 0h0m-71 1h0m4 0h0m50 0h0m2 0h0m4 0h0m4 0h0m6 0h0m22 0h0m-89 1h0m2 0h0m2 0h0m50 0h0m2 0h0m-63 1h0m8 0h0m6 0h0m4 0h0m20 0h0m2 0h0m10 0h0m2 0h0m6 0h0m8 0h0m20 0h0m8 0h0m-93 1h0m6 0h0m2 0h0m2 0h0m2 0h0m2 0h0m2 0h0m4 0h0m8 0h0m38 0h0m4 0h0m10 0h0m-79 1h0m6 0h0m2 0h0m4 0h0m6 0h0m6 0h0m4 0h0m2 0h0m2 0h0m4 0h0m2 0h0m10 0h0m2 0h0m4 0h0m-53 1h0m2 0h0m2 0h0m2 0h0m6 0h0m4 0h0m8 0h0m4 0h0m2 0h0m8 0h0m18 0h0m10 0h0m-61 1h0m2 0h0m2 0h0m2 0h0m4 0h0m10 0h0m2 0h0m2 0h0m2 0h0m4 0h0m6 0h0m10 0h0m4 0h0m2 0h0m4 0h0m10 0h0m8 0h0m-67 1h0m4 0h0m8 0h0m4 0h0m2 0h0m2 0h0m2 0h0m6 0h0m14 0h0m2 0h0m4 0h0m12 0h0m-67 1h0m4 0h0m2 0h0m10 0h0m2 0h0m2 0h0m6 0h0m2 0h0m2 0h0m20 0h0m2 0h0m6 0h0m4 0h0m2 0h0m-65 1h0m2 0h0m4 0h0m4 0h0m2 0h0m2 0h0m4 0h0m2 0h0m2 0h0m2 0h0m2 0h0m6 0h0m2 0h0m6 0h0m30 0h0m46 0h0m-119 1h0m4 0h0m2 0h0m2 0h0m2 0h0m2 0h0m2 0h0m2 0h0m2 0h0m6 0h0m2 0h0m2 0h0m2 0h0m2 0h0m2 0h0m6 0h0m2 0h0m8 0h0m14 0h0m-61 1h0m2 0h0m4 0h0m4 0h0m2 0h0m2 0h0m2 0h0m2 0h0m2 0h0m2 0h0m2 0h0m8 0h0m2 0h0m6 0h0m32 0h0m-69 1h0m2 0h0m6 0h0m2 0h0m4 0h0m2 0h0m16 0h0m2 0h0m18 0h0m-53 1h0m8 0h0m6 0h0m2 0h0m2 0h0m22 0h0m-43 1h0m4 0h0m4 0h0m2 0h0m8 0h0m4 0h0m40 0h0m58 0h0m4 0h0m-125 1h0m4 0h0m4 0h0m2 0h0m2 0h0m2 0h0m4 0h0m6 0h0m12 0h0m2 0h0m2 0h0m4 0h0m28 0h0m-65 1h0m2 0h0m2 0h0m2 0h0m2 0h0m2 0h0m2 0h0m10 0h0m4 0h0m6 0h0m10 0h0m2 0h0m66 0h0m-117 1h0m2 0h0m2 0h0m2 0h0m2 0h0m2 0h0m4 0h0m2 0h0m2 0h0m2 0h0m6 0h0m2 0h0m4 0h0m2 0h0m4 0h0m4 0h0m4 0h0m2 0h0m56 0h0m-103 1h0m2 0h0m4 0h0m2 0h0m4 0h0m6 0h0m2 0h0m4 0h0m2 0h0m2 0h0m2 0h0m2 0h0m2 0h0m4 0h0m4 0h0m2 0h0m26 0h0m-67 1h0m4 0h0m6 0h0m6 0h0m2 0h0m2 0h0m2 0h0m4 0h0m4 0h0m2 0h0m30 0h0m6 0h0m32 0h0m-103 1h0m2 0h0m2 0h0m4 0h0m4 0h0m4 0h0m2 0h0m4 0h0m4 0h0m6 0h0m2 0h0m2 0h0m2 0h0m6 0h0m2 0h0m12 0h0m34 0h0m-93 1h0m2 0h0m2 0h0m4 0h0m2 0h0m8 0h0m2 0h0m2 0h0m2 0h0m8 0h0m2 0h0m2 0h0m2 0h0m2 0h0m8 0h0m54 0h0m-101 1h0m2 0h0m2 0h0m2 0h0m10 0h0m2 0h0m2 0h0m4 0h0m6 0h0m4 0h0m2 0h0m2 0h0m4 0h0m2 0h0m2 0h0m68 0h0m-115 1h0m2 0h0m8 0h0m2 0h0m2 0h0m2 0h0m2 0h0m4 0h0m2 0h0m2 0h0m6 0h0m2 0h0m4 0h0m6 0h0m2 0h0m2 0h0m32 0h0m14 0h0m2 0h0m36 0h0m-129 1h0m6 0h0m2 0h0m2 0h0m2 0h0m2 0h0m2 0h0m2 0h0m4 0h0m4 0h0m2 0h0m2 0h0m2 0h0m2 0h0m2 0h0m4 0h0m2 0h0m36 0h0m8 0h0m2 0h0m8 0h0m30 0h0m-125 1h0m4 0h0m2 0h0m2 0h0m4 0h0m2 0h0m2 0h0m6 0h0m2 0h0m2 0h0m4 0h0m2 0h0m2 0h0m2 0h0m2 0h0m2 0h0m4 0h0m2 0h0m38 0h0m8 0h0m18 0h0m-113 1h0m2 0h0m2 0h0m2 0h0m2 0h0m2 0h0m2 0h0m4 0h0m4 0h0m2 0h0m6 0h0m2 0h0m2 0h0m2 0h0m2 0h0m2 0h0m2 0h0m2 0h0m2 0h0m4 0h0m50 0h0m22 0h0m-119 1h0m2 0h0m2 0h0m2 0h0m2 0h0m4 0h0m2 0h0m2 0h0m4 0h0m2 0h0m2 0h0m2 0h0m2 0h0m2 0h0m4 0h0m2 0h0m4 0h0m48 0h0m-85 1h0m2 0h0m2 0h0m2 0h0m8 0h0m2 0h0m2 0h0m8 0h0m4 0h0m2 0h0m4 0h0m2 0h0m2 0h0m-37 1h0m2 0h0m8 0h0m2 0h0m2 0h0m4 0h0m2 0h0m2 0h0m2 0h0m2 0h0m2 0h0m16 0h0m-45 1h0m2 0h0m2 0h0m2 0h0m2 0h0m2 0h0m6 0h0m2 0h0m2 0h0m4 0h0m6 0h0m12 0h0m6 0h0m8 0h0m36 0h0m-83 1h0m2 0h0m2 0h0m2 0h0m2 0h0m2 0h0m4 0h0m2 0h0m4 0h0m14 0h0m-23 1h0m6 0h0m4 0h0m6 0h0m2 0h0m10 0h0m22 0h0m28 0h0m-99 1h0m2 0h0m2 0h0m2 0h0m2 0h0m2 0h0m2 0h0m2 0h0m6 0h0m2 0h0m2 0h0m2 0h0m2 0h0m4 0h0m4 0h0m6 0h0m2 0h0m16 0h0m28 0h0m24 0h0m-115 1h0m4 0h0m16 0h0m2 0h0m2 0h0m2 0h0m6 0h0m2 0h0m4 0h0m-35 1h0m12 0h0m6 0h0m4 0h0m2 0h0m2 0h0m4 0h0m6 0h0m2 0h0m2 0h0m12 0h0m62 0h0m-113 1h0m2 0h0m4 0h0m2 0h0m2 0h0m6 0h0m4 0h0m2 0h0m2 0h0m8 0h0m6 0h0m2 0h0m4 0h0m32 0h0m8 0h0m6 0h0m6 0h0m10 0h0m4 0h0m-115 1h0m2 0h0m8 0h0m4 0h0m4 0h0m4 0h0m2 0h0m2 0h0m6 0h0m2 0h0m10 0h0m2 0h0m6 0h0m42 0h0m8 0h0m2 0h0m10 0h0m2 0h0m2 0h0m2 0h0m-115 1h0m4 0h0m2 0h0m2 0h0m4 0h0m4 0h0m2 0h0m2 0h0m2 0h0m2 0h0m10 0h0m14 0h0m2 0h0m4 0h0m4 0h0m6 0h0m18 0h0m4 0h0m8 0h0m4 0h0m2 0h0m4 0h0m6 0h0m-115 1h0m2 0h0m2 0h0m6 0h0m6 0h0m6 0h0m2 0h0m4 0h0m2 0h0m6 0h0m2 0h0m4 0h0m26 0h0m6 0h0m14 0h0m6 0h0m2 0h0m6 0h0m2 0h0m2 0h0m6 0h0m2 0h0m4 0h0m-117 1h0m4 0h0m2 0h0m10 0h0m6 0h0m2 0h0m8 0h0m6 0h0m4 0h0m6 0h0m6 0h0m6 0h0m22 0h0m14 0h0m2 0h0m2 0h0m6 0h0m6 0h0m2 0h0m4 0h0m-119 1h0m2 0h0m4 0h0m4 0h0m2 0h0m2 0h0m2 0h0m2 0h0m4 0h0m2 0h0m4 0h0m2 0h0m2 0h0m2 0h0m2 0h0m38 0h0m4 0h0m10 0h0m2 0h0m4 0h0m4 0h0m2 0h0m2 0h0m2 0h0m4 0h0m2 0h0m2 0h0m-113 1h0m2 0h0m4 0h0m6 0h0m4 0h0m2 0h0m4 0h0m2 0h0m6 0h0m2 0h0m2 0h0m2 0h0m2 0h0m2 0h0m6 0h0m38 0h0m4 0h0m4 0h0m2 0h0m2 0h0m2 0h0m2 0h0m2 0h0m4 0h0m2 0h0m2 0h0m2 0h0m-109 1h0m2 0h0m2 0h0m2 0h0m2 0h0m6 0h0m2 0h0m2 0h0m4 0h0m2 0h0m4 0h0m2 0h0m2 0h0m4 0h0m2 0h0m24 0h0m8 0h0m4 0h0m4 0h0m4 0h0m2 0h0m2 0h0m2 0h0m2 0h0m2 0h0m2 0h0m2 0h0m2 0h0m2 0h0m2 0h0m4 0h0m-103 1h0m2 0h0m6 0h0m2 0h0m6 0h0m2 0h0m4 0h0m4 0h0m2 0h0m4 0h0m10 0h0m2 0h0m4 0h0m10 0h0m10 0h0m10 0h0m2 0h0m2 0h0m2 0h0m2 0h0m4 0h0m4 0h0m8 0h0m4 0h0m-103 1h0m4 0h0m2 0h0m2 0h0m4 0h0m4 0h0m4 0h0m2 0h0m2 0h0m2 0h0m2 0h0m4 0h0m10 0h0m14 0h0m2 0h0m8 0h0m2 0h0m4 0h0m2 0h0m2 0h0m2 0h0m2 0h0m8 0h0m2 0h0m6 0h0m4 0h0m-95 1h0m4 0h0m6 0h0m2 0h0m10 0h0m2 0h0m4 0h0m2 0h0m8 0h0m6 0h0m4 0h0m4 0h0m6 0h0m4 0h0m2 0h0m8 0h0m2 0h0m6 0h0m2 0h0m2 0h0m8 0h0m2 0h0m2 0h0m-99 1h0m2 0h0m8 0h0m2 0h0m4 0h0m2 0h0m2 0h0m2 0h0m2 0h0m4 0h0m6 0h0m2 0h0m2 0h0m2 0h0m8 0h0m2 0h0m2 0h0m2 0h0m12 0h0m4 0h0m2 0h0m8 0h0m4 0h0m2 0h0m2 0h0m2 0h0m2 0h0m-93 1h0m2 0h0m2 0h0m12 0h0m2 0h0m6 0h0m4 0h0m6 0h0m2 0h0m2 0h0m12 0h0m4 0h0m4 0h0m4 0h0m8 0h0m4 0h0m2 0h0m6 0h0m4 0h0m-85 1h0m4 0h0m8 0h0m2 0h0m2 0h0m4 0h0m2 0h0m6 0h0m2 0h0m2 0h0m4 0h0m4 0h0m4 0h0m2 0h0m2 0h0m2 0h0m12 0h0m2 0h0m12 0h0m2 0h0m4 0h0m-83 1h0m2 0h0m14 0h0m2 0h0m2 0h0m8 0h0m2 0h0m4 0h0m4 0h0m4 0h0m2 0h0m14 0h0m2 0h0m10 0h0m2 0h0m8 0h0m2 0h0m12 0h0m-97 1h0m2 0h0m4 0h0m6 0h0m2 0h0m12 0h0m2 0h0m2 0h0m4 0h0m2 0h0m16 0h0m10 0h0m2 0h0m2 0h0m6 0h0m2 0h0m2 0h0m-79 1h0m6 0h0m28 0h0m6 0h0m2 0h0m4 0h0m26 0h0m4 0h0m16 0h0m-93 1h0m2 0h0m2 0h0m2 0h0m2 0h0m22 0h0m12 0h0m4 0h0m6 0h0m8 0h0m2 0h0m14 0h0m2 0h0m14 0h0m-83 1h0m22 0h0m2 0h0m2 0h0m2 0h0m8 0h0m2 0h0m2 0h0m14 0h0m8 0h0m8 0h0m2 0h0m6 0h0m6 0h0m-95 1h0m2 0h0m30 0h0m2 0h0m4 0h0m4 0h0m6 0h0m2 0h0m2 0h0m10 0h0m6 0h0m2 0h0m2 0h0m2 0h0m2 0h0m2 0h0m2 0h0m-71 1h0m20 0h0m2 0h0m2 0h0m10 0h0m8 0h0m16 0h0m6 0h0m4 0h0m4 0h0m-55 1h0m2 0h0m4 0h0m20 0h0m4 0h0m6 0h0m6 0h0m10 0h0m2 0h0m6 0h0m4 0h0m-81 1h0m4 0h0m10 0h0m2 0h0m2 0h0m2 0h0m6 0h0m6 0h0m4 0h0m2 0h0m12 0h0m6 0h0m8 0h0m6 0h0m10 0h0m-65 1h0m4 0h0m6 0h0m12 0h0m4 0h0m8 0h0m6 0h0m2 0h0m4 0h0m12 0h0m2 0h0m-73 1h0m8 0h0m10 0h0m2 0h0m4 0h0m12 0h0m14 0h0m4 0h0m4 0h0m10 0h0m-79 1h0m10 0h0m12 0h0m28 0h0m6 0h0m2 0h0m-41 1h0m16 0h0m8 0h0m4 0h0m10 0h0m2 0h0m10 0h0m6 0h0" stroke="#74c89e" stroke-width="2.10" stroke-linecap="round" vector-effect="non-scaling-stroke" fill="none"/></g></g>
<g filter="url(#sb)"><g transform="translate(24.00,613.00) scale(1.1500,1.9900)"><path d="M7 19h0m44 0h0m-4 2h0m-41 1h0m14 0h0m4 0h0m6 0h0m-24 2h0m2 0h0m40 0h0m-41 1h0m8 0h0m-7 1h0m26 0h0m-17 1h0m8 0h0m12 0h0m2 0h0m-11 1h0m26 0h0m-19 1h0m-27 1h0m7 1h0m2 0h0m32 0h0m-35 1h0m14 0h0m-15 1h0m-5 1h0m24 0h0m2 0h0m-3 1h0m6 0h0m-19 1h0m12 0h0m14 0h0m-31 1h0m4 0h0m2 0h0m4 0h0m2 0h0m10 0h0m4 0h0m6 0h0m6 0h0m-29 1h0m14 0h0m2 0h0m-19 1h0m2 0h0m12 0h0m2 0h0m2 0h0m-21 1h0m2 0h0m2 0h0m2 0h0m8 0h0m10 0h0m-27 1h0m2 0h0m22 0h0m-23 1h0m20 0h0m-25 1h0m20 0h0m2 0h0m8 0h0m-7 1h0m22 0h0m-35 1h0m8 0h0m14 0h0m6 0h0m-25 1h0m2 0h0m8 0h0m2 0h0m2 0h0m4 0h0m-27 1h0m6 0h0m7 1h0m2 0h0m8 0h0m10 0h0m-33 1h0m6 0h0m2 0h0m24 0h0m4 0h0m-35 1h0m6 0h0m2 0h0m2 0h0m2 0h0m2 0h0m2 0h0m6 0h0m2 0h0m4 0h0m-13 1h0m2 0h0m-7 1h0m2 0h0m2 0h0m10 0h0m-27 1h0m4 0h0m8 0h0m4 0h0m6 0h0m22 0h0m-45 1h0m2 0h0m16 0h0m4 0h0m-17 1h0m10 0h0m12 0h0m2 0h0m6 0h0m6 0h0m-35 1h0m12 0h0m7 1h0m-7 1h0m-12 2h0m12 0h0m-5 1h0m-5 1h0m8 0h0m2 0h0m6 0h0m-3 1h0m16 0h0m4 0h0m-31 1h0m20 2h0m24 0h0m6 0h0m16 0h0m-33 1h0m-11 1h0m2 0h0m24 0h0m18 0h0m-67 1h0m42 0h0m-11 1h0m30 0h0m-33 1h0m34 0h0m-73 1h0m76 0h0m-67 1h0m33 1h0m34 0h0m8 0h0m-53 1h0m-13 1h0m59 1h0m-43 1h0m6 0h0m42 0h0m-37 1h0" stroke="#98dcae" stroke-width="2.10" stroke-linecap="round" vector-effect="non-scaling-stroke" fill="none"/></g></g>
<path d="M25.0,676.0 L28.0,676.0 L31.5,690.0 L31.5,703.0 L33.5,733.0 L28.0,736.0 L25.5,738.0 L25.0,700.0 Z" fill="#8878c0"/>
<path d="M25.0,676.0 L28.0,676.0 L31.5,690.0 L31.5,703.0 L33.5,733.0 L28.0,736.0 L25.5,738.0 L25.0,700.0 Z" fill="#3e2e90" filter="url(#hne)"/>
<path d="M30.0,768.5 L60.0,770.5 L100.0,771.5 L120.0,772.5 L121.0,778.6 L28.0,778.6 Z" fill="#7060b4"/>
<path d="M30.0,768.5 L60.0,770.5 L100.0,771.5 L120.0,772.5 L121.0,778.6 L28.0,778.6 Z" fill="#3a2a8c" filter="url(#hne)"/>
<path d="M47.6,659.0 L51.0,657.6 L54.2,660.0 L53.5,666.8 L49.0,666.0 Z" fill="#f1f1f4"/>
<path d="M58.1,672.0 L64.0,670.7 L72.6,673.0 L71.0,679.9 L62.0,679.0 Z" fill="#f1f1f4"/>
<path d="M29.2,705.0 L35.0,703.0 L39.7,708.0 L37.0,716.3 L30.0,714.0 Z" fill="#f1f1f4"/>
<path d="M41.0,717.0 L46.0,715.0 L48.9,718.0 L45.0,721.5 Z" fill="#f1f1f4"/>
<path d="M56.8,727.5 L60.7,726.8 L59.5,730.7 Z" fill="#f1f1f4"/>
<path d="M151.0,703.0 L156.0,699.5 L163.0,699.0 L171.5,699.5 L168.0,706.0 L160.0,709.0 L153.0,708.0 Z" fill="#f1f1f4"/>
<path d="M117.6,675.0 L121.0,673.5 L123.0,678.0 L119.5,680.5 Z" fill="#f1f1f4"/>
<path d="M47.0,752.0 L56.0,750.4 L66.0,753.0 L72.6,757.0 L65.0,762.0 L55.0,763.6 L48.0,760.0 Z" fill="#f1f1f4"/>
<path d="M97.5,752.0 L103.0,750.0 L106.0,755.0 L101.0,761.0 L97.0,759.0 Z" fill="#f1f1f4"/>
<path d="M28.0,761.0 L33.0,760.0 L34.0,768.0 L29.0,769.0 Z" fill="#f1f1f4"/>
</g>
<rect x="203.10" y="792.30" width="172.80" height="172.30" fill="url(#bgL)"/>
<rect x="203.50" y="792.70" width="5.00" height="171.50" fill="url(#fidv)"/>
<path d="M356.8,794 Q368,806 374.3,822" stroke="#c4c6dc" stroke-width="1.2" fill="none"/>
<path d="M208,935.8 Q242,948 283.3,962.6" stroke="#d2d4e2" stroke-width="1.2" fill="none"/>
<g transform="translate(2,184)">
<path d="M243.7,621.1 L249.0,618.4 L258.4,617.8 L270.5,615.7 L278.6,617.1 L285.3,617.8 L289.0,619.8 L293.1,623.8 L297.1,626.5 L303.8,633.2 L311.9,639.9 L319.9,645.3 L325.3,650.7 L332.0,657.4 L338.7,664.1 L336.0,668.1 L338.7,674.8 L342.7,681.6 L348.1,689.6 L352.2,696.7 L356.2,704.8 L361.6,712.8 L365.6,720.9 L366.9,727.6 L365.6,735.7 L362.9,743.7 L360.2,751.8 L354.8,758.5 L350.8,765.2 L348.1,770.6 L342.7,769.2 L336.0,766.6 L332.0,761.2 L331.3,754.5 L325.3,753.1 L321.3,749.1 L311.9,747.7 L305.1,745.1 L298.4,741.0 L291.7,738.3 L284.0,739.0 L278.6,735.7 L267.8,735.7 L258.4,736.3 L251.7,735.7 L241.0,731.6 L231.6,733.0 L220.8,733.0 L211.4,731.6 L203.0,730.5 L203.4,693.6 L206.1,689.6 L210.1,682.9 L212.8,676.2 L216.8,668.1 L220.8,662.7 L224.9,658.7 L223.5,650.7 L224.2,645.3 L224.9,637.2 L230.2,633.2 L238.3,626.5 Z" fill="#26264e"/>
<g filter="url(#sb)"><g transform="translate(204.00,616.00) scale(1.3100,2.5200)"><path d="M52 0h0m-17 1h0m4 0h0m2 0h0m4 0h0m4 0h0m4 0h0m-21 1h0m6 0h0m2 0h0m18 0h0m-25 1h0m6 0h0m2 0h0m4 0h0m-9 1h0m4 0h0m2 0h0m2 0h0m10 0h0m4 0h0m12 0h0m-39 1h0m4 0h0m8 0h0m-21 1h0m8 0h0m8 0h0m2 0h0m4 0h0m2 0h0m2 0h0m2 0h0m4 0h0m2 0h0m2 0h0m16 0h0m-49 1h0m2 0h0m12 0h0m2 0h0m2 0h0m2 0h0m4 0h0m6 0h0m10 0h0m4 0h0m4 0h0m-51 1h0m4 0h0m8 0h0m6 0h0m8 0h0m6 0h0m2 0h0m2 0h0m12 0h0m-51 1h0m2 0h0m2 0h0m4 0h0m6 0h0m12 0h0m10 0h0m2 0h0m2 0h0m14 0h0m-51 1h0m2 0h0m2 0h0m4 0h0m2 0h0m4 0h0m4 0h0m2 0h0m4 0h0m2 0h0m4 0h0m10 0h0m6 0h0m2 0h0m2 0h0m2 0h0m2 0h0m2 0h0m-61 1h0m8 0h0m2 0h0m2 0h0m10 0h0m8 0h0m2 0h0m2 0h0m2 0h0m2 0h0m6 0h0m8 0h0m6 0h0m2 0h0m-59 1h0m10 0h0m6 0h0m10 0h0m4 0h0m14 0h0m4 0h0m8 0h0m6 0h0m2 0h0m6 0h0m-71 1h0m2 0h0m4 0h0m6 0h0m2 0h0m2 0h0m4 0h0m2 0h0m4 0h0m2 0h0m2 0h0m6 0h0m2 0h0m4 0h0m2 0h0m2 0h0m10 0h0m2 0h0m4 0h0m6 0h0m2 0h0m2 0h0m2 0h0m-63 1h0m8 0h0m2 0h0m6 0h0m2 0h0m6 0h0m2 0h0m4 0h0m10 0h0m2 0h0m2 0h0m2 0h0m8 0h0m6 0h0m2 0h0m-73 1h0m2 0h0m2 0h0m2 0h0m4 0h0m6 0h0m12 0h0m2 0h0m2 0h0m6 0h0m4 0h0m2 0h0m2 0h0m4 0h0m4 0h0m10 0h0m2 0h0m2 0h0m2 0h0m2 0h0m-71 1h0m2 0h0m2 0h0m6 0h0m2 0h0m2 0h0m2 0h0m6 0h0m2 0h0m6 0h0m2 0h0m4 0h0m14 0h0m4 0h0m4 0h0m2 0h0m2 0h0m4 0h0m8 0h0m-69 1h0m2 0h0m6 0h0m2 0h0m4 0h0m2 0h0m6 0h0m2 0h0m4 0h0m2 0h0m8 0h0m2 0h0m2 0h0m2 0h0m2 0h0m8 0h0m-63 1h0m4 0h0m12 0h0m32 0h0m14 0h0m10 0h0m14 0h0m-87 1h0m2 0h0m2 0h0m4 0h0m2 0h0m2 0h0m10 0h0m4 0h0m2 0h0m6 0h0m16 0h0m24 0h0m10 0h0m2 0h0m-79 1h0m10 0h0m10 0h0m2 0h0m6 0h0m8 0h0m2 0h0m2 0h0m2 0h0m20 0h0m10 0h0m-71 1h0m14 0h0m4 0h0m4 0h0m8 0h0m4 0h0m6 0h0m14 0h0m4 0h0m12 0h0m8 0h0m2 0h0m-71 1h0m14 0h0m6 0h0m10 0h0m2 0h0m10 0h0m10 0h0m-71 1h0m8 0h0m10 0h0m6 0h0m10 0h0m2 0h0m2 0h0m4 0h0m12 0h0m6 0h0m2 0h0m2 0h0m6 0h0m2 0h0m4 0h0m8 0h0m6 0h0m-81 1h0m6 0h0m2 0h0m6 0h0m2 0h0m12 0h0m4 0h0m8 0h0m4 0h0m2 0h0m2 0h0m10 0h0m14 0h0m4 0h0m2 0h0m2 0h0m2 0h0m-93 1h0m2 0h0m6 0h0m2 0h0m2 0h0m46 0h0m10 0h0m10 0h0m4 0h0m8 0h0m4 0h0m-83 1h0m4 0h0m6 0h0m4 0h0m6 0h0m16 0h0m6 0h0m12 0h0m8 0h0m8 0h0m2 0h0m2 0h0m6 0h0m-83 1h0m14 0h0m6 0h0m2 0h0m8 0h0m6 0h0m8 0h0m14 0h0m8 0h0m2 0h0m4 0h0m4 0h0m4 0h0m8 0h0m-79 1h0m12 0h0m6 0h0m12 0h0m16 0h0m4 0h0m16 0h0m2 0h0m6 0h0m2 0h0m2 0h0m2 0h0m2 0h0m-103 1h0m38 0h0m2 0h0m8 0h0m12 0h0m14 0h0m2 0h0m2 0h0m2 0h0m2 0h0m2 0h0m2 0h0m4 0h0m12 0h0m-87 1h0m4 0h0m2 0h0m4 0h0m18 0h0m6 0h0m8 0h0m4 0h0m6 0h0m2 0h0m6 0h0m12 0h0m10 0h0m2 0h0m2 0h0m2 0h0m-95 1h0m18 0h0m12 0h0m2 0h0m4 0h0m2 0h0m8 0h0m6 0h0m12 0h0m6 0h0m4 0h0m4 0h0m2 0h0m2 0h0m10 0h0m2 0h0m2 0h0m-81 1h0m30 0h0m18 0h0m2 0h0m2 0h0m6 0h0m6 0h0m2 0h0m2 0h0m4 0h0m4 0h0m2 0h0m-77 1h0m14 0h0m6 0h0m6 0h0m4 0h0m6 0h0m10 0h0m2 0h0m6 0h0m2 0h0m2 0h0m2 0h0m2 0h0m8 0h0m10 0h0m-83 1h0m4 0h0m26 0h0m2 0h0m2 0h0m6 0h0m8 0h0m6 0h0m4 0h0m6 0h0m2 0h0m2 0h0m2 0h0m18 0h0m-111 1h0m4 0h0m10 0h0m40 0h0m4 0h0m2 0h0m4 0h0m2 0h0m16 0h0m2 0h0m10 0h0m2 0h0m4 0h0m10 0h0m-113 1h0m8 0h0m12 0h0m4 0h0m14 0h0m18 0h0m6 0h0m2 0h0m6 0h0m10 0h0m6 0h0m12 0h0m2 0h0m2 0h0m4 0h0m4 0h0m2 0h0m-109 1h0m32 0h0m12 0h0m4 0h0m2 0h0m16 0h0m12 0h0m10 0h0m2 0h0m20 0h0m-113 1h0m4 0h0m6 0h0m20 0h0m2 0h0m6 0h0m6 0h0m6 0h0m4 0h0m8 0h0m2 0h0m2 0h0m2 0h0m10 0h0m10 0h0m6 0h0m6 0h0m4 0h0m6 0h0m4 0h0m4 0h0m-115 1h0m2 0h0m4 0h0m2 0h0m26 0h0m2 0h0m10 0h0m10 0h0m14 0h0m8 0h0m2 0h0m6 0h0m4 0h0m6 0h0m8 0h0m4 0h0m-97 1h0m2 0h0m14 0h0m12 0h0m10 0h0m4 0h0m4 0h0m18 0h0m10 0h0m6 0h0m4 0h0m4 0h0m2 0h0m2 0h0m2 0h0m4 0h0m2 0h0m6 0h0m-117 1h0m26 0h0m6 0h0m2 0h0m2 0h0m2 0h0m2 0h0m4 0h0m2 0h0m6 0h0m10 0h0m4 0h0m20 0h0m2 0h0m6 0h0m4 0h0m4 0h0m2 0h0m2 0h0m2 0h0m2 0h0m2 0h0m4 0h0m-115 1h0m20 0h0m22 0h0m4 0h0m2 0h0m4 0h0m2 0h0m14 0h0m8 0h0m4 0h0m2 0h0m2 0h0m6 0h0m2 0h0m8 0h0m2 0h0m4 0h0m6 0h0m-105 1h0m8 0h0m6 0h0m2 0h0m10 0h0m8 0h0m2 0h0m4 0h0m2 0h0m2 0h0m12 0h0m16 0h0m6 0h0m6 0h0m8 0h0m4 0h0m2 0h0m4 0h0m8 0h0m2 0h0m-123 1h0m20 0h0m10 0h0m12 0h0m2 0h0m2 0h0m2 0h0m2 0h0m4 0h0m6 0h0m12 0h0m10 0h0m14 0h0m10 0h0m10 0h0m2 0h0m4 0h0m-121 1h0m2 0h0m2 0h0m6 0h0m4 0h0m2 0h0m2 0h0m2 0h0m2 0h0m6 0h0m18 0h0m2 0h0m8 0h0m18 0h0m2 0h0m8 0h0m4 0h0m4 0h0m2 0h0m12 0h0m2 0h0m8 0h0m-105 1h0m2 0h0m2 0h0m2 0h0m4 0h0m2 0h0m18 0h0m6 0h0m6 0h0m2 0h0m20 0h0m6 0h0m2 0h0m6 0h0m18 0h0m4 0h0m4 0h0m2 0h0m2 0h0m-83 1h0m4 0h0m12 0h0m4 0h0m14 0h0m2 0h0m10 0h0m6 0h0m2 0h0m4 0h0m10 0h0m10 0h0m8 0h0m-53 1h0m4 0h0m14 0h0m14 0h0m8 0h0m-39 1h0m4 0h0m14 0h0m4 0h0m4 0h0m2 0h0m2 0h0m4 0h0m6 0h0m8 0h0m2 0h0m-45 1h0m14 0h0m2 0h0m10 0h0m4 0h0m4 0h0m6 0h0m-37 1h0m26 0h0m2 0h0m4 0h0m4 0h0m2 0h0m2 0h0m-37 1h0m6 0h0m8 0h0m8 0h0m2 0h0m8 0h0m4 0h0m-11 1h0m6 0h0m-19 1h0m2 0h0m2 0h0m20 0h0m-9 1h0m-1 1h0m2 0h0m2 0h0m2 0h0m-15 1h0m12 0h0m-7 1h0m8 0h0m-7 1h0m4 0h0m-1 1h0m2 0h0" stroke="#4a4a9a" stroke-width="2.24" stroke-linecap="round" vector-effect="non-scaling-stroke" fill="none"/></g></g>
<g filter="url(#sb)"><g transform="translate(204.00,616.00) scale(1.3100,2.5200)"><path d="M55 1h0m4 0h0m4 0h0m-27 1h0m8 0h0m8 0h0m4 0h0m6 0h0m-25 1h0m6 0h0m6 0h0m4 0h0m6 0h0m2 0h0m2 0h0m2 0h0m2 0h0m-37 1h0m4 0h0m16 0h0m2 0h0m8 0h0m2 0h0m2 0h0m2 0h0m2 0h0m-43 1h0m12 0h0m10 0h0m2 0h0m8 0h0m6 0h0m6 0h0m-45 1h0m4 0h0m8 0h0m24 0h0m4 0h0m2 0h0m-45 1h0m8 0h0m2 0h0m6 0h0m10 0h0m10 0h0m-33 1h0m4 0h0m8 0h0m10 0h0m6 0h0m20 0h0m6 0h0m-53 1h0m4 0h0m6 0h0m4 0h0m2 0h0m8 0h0m18 0h0m2 0h0m2 0h0m-51 1h0m14 0h0m4 0h0m6 0h0m10 0h0m6 0h0m-41 1h0m4 0h0m10 0h0m2 0h0m2 0h0m8 0h0m12 0h0m6 0h0m4 0h0m6 0h0m10 0h0m2 0h0m-69 1h0m4 0h0m4 0h0m12 0h0m4 0h0m2 0h0m4 0h0m6 0h0m4 0h0m2 0h0m2 0h0m8 0h0m2 0h0m14 0h0m-57 1h0m8 0h0m6 0h0m10 0h0m16 0h0m16 0h0m-63 1h0m4 0h0m2 0h0m8 0h0m6 0h0m8 0h0m8 0h0m6 0h0m4 0h0m26 0h0m-61 1h0m8 0h0m4 0h0m14 0h0m8 0h0m10 0h0m2 0h0m16 0h0m-69 1h0m20 0h0m2 0h0m6 0h0m4 0h0m2 0h0m4 0h0m2 0h0m2 0h0m4 0h0m4 0h0m8 0h0m8 0h0m-73 1h0m2 0h0m2 0h0m8 0h0m12 0h0m14 0h0m20 0h0m10 0h0m8 0h0m-77 1h0m4 0h0m4 0h0m2 0h0m6 0h0m2 0h0m2 0h0m8 0h0m4 0h0m4 0h0m2 0h0m2 0h0m2 0h0m14 0h0m2 0h0m16 0h0m2 0h0m4 0h0m2 0h0m-79 1h0m14 0h0m10 0h0m8 0h0m14 0h0m2 0h0m4 0h0m2 0h0m2 0h0m2 0h0m2 0h0m6 0h0m4 0h0m2 0h0m2 0h0m2 0h0m6 0h0m-89 1h0m2 0h0m8 0h0m2 0h0m4 0h0m4 0h0m6 0h0m6 0h0m6 0h0m2 0h0m2 0h0m12 0h0m6 0h0m2 0h0m2 0h0m4 0h0m8 0h0m2 0h0m4 0h0m4 0h0m-85 1h0m32 0h0m2 0h0m2 0h0m4 0h0m4 0h0m6 0h0m2 0h0m2 0h0m10 0h0m6 0h0m4 0h0m8 0h0m-83 1h0m16 0h0m18 0h0m6 0h0m4 0h0m2 0h0m8 0h0m2 0h0m6 0h0m10 0h0m-67 1h0m8 0h0m2 0h0m14 0h0m2 0h0m14 0h0m28 0h0m-45 1h0m4 0h0m10 0h0m2 0h0m2 0h0m4 0h0m10 0h0m12 0h0m2 0h0m4 0h0m-77 1h0m2 0h0m18 0h0m4 0h0m4 0h0m10 0h0m2 0h0m6 0h0m6 0h0m8 0h0m20 0h0m2 0h0m2 0h0m4 0h0m-87 1h0m4 0h0m18 0h0m8 0h0m4 0h0m6 0h0m4 0h0m6 0h0m2 0h0m4 0h0m8 0h0m6 0h0m2 0h0m10 0h0m-83 1h0m32 0h0m4 0h0m2 0h0m12 0h0m2 0h0m26 0h0m8 0h0m4 0h0m4 0h0m-93 1h0m26 0h0m2 0h0m4 0h0m2 0h0m2 0h0m12 0h0m6 0h0m6 0h0m10 0h0m6 0h0m8 0h0m-79 1h0m2 0h0m6 0h0m20 0h0m2 0h0m2 0h0m4 0h0m12 0h0m4 0h0m22 0h0m6 0h0m4 0h0m6 0h0m-81 1h0m4 0h0m14 0h0m12 0h0m6 0h0m4 0h0m10 0h0m4 0h0m12 0h0m4 0h0m2 0h0m-99 1h0m62 0h0m4 0h0m2 0h0m2 0h0m18 0h0m10 0h0m-57 1h0m6 0h0m2 0h0m2 0h0m2 0h0m6 0h0m2 0h0m4 0h0m2 0h0m2 0h0m14 0h0m6 0h0m8 0h0m10 0h0m2 0h0m2 0h0m-111 1h0m2 0h0m24 0h0m12 0h0m2 0h0m4 0h0m8 0h0m4 0h0m4 0h0m8 0h0m2 0h0m8 0h0m2 0h0m20 0h0m4 0h0m-105 1h0m52 0h0m10 0h0m8 0h0m8 0h0m4 0h0m20 0h0m8 0h0m-105 1h0m16 0h0m6 0h0m2 0h0m4 0h0m2 0h0m18 0h0m6 0h0m20 0h0m2 0h0m2 0h0m8 0h0m2 0h0m12 0h0m4 0h0m2 0h0m-107 1h0m22 0h0m6 0h0m4 0h0m14 0h0m8 0h0m8 0h0m16 0h0m22 0h0m10 0h0m-113 1h0m44 0h0m4 0h0m6 0h0m2 0h0m4 0h0m4 0h0m6 0h0m12 0h0m4 0h0m28 0h0m-107 1h0m12 0h0m22 0h0m6 0h0m8 0h0m16 0h0m4 0h0m-75 1h0m12 0h0m20 0h0m12 0h0m8 0h0m2 0h0m2 0h0m4 0h0m8 0h0m2 0h0m4 0h0m2 0h0m24 0h0m16 0h0m-117 1h0m4 0h0m2 0h0m18 0h0m2 0h0m10 0h0m22 0h0m10 0h0m4 0h0m4 0h0m4 0h0m2 0h0m18 0h0m18 0h0m-117 1h0m58 0h0m2 0h0m2 0h0m4 0h0m6 0h0m2 0h0m2 0h0m4 0h0m14 0h0m26 0h0m-89 1h0m10 0h0m2 0h0m10 0h0m8 0h0m4 0h0m8 0h0m4 0h0m14 0h0m8 0h0m12 0h0m6 0h0m2 0h0m-117 1h0m2 0h0m28 0h0m10 0h0m6 0h0m10 0h0m4 0h0m2 0h0m4 0h0m4 0h0m2 0h0m26 0h0m4 0h0m10 0h0m-111 1h0m12 0h0m2 0h0m4 0h0m4 0h0m6 0h0m4 0h0m16 0h0m4 0h0m10 0h0m8 0h0m6 0h0m4 0h0m2 0h0m4 0h0m2 0h0m6 0h0m6 0h0m16 0h0m-113 1h0m46 0h0m12 0h0m18 0h0m14 0h0m6 0h0m10 0h0m8 0h0m-111 1h0m10 0h0m18 0h0m8 0h0m4 0h0m2 0h0m10 0h0m18 0h0m12 0h0m14 0h0m-71 1h0m14 0h0m6 0h0m8 0h0m4 0h0m2 0h0m6 0h0m12 0h0m12 0h0m2 0h0m6 0h0m-47 1h0m4 0h0m4 0h0m4 0h0m4 0h0m18 0h0m2 0h0m4 0h0m-21 1h0m2 0h0m2 0h0m2 0h0m2 0h0m4 0h0m4 0h0m8 0h0m12 0h0m2 0h0m-29 1h0m6 0h0m2 0h0m2 0h0m22 0h0m-37 1h0m6 0h0m2 0h0m8 0h0m2 0h0m2 0h0m10 0h0m8 0h0m-35 1h0m16 0h0m8 0h0m-19 1h0m6 0h0m2 0h0m2 0h0m8 0h0m2 0h0m-19 1h0m10 0h0m6 0h0m2 0h0m2 0h0m2 0h0m2 0h0m-5 1h0m4 0h0m-15 1h0m4 0h0m-4 2h0m10 0h0m-9 1h0m2 0h0m8 0h0m-2 2h0" stroke="#3a6cb2" stroke-width="2.24" stroke-linecap="round" vector-effect="non-scaling-stroke" fill="none"/></g></g>
<g filter="url(#sb)"><g transform="translate(204.00,616.00) scale(1.3100,2.5200)"><path d="M43 1h0m4 0h0m-5 1h0m6 0h0m6 0h0m10 0h0m-33 1h0m4 0h0m16 0h0m4 0h0m-27 1h0m4 0h0m-3 1h0m4 0h0m12 0h0m6 0h0m4 0h0m4 0h0m2 0h0m-35 1h0m8 0h0m34 0h0m4 0h0m-37 1h0m18 0h0m6 0h0m8 0h0m4 0h0m4 0h0m-55 1h0m18 0h0m4 0h0m20 0h0m2 0h0m-47 1h0m26 0h0m18 0h0m18 0h0m-63 1h0m2 0h0m48 0h0m16 0h0m-61 1h0m20 0h0m2 0h0m22 0h0m14 0h0m-53 1h0m6 0h0m6 0h0m26 0h0m8 0h0m4 0h0m2 0h0m8 0h0m-65 1h0m28 0h0m16 0h0m6 0h0m6 0h0m-27 1h0m14 0h0m12 0h0m2 0h0m2 0h0m4 0h0m2 0h0m-49 1h0m14 0h0m2 0h0m16 0h0m22 0h0m-75 1h0m44 0h0m26 0h0m2 0h0m6 0h0m2 0h0m-69 1h0m8 0h0m14 0h0m22 0h0m8 0h0m8 0h0m2 0h0m2 0h0m6 0h0m-75 1h0m6 0h0m10 0h0m4 0h0m4 0h0m14 0h0m6 0h0m4 0h0m8 0h0m2 0h0m2 0h0m2 0h0m4 0h0m6 0h0m-67 1h0m4 0h0m6 0h0m8 0h0m4 0h0m6 0h0m14 0h0m14 0h0m-65 1h0m8 0h0m8 0h0m2 0h0m10 0h0m24 0h0m16 0h0m10 0h0m4 0h0m-89 1h0m4 0h0m4 0h0m4 0h0m2 0h0m4 0h0m8 0h0m22 0h0m22 0h0m8 0h0m4 0h0m4 0h0m-87 1h0m4 0h0m2 0h0m4 0h0m12 0h0m6 0h0m16 0h0m16 0h0m6 0h0m10 0h0m4 0h0m2 0h0m2 0h0m2 0h0m-81 1h0m22 0h0m14 0h0m4 0h0m4 0h0m2 0h0m28 0h0m10 0h0m-81 1h0m4 0h0m2 0h0m22 0h0m4 0h0m38 0h0m6 0h0m-51 1h0m2 0h0m4 0h0m6 0h0m6 0h0m2 0h0m6 0h0m2 0h0m8 0h0m2 0h0m8 0h0m-83 1h0m2 0h0m2 0h0m18 0h0m14 0h0m8 0h0m18 0h0m8 0h0m4 0h0m18 0h0m4 0h0m-97 1h0m2 0h0m12 0h0m6 0h0m2 0h0m2 0h0m12 0h0m14 0h0m2 0h0m10 0h0m6 0h0m4 0h0m2 0h0m8 0h0m-75 1h0m10 0h0m30 0h0m6 0h0m2 0h0m4 0h0m6 0h0m16 0h0m2 0h0m-85 1h0m4 0h0m4 0h0m6 0h0m6 0h0m8 0h0m4 0h0m2 0h0m22 0h0m10 0h0m4 0h0m2 0h0m2 0h0m20 0h0m-85 1h0m22 0h0m16 0h0m6 0h0m14 0h0m14 0h0m12 0h0m14 0h0m-99 1h0m4 0h0m8 0h0m18 0h0m12 0h0m2 0h0m2 0h0m16 0h0m6 0h0m18 0h0m6 0h0m-57 1h0m10 0h0m16 0h0m30 0h0m-85 1h0m14 0h0m42 0h0m20 0h0m4 0h0m10 0h0m-103 1h0m14 0h0m2 0h0m24 0h0m2 0h0m2 0h0m24 0h0m14 0h0m2 0h0m10 0h0m6 0h0m-79 1h0m18 0h0m8 0h0m4 0h0m10 0h0m12 0h0m12 0h0m18 0h0m-105 1h0m4 0h0m22 0h0m14 0h0m2 0h0m28 0h0m2 0h0m4 0h0m6 0h0m4 0h0m2 0h0m2 0h0m2 0h0m2 0h0m-59 1h0m6 0h0m16 0h0m4 0h0m4 0h0m8 0h0m14 0h0m14 0h0m6 0h0m2 0h0m-105 1h0m22 0h0m8 0h0m22 0h0m2 0h0m10 0h0m4 0h0m8 0h0m2 0h0m2 0h0m26 0h0m4 0h0m-75 1h0m2 0h0m8 0h0m12 0h0m2 0h0m2 0h0m12 0h0m6 0h0m6 0h0m6 0h0m12 0h0m-101 1h0m4 0h0m26 0h0m6 0h0m2 0h0m4 0h0m12 0h0m2 0h0m2 0h0m30 0h0m-89 1h0m6 0h0m4 0h0m34 0h0m6 0h0m14 0h0m8 0h0m6 0h0m18 0h0m-97 1h0m2 0h0m2 0h0m10 0h0m6 0h0m10 0h0m24 0h0m4 0h0m6 0h0m6 0h0m38 0h0m-113 1h0m6 0h0m2 0h0m14 0h0m6 0h0m6 0h0m26 0h0m10 0h0m10 0h0m12 0h0m4 0h0m2 0h0m12 0h0m-109 1h0m6 0h0m2 0h0m2 0h0m16 0h0m10 0h0m20 0h0m6 0h0m4 0h0m8 0h0m12 0h0m20 0h0m2 0h0m2 0h0m2 0h0m10 0h0m-99 1h0m14 0h0m4 0h0m2 0h0m10 0h0m12 0h0m14 0h0m18 0h0m16 0h0m-107 1h0m36 0h0m20 0h0m8 0h0m16 0h0m22 0h0m4 0h0m8 0h0m-79 1h0m4 0h0m4 0h0m10 0h0m20 0h0m4 0h0m8 0h0m20 0h0m6 0h0m-57 1h0m18 0h0m2 0h0m2 0h0m2 0h0m12 0h0m6 0h0m2 0h0m2 0h0m6 0h0m6 0h0m2 0h0m-15 1h0m2 0h0m4 0h0m-31 1h0m2 0h0m2 0h0m18 0h0m8 0h0m-27 1h0m8 0h0m4 0h0m1 1h0m10 0h0m4 0h0m8 0h0m-15 1h0m-5 1h0m5 1h0m8 0h0m-15 1h0m4 0h0m1 1h0m4 0h0m2 0h0m-3 1h0m1 1h0m-5 1h0m2 0h0m2 0h0" stroke="#3c9eaa" stroke-width="2.24" stroke-linecap="round" vector-effect="non-scaling-stroke" fill="none"/></g></g>
<g filter="url(#sb)"><g transform="translate(204.00,616.00) scale(1.3100,2.5200)"><path d="M34 2h0m23 1h0m-1 1h0m-29 1h0m12 0h0m26 0h0m2 0h0m-15 1h0m18 0h0m-47 1h0m10 0h0m18 0h0m-21 1h0m2 0h0m12 0h0m6 0h0m10 0h0m6 0h0m8 0h0m2 0h0m-39 1h0m10 0h0m4 0h0m2 0h0m28 0h0m-31 1h0m6 0h0m-25 1h0m28 0h0m12 0h0m-49 1h0m8 0h0m20 0h0m7 1h0m12 0h0m12 0h0m-65 1h0m2 0h0m4 0h0m10 0h0m10 0h0m18 0h0m-35 1h0m4 0h0m6 0h0m38 0h0m6 0h0m-53 1h0m17 1h0m14 0h0m2 0h0m24 0h0m-19 1h0m-3 1h0m20 0h0m-17 1h0m-37 1h0m42 0h0m16 0h0m-63 1h0m2 0h0m2 0h0m16 0h0m6 0h0m16 0h0m24 0h0m-75 1h0m50 0h0m4 0h0m2 0h0m22 0h0m2 0h0m-55 1h0m32 0h0m-41 1h0m46 0h0m10 0h0m-69 1h0m6 0h0m16 0h0m22 0h0m44 0h0m-71 1h0m10 0h0m16 0h0m10 0h0m12 0h0m14 0h0m6 0h0m-95 1h0m12 0h0m60 0h0m-65 1h0m2 0h0m26 0h0m60 0h0m4 0h0m-69 1h0m6 0h0m46 0h0m-71 1h0m2 0h0m2 0h0m14 0h0m12 0h0m-31 1h0m10 0h0m56 0h0m6 0h0m-75 1h0m2 0h0m36 0h0m12 0h0m48 0h0m-95 1h0m12 0h0m4 0h0m6 0h0m2 0h0m2 0h0m8 0h0m14 0h0m36 0h0m-59 1h0m6 0h0m2 0h0m-19 1h0m10 0h0m14 0h0m6 0h0m8 0h0m40 0h0m-101 1h0m34 0h0m36 0h0m8 0h0m12 0h0m2 0h0m-87 1h0m78 0h0m-83 1h0m16 0h0m64 0h0m-85 1h0m8 0h0m18 0h0m6 0h0m14 0h0m6 0h0m16 0h0m4 0h0m10 0h0m2 0h0m4 0h0m-45 1h0m8 0h0m30 0h0m4 0h0m30 0h0m-115 1h0m28 0h0m10 0h0m8 0h0m20 0h0m22 0h0m12 0h0m6 0h0m14 0h0m-107 1h0m6 0h0m10 0h0m8 0h0m2 0h0m46 0h0m4 0h0m28 0h0m-95 1h0m16 0h0m30 0h0m-43 1h0m14 0h0m10 0h0m10 0h0m2 0h0m16 0h0m8 0h0m14 0h0m18 0h0m-89 1h0m10 0h0m26 0h0m2 0h0m10 0h0m8 0h0m8 0h0m-49 1h0m20 0h0m12 0h0m20 0h0m14 0h0m-19 1h0m20 0h0m6 0h0m-45 1h0m1 1h0m13 1h0m8 0h0m-11 1h0m11 1h0m11 1h0m-7 1h0m2 2h0m4 0h0m8 0h0" stroke="#76c696" stroke-width="2.24" stroke-linecap="round" vector-effect="non-scaling-stroke" fill="none"/></g></g>
<g filter="url(#sb)"><g transform="translate(204.00,616.00) scale(1.3100,2.5200)"><path d="M50 0h0m7 1h0m4 0h0m-15 1h0m-17 1h0m18 0h0m-1 1h0m-5 1h0m30 0h0m-29 1h0m23 3h0m12 0h0m-49 1h0m53 1h0m-56 2h0m5 1h0m11 1h0m-1 3h0m28 0h0m-11 1h0m-41 1h0m62 0h0m6 0h0m-53 1h0m40 0h0m-37 1h0m2 0h0m4 0h0m38 0h0m2 0h0m18 0h0m-77 1h0m2 0h0m10 0h0m44 0h0m20 0h0m-89 1h0m6 0h0m2 0h0m26 0h0m34 0h0m4 0h0m-73 1h0m16 0h0m2 0h0m2 0h0m8 0h0m12 0h0m10 0h0m26 0h0m-71 1h0m14 0h0m46 0h0m-63 1h0m6 0h0m8 0h0m48 0h0m-67 1h0m12 0h0m8 0h0m4 0h0m8 0h0m30 0h0m16 0h0m-49 1h0m28 0h0m2 0h0m-53 1h0m6 0h0m2 0h0m20 0h0m6 0h0m42 0h0m-61 1h0m2 0h0m12 0h0m22 0h0m24 0h0m26 0h0m-111 1h0m2 0h0m12 0h0m6 0h0m2 0h0m8 0h0m2 0h0m4 0h0m28 0h0m10 0h0m-55 1h0m6 0h0m12 0h0m58 0h0m18 0h0m-111 1h0m20 0h0m12 0h0m20 0h0m14 0h0m40 0h0m4 0h0m-111 1h0m14 0h0m4 0h0m4 0h0m8 0h0m8 0h0m6 0h0m26 0h0m2 0h0m22 0h0m20 0h0m-67 1h0m4 0h0m24 0h0m40 0h0m-87 1h0m44 0h0m28 0h0m6 0h0m10 0h0m-95 1h0m4 0h0m14 0h0m52 0h0m4 0h0m10 0h0m-81 1h0m2 0h0m2 0h0m2 0h0m4 0h0m60 0h0m8 0h0m16 0h0m-79 1h0m52 0h0m18 0h0m-105 1h0m6 0h0m14 0h0m2 0h0m66 0h0m-77 1h0m6 0h0m6 0h0m10 0h0m44 0h0m16 0h0m-81 1h0m40 0h0m28 0h0m-23 1h0m38 0h0m-91 1h0m114 0h0m-97 1h0m74 0h0m4 0h0m-25 1h0m24 0h0m6 0h0m8 0h0m-37 3h0m1 1h0m22 2h0m14 0h0m0 2h0m-11 1h0m-4 2h0m6 0h0" stroke="#ece47c" stroke-width="2.24" stroke-linecap="round" vector-effect="non-scaling-stroke" fill="none"/></g></g>
<g filter="url(#sb)"><g transform="translate(204.00,616.00) scale(1.3100,2.5200)"><path d="M51 1h0m-1 1h0m10 0h0m-12 2h0m20 4h0m-37 1h0m32 0h0m12 0h0m-11 1h0m-28 6h0m2 0h0m35 1h0m8 0h0m-52 2h0m24 0h0m-36 2h0m14 2h0m-19 1h0m18 0h0m2 2h0m14 0h0m6 0h0m36 0h0m-80 2h0m2 0h0m20 0h0m2 0h0m2 0h0m46 0h0m16 0h0m-67 1h0m61 1h0m-61 1h0m52 0h0m20 0h0m-83 1h0m6 0h0m16 0h0m-19 1h0m46 0h0m36 0h0m-79 1h0m51 1h0m-56 2h0m6 0h0m70 0h0m10 0h0m-71 5h0m60 2h0m11 1h0m-31 1h0m24 0h0m4 0h0m-36 2h0m12 0h0m12 0h0m-12 2h0m30 0h0m6 0h0m-14 2h0m4 2h0" stroke="#f2a252" stroke-width="2.24" stroke-linecap="round" vector-effect="non-scaling-stroke" fill="none"/></g></g>
<g filter="url(#sb)"><g transform="translate(204.00,616.00) scale(1.3100,2.5200)"><path d="M37 1h0m1 3h0m15 1h0m-35 3h0m40 2h0m22 0h0m-26 2h0m41 5h0m-45 1h0m9 1h0m9 1h0m-35 1h0m8 0h0m32 0h0m-55 1h0m82 0h0m-91 1h0m30 0h0m40 0h0m-69 1h0m22 0h0m42 0h0m8 0h0m-51 1h0m8 0h0m-28 2h0m10 0h0m14 0h0m-15 1h0m34 0h0m-45 1h0m16 0h0m14 0h0m18 0h0m-49 1h0m6 0h0m8 0h0m18 0h0m12 0h0m8 0h0m16 0h0m-43 1h0m4 0h0m38 0h0m-63 1h0m22 0h0m4 0h0m6 0h0m-21 1h0m10 0h0m2 0h0m12 0h0m-33 1h0m22 0h0m40 0h0m30 0h0m-69 1h0m64 0h0m-83 1h0m4 0h0m12 0h0m12 0h0m-41 1h0m4 0h0m12 0h0m2 0h0m4 0h0m4 0h0m2 0h0m6 0h0m40 0h0m-77 1h0m22 0h0m10 0h0m12 0h0m6 0h0m28 0h0m18 0h0m4 0h0m6 0h0m-61 1h0m58 0h0m8 0h0m2 0h0m-83 1h0m84 0h0m-107 1h0m6 0h0m16 0h0m2 0h0m66 0h0m-99 1h0m18 0h0m99 1h0m-111 1h0m96 0h0m-29 1h0m18 0h0m20 0h0m-15 1h0m-57 1h0m82 0h0m-5 1h0m-39 1h0m23 1h0m18 0h0m-41 1h0m32 0h0m7 1h0m-1 1h0m4 0h0m-12 2h0" stroke="#c42a4a" stroke-width="2.24" stroke-linecap="round" vector-effect="non-scaling-stroke" fill="none"/></g></g>
<path d="M201.2,684.0 L205.0,687.0 L209.0,692.0 L211.0,731.6 L201.2,731.0 Z" fill="#6a5cac"/>
<path d="M201.2,684.0 L205.0,687.0 L209.0,692.0 L211.0,731.6 L201.2,731.0 Z" fill="#2e2080" filter="url(#hne)"/>
<path d="M204.7,691.3 L214.1,691.3 L224.9,706.1 L236.9,719.5 L230.2,721.6 L222.2,714.2 L211.4,702.1 Z" fill="#f1f1f4"/>
<path d="M242.3,728.5 L248.0,726.3 L254.4,729.0 L252.0,733.5 L244.0,733.0 Z" fill="#f1f1f4"/>
<path d="M219.5,720.0 L223.5,719.5 L223.0,730.3 L220.0,729.0 Z" fill="#f1f1f4"/>
<path d="M278.6,730.0 L282.0,729.0 L284.0,735.7 L280.0,735.0 Z" fill="#f1f1f4"/>
<path d="M302.5,724.0 L306.0,722.2 L309.2,726.0 L305.0,728.9 Z" fill="#f1f1f4"/>
<path d="M293.0,729.0 L297.0,727.6 L298.4,733.0 L294.5,734.3 Z" fill="#f1f1f4"/>
<path d="M321.3,747.0 L326.0,745.0 L329.3,748.5 L324.0,750.4 Z" fill="#f1f1f4"/>
<path d="M336.0,754.5 L339.0,753.0 L341.4,756.0 L337.5,757.0 Z" fill="#f1f1f4"/>
<path d="M244.0,631.0 L248.0,629.5 L247.0,634.0 Z" fill="#f1f1f4"/>
<path d="M337.0,666.0 L340.0,664.0 L340.0,670.0 Z" fill="#f1f1f4"/>
<path d="M283.0,631.0 L287.0,629.0 L288.0,634.0 L284.0,635.0 Z" fill="#f1f1f4"/>
</g>
<text x="388.00" y="652.30" font-size="9.5" text-anchor="start" fill="#1a1a1a">Cell types</text>
<circle cx="398" cy="668.50" r="2.9" fill="#f0a0a0" stroke="#666" stroke-width="0.5"/>
<text x="412.00" y="671.80" font-size="9.6" text-anchor="start" fill="#1a1a1a">B</text>
<circle cx="398" cy="686.45" r="2.9" fill="#b8a060" stroke="#666" stroke-width="0.5"/>
<text x="412.00" y="689.75" font-size="9.6" text-anchor="start" fill="#1a1a1a">Epithelial</text>
<circle cx="398" cy="704.40" r="2.9" fill="#70c070" stroke="#666" stroke-width="0.5"/>
<text x="412.00" y="707.70" font-size="9.6" text-anchor="start" fill="#1a1a1a">Fibroblast</text>
<circle cx="398" cy="722.35" r="2.9" fill="#70d0d0" stroke="#666" stroke-width="0.5"/>
<text x="412.00" y="725.65" font-size="9.6" text-anchor="start" fill="#1a1a1a">Marcophage</text>
<circle cx="398" cy="740.30" r="2.9" fill="#8aa8e0" stroke="#666" stroke-width="0.5"/>
<text x="412.00" y="743.60" font-size="9.6" text-anchor="start" fill="#1a1a1a">Plasma</text>
<circle cx="398" cy="758.25" r="2.9" fill="#d890d0" stroke="#666" stroke-width="0.5"/>
<text x="412.00" y="761.55" font-size="9.6" text-anchor="start" fill="#1a1a1a">T</text>
<text x="108.00" y="982.40" font-size="9.5" text-anchor="start" fill="#1a1a1a">IFN-gamma signature score</text>
<defs><linearGradient id="spec" x1="0" y1="0" x2="1" y2="0"><stop offset="0" stop-color="#4a4f9e"/><stop offset="0.15" stop-color="#3a88b8"/><stop offset="0.3" stop-color="#66c2a5"/><stop offset="0.45" stop-color="#c8e89c"/><stop offset="0.58" stop-color="#f8f6b8"/><stop offset="0.72" stop-color="#fdb86a"/><stop offset="0.86" stop-color="#e0504a"/><stop offset="1" stop-color="#a0104c"/></linearGradient></defs>
<rect x="229.40" y="972.70" width="65.80" height="12.80" fill="url(#spec)"/>
<line x1="240.30" y1="982.50" x2="240.30" y2="985.50" stroke="#fff" stroke-width="0.8"/>
<line x1="291.70" y1="982.50" x2="291.70" y2="985.50" stroke="#fff" stroke-width="0.8"/>
<text x="237.50" y="996.40" font-size="9.5" text-anchor="middle" fill="#1a1a1a">2.5</text>
<text x="286.30" y="996.40" font-size="9.5" text-anchor="middle" fill="#1a1a1a">10.0</text>
</svg></body></html>
